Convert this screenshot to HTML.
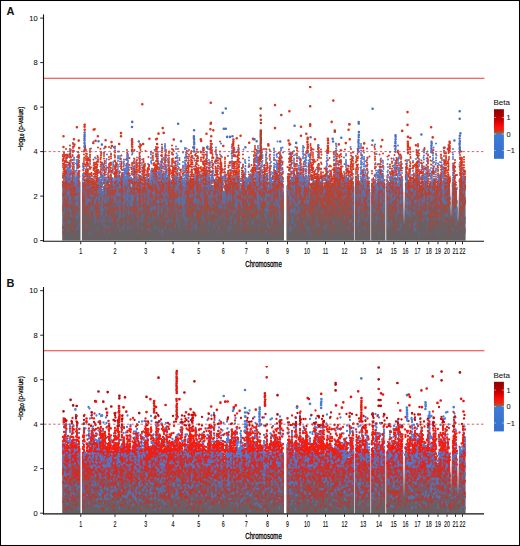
<!DOCTYPE html>
<html><head><meta charset="utf-8"><style>
html,body{margin:0;padding:0;background:#fff;}
svg{display:block;}
text{font-family:"Liberation Sans",sans-serif;fill:#111;}
.pl{font-size:11px;font-weight:bold;}
.yt{font-size:7.5px;text-anchor:end;fill:#111;stroke:#111;stroke-width:0.08px;}
.xt{font-size:8.6px;text-anchor:middle;fill:#111;stroke:#111;stroke-width:0.15px;}
.xl{font-size:9.2px;text-anchor:middle;fill:#000;stroke:#000;stroke-width:0.3px;}
.yl{font-size:7.5px;text-anchor:middle;fill:#000;stroke:#000;stroke-width:0.25px;}
.lg{font-size:8px;fill:#111;stroke:#111;stroke-width:0.06px;}
.lt{font-size:7.4px;fill:#111;stroke:#111;stroke-width:0.06px;}
</style></head><body>
<svg width="520" height="546" viewBox="0 0 520 546">
<defs>
<linearGradient id="cb" x1="0" y1="0" x2="0" y2="1">
<stop offset="0" stop-color="#8c0000"/><stop offset="0.2" stop-color="#c00000"/><stop offset="0.34" stop-color="#ff0a0a"/>
<stop offset="0.44" stop-color="#dd3010"/><stop offset="0.49" stop-color="#777070"/><stop offset="0.51" stop-color="#3f7bd6"/>
<stop offset="1" stop-color="#3270cc"/></linearGradient>
<linearGradient id="gA" gradientUnits="userSpaceOnUse" x1="0" y1="240.6" x2="0" y2="151.6"><stop offset="0.000" stop-color="#656062"/><stop offset="0.100" stop-color="#695f63"/><stop offset="0.200" stop-color="#6c5f63"/><stop offset="0.300" stop-color="#725e65"/><stop offset="0.400" stop-color="#795c66"/><stop offset="0.500" stop-color="#805b67"/><stop offset="0.600" stop-color="#875a69"/><stop offset="0.700" stop-color="#8d596a"/><stop offset="0.800" stop-color="#93586b"/><stop offset="0.900" stop-color="#93586b"/><stop offset="1.000" stop-color="#93586b"/></linearGradient><linearGradient id="gB" gradientUnits="userSpaceOnUse" x1="0" y1="513.2" x2="0" y2="424.20000000000005"><stop offset="0.000" stop-color="#656062"/><stop offset="0.100" stop-color="#6f5c62"/><stop offset="0.200" stop-color="#7a5862"/><stop offset="0.300" stop-color="#7f5662"/><stop offset="0.400" stop-color="#8a5262"/><stop offset="0.500" stop-color="#954d62"/><stop offset="0.600" stop-color="#a14962"/><stop offset="0.700" stop-color="#ad4462"/><stop offset="0.800" stop-color="#b04362"/><stop offset="0.900" stop-color="#b04362"/><stop offset="1.000" stop-color="#b04362"/></linearGradient>
<filter id="soft" x="0" y="0" width="1" height="1"><feGaussianBlur stdDeviation="0.3"/></filter>
</defs>
<rect x="0" y="0" width="520" height="546" fill="#fff"/>
<text x="6.4" y="14.8" class="pl">A</text>
<line x1="44" x2="484" y1="240.60" y2="240.60" stroke="#fafafa" stroke-width="0.6"/>
<line x1="44" x2="484" y1="196.10" y2="196.10" stroke="#fafafa" stroke-width="0.6"/>
<line x1="44" x2="484" y1="151.60" y2="151.60" stroke="#fafafa" stroke-width="0.6"/>
<line x1="44" x2="484" y1="107.10" y2="107.10" stroke="#fafafa" stroke-width="0.6"/>
<line x1="44" x2="484" y1="62.60" y2="62.60" stroke="#fafafa" stroke-width="0.6"/>
<line x1="44" x2="484" y1="18.10" y2="18.10" stroke="#fafafa" stroke-width="0.6"/>
<g filter="url(#soft)"><path d="M62.2 240.6L62.2 182.3L63 182.3L64 185.4L65 180L66 176.8L67 176.3L68 176.7L69 175.7L70 177.2L71 177.3L72 182.5L73 178L74 179.6L75 174.5L76 185.1L77 182.2L78 179.6L79 182.5L80 181.5L80.5 181.5L80.5 240.6ZM81.9 240.6L81.9 179.6L82 179.6L83 183.1L84 183.9L85 180.5L86 177.6L87 179.8L88 181.1L89 181.6L90 179L91 184.5L92 188.7L93 186.3L94 189L95 188.9L96 186.6L97 183.9L98 187.5L99 183.3L100 189.5L101 185.4L102 190.1L103 191.8L104 186.5L105 186.8L106 188.3L107 188L108 184.8L109 184.6L110 184.4L111 180.7L112 184.3L113 185.7L114 186.7L115 181.7L116 179.2L117 176.8L118 179.7L119 181.9L120 179.8L121 182.8L122 180.4L123 179.4L124 183.5L125 183.9L126 184.3L127 178.3L128 171.9L129 177L130 179.7L131 189L132 186.2L133 185.3L134 188.3L135 183.9L136 189.1L137 187.7L138 185.7L139 189.1L140 184.2L141 180.5L142 186.5L143 190.1L144 185.6L145 185L146 188.6L147 187.7L148 186.5L149 185.9L150 182.3L151 181.7L152 176.6L153 174.9L154 176.2L155 175.7L156 174.5L157 175.9L158 183.2L159 180.6L160 181.7L161 177.1L162 179.5L163 179.5L164 180.1L165 176L166 178.6L167 181.6L168 181.5L169 183.9L170 183.3L171 183.6L172 182.8L173 176.8L174 181L175 182L176 183.4L177 181.3L178 186.3L179 187.6L180 186.3L181 183.5L182 183.8L183 185.5L184 187.7L185 184.5L186 179.4L187 180.1L188 181L189 180.7L190 185.1L191 185.6L192 185.8L193 184.1L194 184.1L195 188.1L196 182.6L197 177.5L198 180.9L199 180.8L200 181.1L201 179.6L202 186.2L203 179.9L204 183L205 179.2L206 180.8L207 183.3L208 184L209 180.9L210 185L211 185.8L212 186.6L213 191.2L214 184L215 182L216 182.8L217 179.3L218 184.3L219 184.4L220 178.4L221 177.3L222 187.4L223 197.1L224 195.3L225 187.2L226 187.4L227 186.7L228 183.5L229 186.6L230 184.8L231 181.8L232 181.1L233 180.9L234 184.1L235 182.3L236 184.3L237 179.8L238 172.8L239 179.7L240 188.6L241 188.1L242 185.2L243 181.1L244 178.6L245 183.3L246 186.2L247 181L248 185.8L249 181.4L250 183.1L251 180.9L252 179.7L253 178.8L254 178.1L255 183.7L256 182.8L257 183.2L258 182.4L259 178.9L260 181.8L261 185L262 187L263 186.8L264 183.1L265 186.1L266 181.3L267 181.4L268 183.1L269 187.9L270 185.4L271 182.5L272 188.9L273 182.9L274 177.8L275 179.1L276 179.4L277 173.1L278 173.3L279 180.5L280 181.9L281 183.2L282 184L283 191.8L284 191.8L284 240.6ZM286.4 240.6L286.4 185.2L287 185.2L288 181.8L289 183.6L290 186.4L291 183.6L292 179L293 182L294 178.2L295 179.6L296 183.1L297 178.3L298 183.3L299 180.1L300 183.3L301 182L302 186.9L303 188.5L304 183.1L305 182.8L306 183.1L307 184.9L308 183L309 188L310 190.1L311 188.1L312 189.2L313 189.4L314 187.4L315 186.5L316 186.2L317 179.7L318 178L319 176.2L320 179.4L321 182.9L322 188.1L323 187.6L324 193.1L325 191.3L326 185.8L327 179.6L328 178.1L329 183.3L330 181.9L331 185.3L332 182L333 183.1L334 180.5L335 173.3L336 174.4L337 170.4L338 175.2L339 179.8L340 177L341 174L342 179.8L343 181.2L344 187L345 186.4L346 182.4L347 183.3L348 185.4L349 189.5L350 186L351 182.5L352 181L353 181.3L354 186.6L354.3 186.6L354.3 240.6ZM354.9 240.6L354.9 179.6L355 179.6L356 181.5L357 182.9L358 180.9L359 189.3L360 187.3L361 186.4L362 184.1L363 179.5L364 179.7L365 187.5L366 187.2L367 185.2L368 184.1L369 188.3L370 192.1L370.5 192.1L370.5 240.6ZM371.1 240.6L371.1 184.6L372 184.6L373 184.4L374 189.9L375 181.6L376 192.2L377 190.1L378 180.6L379 182.4L380 182.2L381 186.8L382 181.1L383 186.5L384 184.6L385 183.9L385.4 183.9L385.4 240.6ZM386.2 240.6L386.2 183L387 183L388 188.1L389 188.7L390 186.8L391 187L392 184.2L393 181L394 183.1L395 185.2L396 186.4L397 186.6L398 182.8L399 184L400 182.6L401 183.4L402 186.4L403 182.5L404 225L405 185.4L406 179.8L407 185.1L408 184.8L409 189.7L410 189.1L411 192L412 189.9L413 189.3L414 186.7L415 180.3L416 180.8L417 179.8L418 181.6L419 183.3L420 186.3L421 191.3L422 188.1L423 181L424 180.5L425 183.7L426 178.2L427 181.9L428 184.8L429 188.5L430 189.8L431 188.3L432 179.8L433 182.1L434 186.3L435 187.3L436 186.7L437 191.3L438 187.9L439 183.9L440 182.8L441 181.2L442 186.6L443 191.2L444 184L445 180.3L446 186.8L447 185L448 184.4L449 182.4L450 182.3L451 218.3L452 183.6L453 183.2L454 183.6L455 189.9L456 197.5L457 194.7L458 222.8L459 190.2L460 185.3L461 183.8L462 185.1L463 184.4L464 180.3L465 184.1L465.6 184.1L465.6 240.6Z" fill="url(#gA)"/>
<path transform="scale(.5)" d="M758 463v5M800 463v5M668 462v5M718 459v5M218 464v5M324 458v5M276 464v5M620 465v5M854 462v5M324 465v5M596 460v5M878 461v5M706 465v5M838 464v5M416 459v5M434 462v5M750 459v5M580 459v5M208 461v5M184 462v5M458 459v5M914 460v5M930 461v5M799 459v5M532 461v5M178 464v5M208 462v5M444 462v5M136 459v5M217 460v5M342 459v5" stroke="#5f6987" stroke-width="2.5" stroke-linecap="round" fill="none"/>
<path transform="scale(.5)" d="M856 462v5M320 465v5M522 460v5M638 464v5M198 461v5M126 463v5M857 461v5M412 462v5M550 463v5M468 463v5M538 461v5M903 460v5M715 465v5M498 459v5M668 461v5M668 460v5M548 461v5M643 461v5M900 461v5M798 461v5M562 463v5M788 461v5M298 462v5M690 464v5M611 460v5M620 460v5M636 462v5M627 464v5M746 461v5M478 459v5M150 465v5M666 463v5M632 461v5M499 460v5M596 462v5M548 463v5M278 462v5M864 459v5M460 462v5M202 462v5M700 463v5M288 465v5" stroke="#8d524b" stroke-width="2.5" stroke-linecap="round" fill="none"/>
<path transform="scale(.5)" d="M444 446v5M378 454v5M466 438v5M664 433v5M260 447v5M376 449v5M436 432v5M512 437v5M642 443v5M804 431v5M407 442v5M562 442v5M864 450v5M378 429v5M788 434v5M546 451v5M857 430v5M696 442v5M700 437v5M302 428v5M682 458v5M242 439v5M478 429v5M542 440v5M786 434v5M882 442v5M448 432v5M478 436v5M134 448v5M658 441v5M626 434v5M186 431v5M846 429v5M412 456v5M294 447v5M282 456v5M666 432v5M764 442v5M826 435v5M200 432v5M548 443v5M594 431v5M646 431v5M398 429v5M144 456v5M652 443v5M688 435v5M237 443v5M648 437v5M659 437v5M694 431v5M520 445v5M780 431v5M784 452v5M606 454v5M454 431v5M862 444v5M556 431v5M472 446v5M490 432v5M352 431v5M460 436v5M408 432v5M226 437v5M230 432v5M860 432v5M700 435v5M566 439v5M868 440v5M673 429v5M664 454v5M484 445v5M646 449v5M376 453v5M344 435v5M704 455v5M920 444v5M384 433v5M790 429v5M436 452v5M602 450v5M522 454v5M768 448v5M292 430v5M492 454v5M616 433v5M228 431v5M380 451v5M230 433v5M278 435v5M332 430v5M432 433v5M838 433v5M374 437v5M135 452v5M297 444v5M426 430v5M176 454v5M916 456v5M623 446v5M678 458v5M170 438v5M576 435v5M788 455v5M549 433v5M232 456v5M522 457v5M396 458v5M778 429v5M630 445v5M194 430v5M734 429v5M644 433v5M700 453v5M868 445v5M650 439v5M200 429v5M924 430v5M887 432v5M578 430v5M483 440v5M560 432v5M132 455v5M874 438v5M602 454v5M488 431v5M524 456v5M666 449v5M130 440v5M896 455v5M694 434v5M776 435v5M512 434v5M274 451v5M798 457v5M632 444v5M608 439v5M486 457v5M642 429v5M278 450v5M788 431v5M838 452v5M380 451v5M818 442v5M592 438v5M590 458v5M598 434v5M620 434v5M684 436v5M776 442v5M428 435v5M280 442v5M606 455v5M252 443v5M662 443v5M302 448v5M842 436v5M200 433v5M134 444v5M626 458v5M822 455v5M328 439v5M714 449v5M702 429v5M244 437v5M210 454v5M526 432v5M731 430v5M299 457v5M148 454v5M320 453v5M394 429v5M242 454v5M702 429v5M564 434v5M870 442v5M372 441v5M220 457v5M200 441v5M714 438v5M863 430v5M704 443v5M726 443v5M662 445v5M638 440v5M452 453v5M604 443v5M818 447v5M486 431v5M620 432v5M268 442v5M422 433v5M514 435v5M292 454v5M511 453v5M824 450v5M476 448v5M376 454v5M608 432v5M310 429v5M680 430v5M822 446v5M480 438v5M350 447v5M492 443v5M600 435v5M526 432v5M624 447v5M396 433v5M294 438v5M764 432v5M194 438v5M644 431v5M145 445v5M924 444v5M784 433v5M910 448v5M411 435v5M480 437v5M444 432v5M648 452v5M138 430v5M471 431v5M924 443v5M216 431v5M346 449v5M850 437v5M500 457v5M896 438v5M906 442v5M408 458v5M808 452v5M242 458v5M142 450v5M272 432v5M262 443v5M232 451v5M484 429v5M850 436v5M824 457v5M624 442v5M555 448v5M840 433v5M146 454v5M859 447v5M167 444v5M734 450v5M340 449v5M414 439v5M550 435v5M872 430v5M208 434v5M480 434v5M542 443v5M346 435v5M697 453v5M537 456v5M220 430v5M552 444v5M428 429v5M563 451v5M781 436v5M220 458v5M382 446v5M923 434v5M736 457v5M826 439v5M228 439v5M322 444v5M658 437v5M298 451v5M892 438v5M639 453v5M348 434v5M224 457v5M384 432v5M176 438v5M504 438v5M636 431v5M528 433v5M410 433v5M672 441v5M352 434v5M378 433v5M622 441v5M862 450v5M722 444v5M498 445v5M606 447v5M252 436v5M836 448v5M424 432v5M698 442v5M493 453v5M758 457v5M638 429v5M350 454v5M480 442v5M898 447v5M682 437v5M686 442v5M766 437v5M626 445v5M466 439v5M192 429v5M394 429v5M480 434v5M216 442v5M436 432v5M698 449v5M492 441v5M776 454v5M454 437v5M808 454v5M125 452v5M579 448v5M636 450v5M340 433v5M182 429v5M498 444v5M148 453v5M548 441v5M678 429v5M690 444v5M270 449v5M598 434v5M382 445v5M658 458v5M188 433v5M479 436v5M288 458v5M702 436v5M474 437v5M796 444v5M320 443v5M436 448v5M698 447v5M300 446v5M314 437v5M746 454v5M670 448v5M328 452v5M344 448v5M132 458v5M144 450v5M606 448v5M454 441v5M656 449v5M876 444v5M542 457v5M174 456v5M880 452v5M444 457v5M524 457v5M490 442v5M356 453v5M170 441v5M132 436v5M260 438v5M864 440v5M790 449v5M234 430v5M486 433v5M426 444v5M230 443v5M760 448v5M692 429v5M400 438v5M216 458v5M506 430v5M330 436v5M142 432v5M788 439v5M322 432v5M226 431v5M170 458v5M730 445v5M380 444v5M606 447v5M142 430v5M348 442v5M535 453v5M468 446v5M908 437v5M546 448v5M894 438v5M228 433v5M721 444v5M862 433v5M335 434v5M290 435v5M270 431v5M333 450v5M752 439v5M530 442v5M694 447v5M638 437v5M834 445v5M398 449v5M398 440v5M672 441v5M328 444v5M930 456v5M603 442v5M864 453v5M930 434v5M496 429v5M902 436v5M374 437v5M292 446v5M214 450v5M398 445v5M628 430v5M706 456v5M490 455v5M512 439v5M748 431v5M490 445v5M148 438v5M390 443v5M142 429v5M597 446v5M231 438v5M170 445v5M144 438v5M798 453v5M798 431v5" stroke="#9a4d43" stroke-width="2.5" stroke-linecap="round" fill="none"/>
<path transform="scale(.5)" d="M286 429v5M190 441v5M614 453v5M832 443v5M481 432v5M775 434v5M924 433v5M596 435v5M350 450v5M752 444v5M505 441v5M246 455v5M854 434v5M532 430v5M354 439v5M590 448v5M296 444v5M208 439v5M718 439v5M190 432v5M438 433v5M208 436v5M384 455v5M618 457v5M158 445v5M202 438v5M754 435v5M248 450v5M930 441v5M300 458v5M792 429v5M554 431v5M544 440v5M308 433v5M776 445v5M140 442v5M445 431v5M248 450v5M844 438v5M462 433v5M354 430v5M700 440v5M236 449v5M516 429v5M576 436v5M354 432v5M496 443v5M438 454v5M409 437v5M418 445v5M791 431v5M800 444v5M208 448v5M240 457v5M830 456v5M482 445v5M768 442v5M470 443v5M748 433v5M718 437v5M768 438v5M154 435v5M262 451v5M358 445v5M184 431v5M236 437v5M532 433v5M376 435v5M544 434v5M618 431v5M558 431v5M296 455v5M370 433v5M716 445v5M514 433v5M128 444v5M828 447v5M856 436v5M536 446v5M912 435v5M152 430v5M368 431v5M337 438v5M310 453v5M854 446v5M584 434v5M912 443v5M796 456v5M202 436v5M782 440v5M906 456v5M358 448v5M878 435v5M384 445v5M392 456v5M830 446v5M648 429v5M218 452v5M632 447v5M706 446v5M284 454v5M392 447v5M460 435v5M330 430v5M668 442v5M730 455v5M390 450v5M218 431v5M354 433v5M298 431v5M334 441v5M718 433v5M372 447v5M584 431v5M196 440v5M280 437v5M256 441v5M276 443v5M888 438v5M240 430v5M172 448v5M594 432v5M432 438v5M324 458v5M638 448v5M652 448v5M482 435v5M848 434v5M318 457v5M276 450v5M428 449v5M618 431v5M828 454v5M888 429v5M406 431v5M912 445v5M584 456v5M218 451v5M538 452v5M828 457v5M735 434v5M127 445v5M832 456v5M536 448v5M560 437v5M212 453v5M154 432v5M462 432v5M372 443v5M196 455v5M690 431v5M698 453v5M218 439v5M438 451v5M284 439v5M716 449v5M752 432v5M372 437v5M208 434v5M716 441v5M820 447v5M342 439v5M618 430v5M406 433v5M462 432v5M457 453v5M608 443v5M192 436v5M650 454v5M238 430v5M370 436v5M128 430v5M560 439v5M462 443v5M212 449v5M584 442v5M778 450v5M256 453v5M268 447v5M208 435v5M392 451v5M702 438v5M580 456v5M450 432v5M136 441v5M912 442v5M730 437v5M330 453v5M458 455v5M156 452v5M581 451v5M360 429v5M276 430v5M802 448v5M154 457v5M878 429v5M775 442v5M634 439v5M358 442v5M586 440v5M800 455v5M471 438v5M462 453v5M360 455v5M518 450v5M912 428v5M318 431v5M204 441v5M560 434v5M224 439v5" stroke="#5d6c93" stroke-width="2.5" stroke-linecap="round" fill="none"/>
<path transform="scale(.5)" d="M214 414v5M856 411v5M516 407v5M252 410v5M440 410v5M302 416v5M754 413v5M398 415v5M926 422v5M614 418v5M657 418v5M584 418v5M534 418v5M530 427v5M614 423v5M248 419v5M310 412v5M354 416v5M366 412v5M450 412v5M142 428v5M766 411v5M704 421v5M246 428v5M597 422v5M580 412v5M188 416v5M178 425v5M284 428v5M706 410v5M762 412v5M470 423v5M482 410v5M128 422v5M590 420v5M482 407v5M246 420v5M184 414v5M205 408v5M396 412v5M836 416v5M794 409v5M206 417v5M768 408v5M366 427v5M752 420v5M426 422v5M910 420v5M691 419v5M238 413v5M190 428v5M316 424v5M813 422v5M154 421v5M646 428v5M906 411v5M480 419v5M318 409v5M458 408v5M584 408v5M640 407v5M368 416v5M202 424v5M438 411v5M192 420v5M334 428v5M498 416v5M189 427v5M566 415v5M140 420v5M390 425v5M516 414v5M706 426v5M424 423v5M264 422v5M212 427v5M240 410v5M158 425v5M844 418v5M246 418v5M181 414v5M892 425v5M456 412v5M726 413v5M856 408v5M560 408v5M330 411v5M456 423v5M154 409v5M868 407v5M202 409v5M914 419v5M502 422v5M536 413v5M766 425v5M812 415v5M767 419v5M360 418v5M590 425v5M726 424v5M598 415v5M914 424v5M587 417v5M584 408v5M584 417v5M198 413v5M878 419v5M240 421v5M816 408v5M518 421v5M804 415v5M418 417v5M618 425v5M906 410v5M258 412v5M308 413v5M178 420v5M218 415v5M531 416v5M838 417v5M549 416v5M204 416v5M829 424v5M912 423v5M552 411v5M300 424v5M556 419v5M324 412v5M240 416v5M780 425v5M458 414v5M718 421v5M284 412v5M716 411v5M332 424v5M196 426v5M342 409v5M258 420v5M876 419v5M204 412v5M474 413v5M158 410v5M814 422v5M422 408v5M202 414v5M553 424v5M906 425v5M594 422v5M232 419v5M302 419v5M264 413v5M820 428v5M316 411v5M856 423v5M860 426v5M246 415v5M756 425v5M544 412v5M210 411v5M418 424v5M407 407v5M796 416v5M284 415v5M354 412v5M366 422v5M324 423v5M368 414v5M312 416v5M814 416v5M240 426v5M718 413v5M336 416v5M558 422v5M200 415v5M403 414v5M804 422v5M128 419v5M250 416v5M534 422v5M138 415v5M470 421v5M424 409v5M590 421v5M518 413v5M204 427v5M820 411v5M838 424v5M748 419v5M722 413v5M446 425v5M582 417v5M240 420v5M456 415v5M588 417v5M912 418v5M866 426v5M248 423v5M594 408v5M728 408v5M450 407v5M558 412v5M386 411v5M234 408v5M856 408v5M580 419v5M814 422v5M608 427v5M510 423v5M248 413v5M540 412v5M590 415v5M354 426v5M458 418v5M304 414v5M276 423v5M280 416v5M536 416v5M370 422v5M249 414v5M914 414v5M796 423v5M317 422v5M928 424v5M768 410v5M404 409v5M202 419v5M866 409v5M766 411v5M470 409v5M156 408v5M324 418v5M896 415v5M290 415v5M276 416v5M854 420v5M768 423v5M496 412v5M894 428v5M878 408v5M228 412v5M440 410v5M582 421v5M908 418v5M586 419v5M752 420v5M536 413v5M913 408v5M754 415v5M350 413v5M340 419v5M754 414v5M366 411v5M376 407v5M335 415v5M190 408v5M560 411v5M284 422v5M580 412v5M796 407v5M852 425v5M828 413v5M928 427v5M820 420v5M816 424v5M276 408v5M358 409v5M838 410v5M828 424v5M466 422v5M738 423v5M590 420v5M848 425v5M614 410v5M472 409v5M154 421v5M324 416v5M738 408v5M706 412v5M141 419v5M316 418v5M464 421v5M544 409v5M128 414v5M812 408v5M444 409v5M440 410v5M796 414v5M540 416v5M204 414v5M389 427v5M776 412v5M257 423v5M132 411v5M248 408v5M218 415v5M450 423v5M208 408v5M646 423v5M906 422v5M845 420v5M848 411v5M856 411v5M820 426v5M560 426v5M418 409v5M474 421v5M206 417v5" stroke="#5a709f" stroke-width="2.5" stroke-linecap="round" fill="none"/>
<path transform="scale(.5)" d="M420 412v5M150 417v5M624 419v5M556 423v5M344 413v5M480 423v5M826 407v5M844 419v5M488 411v5M340 420v5M684 413v5M526 428v5M620 422v5M394 421v5M873 428v5M512 420v5M624 408v5M620 425v5M776 413v5M250 413v5M454 426v5M646 408v5M780 423v5M551 411v5M727 413v5M650 428v5M362 409v5M458 409v5M608 426v5M834 421v5M361 428v5M352 412v5M408 418v5M126 411v5M676 412v5M292 427v5M506 426v5M662 423v5M444 424v5M842 426v5M225 416v5M297 417v5M456 422v5M379 414v5M217 416v5M480 416v5M654 412v5M420 407v5M271 414v5M670 412v5M850 409v5M518 421v5M310 421v5M500 414v5M655 418v5M146 411v5M824 415v5M892 412v5M274 414v5M268 419v5M452 419v5M268 413v5M174 422v5M648 428v5M296 409v5M671 418v5M543 412v5M170 417v5M448 421v5M440 418v5M648 410v5M692 421v5M792 418v5M278 422v5M538 413v5M712 422v5M138 407v5M168 413v5M788 413v5M698 410v5M700 428v5M359 410v5M314 409v5M382 420v5M358 412v5M346 418v5M926 412v5M177 426v5M564 412v5M430 418v5M260 412v5M714 413v5M692 419v5M910 409v5M314 416v5M208 407v5M870 412v5M245 415v5M862 413v5M910 407v5M722 415v5M852 416v5M664 427v5M620 416v5M448 427v5M168 408v5M618 422v5M610 418v5M151 419v5M179 417v5M922 414v5M721 416v5M242 410v5M520 422v5M426 415v5M274 417v5M412 420v5M438 421v5M378 407v5M501 410v5M578 420v5M512 407v5M510 407v5M448 426v5M698 425v5M426 407v5M464 422v5M384 417v5M644 407v5M488 427v5M464 414v5M198 425v5M540 413v5M356 415v5M526 409v5M646 425v5M147 420v5M340 423v5M874 408v5M242 413v5M578 414v5M862 422v5M374 427v5M434 412v5M668 410v5M272 422v5M298 427v5M126 410v5M556 428v5M149 425v5M549 424v5M562 409v5M714 427v5M326 427v5M464 422v5M488 414v5M496 414v5M926 410v5M460 414v5M412 413v5M190 414v5M702 414v5M272 413v5M841 417v5M866 426v5M200 408v5M664 421v5M550 414v5M500 427v5M540 409v5M802 428v5M269 417v5M604 422v5M756 412v5M639 419v5M566 409v5M754 417v5M511 424v5M468 412v5M840 421v5M672 423v5M783 422v5M362 407v5M788 413v5M132 409v5M178 419v5M622 418v5M216 423v5M752 424v5M476 420v5M514 424v5M880 426v5M868 428v5M908 412v5M411 417v5M826 419v5M612 415v5M220 418v5M126 417v5M244 424v5M687 422v5M660 422v5M198 416v5M388 407v5M890 417v5M876 428v5M406 408v5M416 412v5M434 411v5M378 418v5M604 420v5M170 423v5M416 416v5M872 411v5M564 427v5M834 423v5M170 409v5M890 416v5M652 409v5M698 425v5M174 409v5M493 414v5M504 408v5M626 414v5M260 416v5M634 420v5M338 422v5M260 426v5M678 407v5M414 409v5M612 411v5M382 427v5M280 421v5M580 413v5M172 411v5M222 421v5M804 415v5M404 412v5M198 423v5M174 408v5M846 412v5M876 421v5M526 419v5M858 412v5M610 428v5M485 427v5M542 409v5M670 408v5M820 413v5M508 425v5M600 425v5M420 423v5M456 414v5M834 422v5M422 419v5M192 413v5M836 409v5M861 426v5M780 409v5M650 416v5M494 423v5M652 423v5M578 414v5M474 409v5M155 415v5M664 420v5M286 420v5M228 416v5M156 412v5M610 408v5M624 425v5M402 413v5M784 422v5M696 414v5M514 416v5M298 413v5M927 410v5M270 422v5M644 408v5M542 410v5M746 428v5M298 422v5M426 428v5M495 412v5M786 412v5M354 408v5M194 422v5M838 424v5M598 427v5M766 428v5M130 427v5M506 425v5M330 416v5M694 426v5M386 428v5M376 420v5M866 421v5M642 411v5M922 426v5M884 420v5M678 422v5M870 416v5M926 428v5M618 415v5M550 416v5M728 417v5M448 425v5M686 410v5M448 426v5M546 411v5M278 428v5M142 412v5M252 408v5M477 410v5M488 408v5M286 409v5M666 414v5M593 416v5M644 411v5M134 411v5M130 428v5M760 413v5M566 414v5M342 410v5M714 412v5M398 428v5M518 421v5M480 410v5M400 418v5M510 425v5M700 426v5M320 426v5M138 421v5M420 414v5M611 414v5M456 418v5M836 418v5M851 412v5M384 411v5M626 425v5M248 420v5M486 427v5M550 424v5M320 428v5M456 428v5M688 426v5M286 408v5M528 410v5M852 408v5M715 408v5M504 414v5M376 418v5M734 413v5M656 420v5M355 427v5M266 412v5M660 417v5M726 422v5M286 419v5M290 416v5M524 409v5M260 419v5M794 413v5M230 416v5M234 414v5M230 418v5M592 428v5M498 418v5M621 424v5M858 427v5M282 423v5M894 409v5M243 416v5M784 417v5M758 425v5M126 417v5M688 413v5M432 417v5M840 411v5M266 409v5M194 416v5M278 408v5M417 414v5M413 428v5M656 410v5M438 424v5M678 421v5M526 414v5M386 417v5M364 409v5M610 424v5M566 417v5M292 415v5M576 411v5M312 420v5M554 428v5M180 409v5M764 408v5M230 413v5M220 415v5M886 411v5M552 415v5M166 423v5M554 426v5M482 424v5M690 418v5M547 412v5M500 416v5M200 412v5M237 415v5M230 410v5M730 414v5M379 424v5M346 417v5M694 412v5M556 415v5M658 411v5M894 416v5M264 416v5M924 418v5M920 415v5M478 413v5M388 413v5M502 411v5M650 411v5M374 420v5M610 415v5M146 420v5M872 425v5M784 424v5M346 422v5M868 411v5M882 426v5M552 415v5M338 411v5M394 424v5M684 428v5M686 410v5M926 421v5M764 425v5M362 412v5M326 420v5M890 409v5M396 427v5M692 427v5M192 416v5M146 410v5M880 410v5M274 415v5M360 412v5M206 408v5M658 426v5M604 424v5M626 414v5M758 410v5M214 421v5M717 408v5M334 424v5M546 417v5M340 424v5M472 422v5M838 424v5M310 424v5M244 413v5M170 416v5M714 425v5M402 424v5M691 414v5M398 411v5M526 426v5M894 419v5M472 424v5M498 410v5M666 423v5M876 407v5M126 410v5M780 420v5M676 422v5M218 410v5M398 422v5M514 417v5M614 416v5M672 412v5M194 428v5M666 421v5M400 427v5M398 410v5M874 407v5M502 427v5M224 426v5M390 407v5M624 416v5M306 421v5M428 418v5M498 411v5M192 410v5M690 418v5M686 416v5M416 408v5M704 420v5M920 410v5M302 426v5M653 425v5M648 417v5M860 426v5M606 422v5M146 410v5M210 408v5M152 410v5M671 417v5M192 426v5M616 408v5M844 427v5M196 419v5M648 407v5M660 426v5M130 425v5M790 415v5M890 424v5M868 425v5M730 408v5M699 410v5M880 428v5M492 416v5M542 427v5M562 413v5M875 428v5M210 407v5M564 418v5M542 422v5M818 409v5M645 411v5M898 407v5M476 420v5M876 415v5M756 413v5M540 424v5M908 422v5M564 411v5M290 413v5M382 424v5M411 411v5M672 418v5M812 409v5M320 408v5M784 424v5M586 412v5M660 422v5M184 427v5" stroke="#a7493b" stroke-width="2.5" stroke-linecap="round" fill="none"/>
<path transform="scale(.5)" d="M766 397v5M386 391v5M610 388v5M524 404v5M326 392v5M576 390v5M430 398v5M694 394v5M482 399v5M646 394v5M658 393v5M210 388v5M512 398v5M282 393v5M340 406v5M452 391v5M652 387v5M864 390v5M364 386v5M182 401v5M873 395v5M288 394v5M345 399v5M898 406v5M398 402v5M504 396v5M400 392v5M608 403v5M460 389v5M664 399v5M472 388v5M524 388v5M562 389v5M677 402v5M230 388v5M524 387v5M884 386v5M189 389v5M665 394v5M652 402v5M546 398v5M194 404v5M480 406v5M876 405v5M168 401v5M402 395v5M896 397v5M788 404v5M670 393v5M610 396v5M792 386v5M288 389v5M510 397v5M186 403v5M582 389v5M892 385v5M798 391v5M816 403v5M270 399v5M168 388v5M608 400v5M698 388v5M664 390v5M622 400v5M724 406v5M720 398v5M682 401v5M786 390v5M562 403v5M244 392v5M576 406v5M214 404v5M304 389v5M408 393v5M302 390v5M148 386v5M480 398v5M278 403v5M748 397v5M324 387v5M844 387v5M900 394v5M566 396v5M864 405v5M386 404v5M874 388v5M886 388v5M678 387v5M410 406v5M748 388v5M684 392v5M926 391v5M910 406v5M326 395v5M134 389v5M510 389v5M466 391v5M220 405v5M798 405v5M578 393v5M228 397v5M563 390v5M760 401v5M482 406v5M694 407v5M702 395v5M860 387v5M600 396v5M673 396v5M506 406v5M168 399v5M372 406v5M788 396v5M426 401v5M620 403v5M846 385v5M206 402v5M429 404v5M286 399v5M206 400v5M804 406v5M408 386v5M352 389v5M477 395v5M624 399v5M468 386v5M674 397v5M152 399v5M690 396v5M226 394v5M432 398v5M144 390v5M698 396v5M641 402v5M930 404v5M272 387v5M170 394v5M548 387v5M388 389v5M310 393v5M432 398v5M216 391v5M194 403v5M876 406v5M759 406v5M188 390v5M400 402v5M244 394v5M606 402v5M908 393v5M414 386v5M210 388v5M632 404v5M701 387v5M442 400v5M626 390v5M332 406v5M762 403v5M132 403v5M684 396v5M922 396v5M804 396v5M282 401v5M245 396v5M717 393v5M428 395v5M338 391v5M382 397v5M630 405v5M192 406v5M430 401v5M130 396v5M615 400v5M426 406v5M134 390v5M664 392v5M436 396v5M798 392v5M363 400v5M836 392v5M288 387v5M132 399v5M790 404v5M924 395v5M306 387v5M882 399v5M380 395v5M561 402v5M494 395v5M412 399v5M512 388v5M186 393v5M728 401v5M690 400v5M216 388v5M322 400v5M148 396v5M642 394v5M322 405v5M714 387v5M586 400v5M426 395v5M678 404v5M814 387v5M654 386v5M608 389v5M778 394v5M469 390v5M322 395v5M632 402v5M616 386v5M292 399v5M752 404v5M493 392v5M628 388v5M786 398v5M198 386v5M859 388v5M564 387v5M692 399v5M662 390v5M414 394v5M912 390v5M301 394v5M354 389v5M252 390v5M502 400v5M410 403v5M790 388v5M144 388v5M198 406v5M704 386v5M578 393v5M556 392v5M552 402v5M322 397v5M732 405v5M780 404v5M436 386v5M404 386v5M926 403v5M676 391v5M606 391v5M292 398v5M480 388v5M402 397v5M874 386v5M580 402v5M214 406v5M183 400v5M746 394v5M314 397v5M270 390v5M362 398v5M788 404v5M414 394v5M428 389v5M882 390v5M502 393v5M689 392v5M134 394v5M208 395v5M604 394v5M681 389v5M840 407v5M730 396v5M869 387v5M756 388v5M835 391v5M781 400v5M202 393v5M508 402v5M840 390v5M804 386v5M734 396v5M288 404v5M658 399v5M700 387v5M668 396v5M718 387v5M616 391v5M345 403v5M276 395v5M703 398v5M652 392v5M274 387v5M222 388v5M310 403v5M336 405v5M554 397v5M914 401v5M744 400v5M584 392v5M880 403v5M270 385v5M144 391v5M834 388v5M356 398v5M868 397v5M626 403v5M750 401v5M454 402v5M636 396v5M298 397v5M126 387v5M732 403v5M898 400v5M866 390v5M716 404v5M598 394v5M684 390v5M444 406v5M656 388v5M328 389v5M528 397v5M714 401v5M282 397v5M895 395v5M404 389v5M180 406v5M722 406v5M311 398v5M884 394v5M305 394v5M874 393v5M824 396v5M536 396v5M660 389v5M850 405v5M668 393v5M648 388v5M352 392v5M674 386v5M492 398v5M831 395v5M840 407v5M223 400v5M668 396v5M793 398v5M830 385v5M746 402v5M242 397v5M228 390v5M140 407v5M734 391v5M444 397v5M874 406v5M760 393v5M504 397v5M910 387v5M270 398v5M656 406v5M376 387v5M912 389v5M366 391v5M824 400v5M328 393v5M405 386v5M456 394v5M176 398v5M874 391v5M844 406v5M260 385v5M194 391v5M280 398v5M132 396v5M696 396v5M760 395v5M494 407v5M837 399v5M694 406v5M926 392v5M234 397v5M180 403v5M478 389v5M760 388v5M858 405v5M650 396v5M424 396v5M664 401v5M386 394v5M852 386v5M804 387v5M656 398v5M581 401v5M313 395v5M850 387v5M643 396v5M454 392v5M148 399v5M682 386v5M666 406v5M732 406v5M228 403v5M815 390v5M624 387v5M186 395v5M402 392v5M822 397v5M496 389v5M220 387v5M608 393v5M350 404v5M622 404v5M342 389v5M530 388v5M652 398v5M186 396v5M320 400v5M377 390v5M386 388v5M680 390v5M556 394v5M540 406v5M690 396v5M614 385v5M908 398v5M666 389v5M436 399v5M348 405v5M350 389v5M882 395v5M424 386v5M538 391v5M226 391v5M576 388v5M192 387v5M558 393v5M294 394v5M254 406v5M378 406v5M154 397v5M338 386v5M582 406v5M180 401v5M292 388v5M668 406v5M178 386v5M910 386v5M858 398v5M280 388v5M450 387v5M524 397v5M674 395v5M804 398v5M246 386v5M890 390v5M852 386v5M278 399v5M644 405v5M744 393v5M546 399v5M680 388v5M226 385v5M732 402v5M782 399v5M632 399v5M884 391v5M524 399v5M290 403v5M852 389v5M894 390v5M486 400v5M530 404v5M826 403v5M842 397v5M864 386v5M646 403v5M874 392v5M636 390v5M746 386v5M270 394v5M661 401v5M526 406v5M456 406v5M334 388v5M926 387v5M520 401v5M833 397v5M310 395v5M286 398v5M362 401v5M840 390v5M208 385v5M486 394v5M714 386v5M660 404v5M707 402v5M226 401v5M842 403v5M684 406v5M874 396v5M822 395v5M490 400v5M314 388v5M760 394v5M858 385v5M604 389v5M640 394v5M436 395v5M460 404v5M654 400v5M602 401v5M818 386v5M732 393v5M690 404v5M892 387v5M282 386v5M379 396v5M392 394v5M525 396v5M234 392v5M842 389v5M446 405v5M924 405v5M750 385v5M484 386v5M166 394v5M352 399v5M906 400v5M426 400v5M880 398v5M816 404v5M306 398v5M860 388v5M476 387v5M409 395v5M884 388v5M610 398v5M194 405v5M704 401v5M582 389v5M320 388v5M326 392v5M602 400v5M624 406v5M892 403v5M488 389v5M388 400v5M378 395v5M642 399v5M595 392v5M382 396v5M608 400v5M362 402v5M352 385v5M310 399v5M288 396v5M732 405v5M426 400v5M348 392v5M414 403v5M280 404v5M604 399v5M328 402v5M868 403v5M308 388v5M286 406v5M686 389v5M494 392v5M482 392v5M576 401v5M298 399v5M448 405v5M910 394v5M802 387v5M688 393v5M690 393v5M876 389v5M921 403v5M759 390v5M600 406v5M784 387v5M170 406v5M686 400v5M644 399v5M385 386v5M230 389v5M816 388v5M611 391v5M682 395v5M931 401v5M884 405v5M278 393v5M170 398v5M644 390v5M186 387v5M428 394v5M216 394v5M694 405v5M732 406v5M148 385v5M430 405v5M562 399v5M174 386v5M834 401v5M880 389v5M642 386v5M797 390v5M812 404v5M592 397v5M464 393v5M188 387v5M350 387v5M868 387v5M464 396v5M542 405v5M578 404v5M628 406v5M554 387v5M506 387v5M388 404v5M750 397v5M654 402v5M448 404v5M680 389v5M426 394v5M148 398v5M478 400v5M895 385v5M662 403v5M612 406v5M352 388v5M690 401v5M493 395v5M320 390v5M730 404v5M304 401v5M180 396v5M604 387v5M818 389v5M670 393v5M174 397v5M236 392v5M506 407v5M660 387v5M271 392v5M442 389v5M383 402v5M440 391v5M320 396v5M414 404v5M550 394v5M696 394v5M426 388v5M220 393v5M726 396v5M822 394v5M412 403v5M290 398v5M768 397v5M930 395v5M158 404v5M900 403v5M340 395v5M501 397v5M140 387v5M306 399v5M336 390v5M166 394v5M214 395v5M508 399v5M179 393v5M622 389v5M897 400v5M252 393v5M850 391v5M393 389v5M920 402v5M396 393v5M720 398v5M342 401v5M676 393v5M354 393v5M423 393v5M592 398v5M776 392v5M358 390v5M691 387v5M288 391v5M152 386v5M730 393v5M362 395v5M628 400v5M696 399v5M597 400v5M344 391v5M376 394v5M223 402v5M638 389v5M266 406v5M860 397v5M374 402v5M332 401v5M564 401v5M516 391v5M340 391v5M634 390v5M899 406v5M696 390v5M313 402v5M374 397v5M624 406v5M520 400v5M646 402v5M478 405v5M924 385v5M266 393v5M584 400v5M912 392v5M402 396v5M246 394v5M296 406v5M792 403v5M636 406v5M414 398v5M282 401v5M550 392v5M134 395v5M758 386v5M798 407v5M216 387v5M694 388v5M878 392v5M282 397v5M882 406v5M668 390v5M876 401v5M880 391v5M881 402v5M750 401v5M462 391v5M130 407v5M486 402v5M244 392v5M837 403v5M466 402v5M434 386v5M634 397v5M784 391v5M480 401v5M850 387v5M356 400v5M166 396v5M480 395v5M502 407v5M788 392v5M792 389v5M292 407v5M431 405v5M884 395v5M480 391v5M624 406v5M528 400v5" stroke="#b44433" stroke-width="2.5" stroke-linecap="round" fill="none"/>
<path transform="scale(.5)" d="M190 402v5M562 394v5M254 397v5M178 398v5M510 400v5M140 393v5M617 400v5M388 399v5M444 405v5M172 391v5M224 389v5M430 387v5M444 401v5M264 398v5M532 393v5M154 396v5M370 401v5M250 388v5M366 385v5M762 395v5M212 390v5M263 392v5M800 389v5M524 396v5M296 403v5M155 394v5M232 390v5M330 388v5M255 406v5M208 395v5M268 390v5M400 402v5M141 393v5M360 396v5M365 399v5M756 387v5M502 391v5M198 394v5M544 397v5M768 404v5M516 399v5M778 386v5M238 387v5M706 399v5M418 388v5M581 392v5M515 397v5M352 397v5M650 404v5M247 391v5M848 395v5M828 386v5M736 388v5M255 394v5M173 398v5M482 401v5M517 394v5M264 393v5M370 390v5M690 391v5M616 402v5M314 386v5M385 387v5M886 392v5M372 386v5M862 390v5M580 395v5M304 398v5M240 388v5M262 396v5M724 396v5M614 392v5M406 385v5M370 396v5M510 399v5M484 391v5M856 391v5M434 386v5M610 401v5M892 392v5M582 401v5M558 397v5M470 386v5M386 386v5M358 405v5M724 389v5M478 399v5M734 398v5M722 386v5M228 392v5M158 389v5M540 405v5M154 392v5M434 397v5M582 393v5M782 393v5M172 394v5M274 396v5M536 401v5M212 396v5M582 396v5M331 386v5M364 397v5M590 406v5M290 400v5M212 389v5M216 396v5M266 385v5M420 389v5M550 406v5M605 387v5M254 393v5M172 405v5M922 405v5M198 389v5M686 393v5M308 393v5M390 391v5M596 393v5M596 405v5M496 387v5M296 398v5M820 403v5M368 404v5M262 405v5M912 385v5M318 386v5M228 403v5M295 405v5M250 399v5M284 403v5M210 401v5M800 388v5M390 402v5M463 397v5M752 403v5M174 402v5M152 405v5M718 389v5M157 387v5M474 386v5M788 394v5M193 392v5M364 406v5M184 390v5M262 390v5M396 403v5M736 390v5M250 396v5M236 385v5M204 396v5M456 393v5M462 388v5M276 394v5M782 399v5M283 395v5M154 395v5M198 402v5M182 398v5M212 400v5M132 392v5M618 386v5M778 388v5M179 385v5M366 395v5M426 391v5M406 400v5M534 406v5M364 391v5M455 397v5M889 403v5M232 398v5M406 403v5M296 390v5M258 388v5M558 390v5M418 390v5M423 392v5M536 387v5M736 406v5M888 398v5M556 406v5M406 396v5M328 397v5M358 399v5M704 390v5M736 404v5M600 400v5M517 391v5M738 394v5M432 388v5M892 401v5M782 393v5M812 402v5M446 391v5M794 385v5M844 406v5M254 395v5M450 392v5M580 405v5M802 388v5M844 398v5M490 392v5M473 402v5M336 389v5M462 392v5M392 397v5M272 387v5M596 389v5M752 391v5M784 386v5M756 386v5M886 399v5M218 391v5M530 397v5M276 395v5M712 388v5M204 394v5M290 392v5M802 400v5M266 391v5M318 400v5M254 387v5M762 401v5M456 400v5M228 387v5M644 390v5M190 398v5M782 395v5M516 396v5M446 387v5M324 399v5M140 401v5M456 399v5M522 396v5M849 390v5M418 403v5M334 405v5M172 403v5M358 402v5M724 402v5M804 397v5M866 392v5M876 390v5M450 389v5M856 394v5M888 401v5M482 405v5M587 398v5M802 389v5M332 397v5M176 398v5M728 388v5M790 389v5M324 385v5M888 402v5M812 403v5M356 395v5M156 403v5M390 394v5M390 402v5M366 386v5M495 398v5M350 403v5M786 396v5M614 401v5M150 393v5M714 388v5M814 404v5M250 392v5M554 402v5M534 387v5M832 400v5M512 403v5M552 397v5M816 404v5M752 395v5M796 399v5M544 387v5M448 401v5M360 403v5M276 406v5M814 395v5M290 389v5M560 386v5M396 398v5M450 394v5M308 386v5M470 393v5M838 399v5M518 389v5M428 404v5M782 402v5M862 396v5M140 386v5M514 389v5M276 392v5M640 388v5M140 404v5M370 394v5M725 397v5M354 401v5M782 390v5M366 401v5M768 395v5M380 390v5M776 402v5M261 406v5M748 397v5M446 399v5M358 392v5M204 406v5M474 398v5M364 399v5M248 403v5M762 386v5M538 388v5M202 388v5M748 388v5M579 393v5M140 399v5M258 400v5M856 403v5M824 392v5M366 386v5M912 392v5M384 387v5M838 399v5M262 403v5M262 401v5M358 400v5M887 390v5M240 399v5M590 404v5M498 406v5M618 389v5M748 387v5M276 386v5M190 401v5M482 405v5M188 387v5M830 401v5M878 402v5M229 395v5M198 403v5M264 406v5M587 397v5M402 390v5M204 401v5M418 391v5M752 388v5M250 391v5M406 391v5M906 392v5M838 406v5M752 394v5M730 388v5M364 400v5M182 387v5M316 401v5M888 397v5M368 385v5M452 390v5M474 407v5M628 386v5M582 385v5M424 400v5M323 398v5M236 402v5M433 386v5M848 400v5M258 400v5M300 394v5M240 389v5M314 400v5M672 388v5M716 396v5M814 403v5M820 402v5M450 401v5M884 395v5M800 389v5M800 403v5M532 388v5M530 396v5M518 403v5M518 406v5M606 389v5M598 401v5M332 403v5M266 398v5M264 395v5M458 390v5M482 401v5M342 400v5M154 402v5M877 402v5M328 390v5" stroke="#5873ab" stroke-width="2.5" stroke-linecap="round" fill="none"/>
<path transform="scale(.5)" d="M272 382v5M128 374v5M820 365v5M372 376v5M618 366v5M390 376v5M418 384v5M300 379v5M684 365v5M560 376v5M260 379v5M510 369v5M776 365v5M306 367v5M752 379v5M852 375v5M856 373v5M470 378v5M284 377v5M334 372v5M590 365v5M330 370v5M276 381v5M854 382v5M138 383v5M430 371v5M182 383v5M584 371v5M202 368v5M686 382v5M718 367v5M304 384v5M750 371v5M374 375v5M262 374v5M525 369v5M928 373v5M460 383v5M778 376v5M138 370v5M240 370v5M324 371v5M196 372v5M558 375v5M854 373v5M752 380v5M814 379v5M532 367v5M428 374v5M514 384v5M456 368v5M256 371v5M195 380v5M254 378v5M202 372v5M444 366v5M506 368v5M354 365v5M604 375v5M914 374v5M794 378v5M158 368v5M752 373v5M718 372v5M686 375v5M196 379v5M408 376v5M316 372v5M368 371v5M368 380v5M438 364v5M632 370v5M746 374v5M458 366v5M736 364v5M282 385v5M414 366v5M930 373v5M474 368v5M582 383v5M368 378v5M812 380v5M248 380v5M888 383v5M234 385v5M172 382v5M368 365v5M330 368v5M496 364v5M652 365v5M296 373v5M234 375v5M745 368v5M596 385v5M638 376v5M422 368v5M438 365v5M371 378v5M204 369v5M190 382v5M316 366v5M866 370v5M752 375v5M196 380v5M510 378v5M878 385v5M516 371v5M928 364v5M370 385v5M199 376v5M888 369v5M128 372v5M892 373v5M560 377v5M183 380v5M220 371v5M174 384v5M308 366v5M496 382v5M830 383v5M298 377v5M284 375v5M884 366v5M738 367v5M588 381v5M135 385v5M722 383v5M486 372v5M158 365v5M536 376v5M238 373v5M626 382v5M154 374v5M423 378v5M258 373v5M205 383v5M927 375v5M867 371v5M866 364v5M888 372v5M365 374v5M368 379v5M248 371v5M458 364v5M458 365v5M276 371v5M706 385v5M470 366v5M922 377v5M754 382v5M366 371v5M240 373v5M474 375v5M406 380v5M184 369v5M596 366v5M906 380v5M136 376v5M246 384v5M660 365v5M232 381v5M686 366v5M752 376v5M628 368v5M752 380v5M254 384v5M706 366v5M516 381v5M354 377v5M281 365v5M892 380v5M248 371v5M578 370v5M582 379v5M510 369v5M738 374v5M184 370v5M596 366v5M848 376v5M724 364v5M250 371v5M228 381v5M248 368v5M712 364v5M818 385v5M370 365v5M766 376v5M422 385v5M580 378v5M815 365v5M466 380v5M402 385v5M256 379v5M482 372v5M188 365v5M310 381v5M384 373v5M158 384v5M196 373v5M832 373v5M926 382v5M182 382v5M178 368v5M576 374v5M256 366v5M262 364v5M238 367v5M724 383v5M854 367v5M136 385v5M233 379v5M866 365v5M538 381v5M284 381v5M590 366v5M184 371v5M924 364v5M324 384v5M728 374v5M206 385v5M352 371v5M828 370v5M316 371v5M308 385v5M736 375v5M136 373v5M318 376v5M334 379v5M454 379v5M738 381v5M756 368v5M884 378v5M196 367v5M136 377v5M350 377v5M516 379v5M150 368v5M798 372v5M360 384v5M718 371v5M586 369v5M748 374v5M440 367v5M300 366v5M576 376v5M208 384v5M560 364v5M471 366v5M518 375v5M816 366v5M537 376v5M828 371v5M482 383v5M463 366v5M612 381v5M602 369v5M705 379v5M866 383v5M716 366v5M154 377v5M354 374v5M887 378v5M739 383v5M830 365v5M530 378v5M852 366v5M776 382v5M266 367v5M846 382v5M878 371v5M878 368v5M726 381v5M382 367v5M724 383v5M719 365v5M130 372v5M474 371v5M250 371v5M518 375v5M246 374v5M494 377v5M392 384v5M583 382v5M818 366v5M332 367v5M704 380v5M928 380v5M462 374v5M295 371v5M238 374v5M754 373v5M474 382v5M358 378v5M364 364v5M716 369v5M440 376v5M384 373v5M768 364v5M416 373v5M848 366v5M417 373v5M812 381v5M892 368v5M724 370v5M268 377v5M406 377v5M640 379v5M460 366v5M284 374v5M392 368v5M526 370v5M316 367v5M134 376v5M172 375v5M361 373v5M176 371v5M767 379v5M414 383v5M296 371v5M584 365v5M800 372v5M282 375v5M490 369v5M794 381v5M424 384v5M146 383v5M308 369v5M912 380v5M582 368v5M837 371v5M202 365v5M368 382v5M812 364v5M736 371v5M718 384v5M852 370v5M354 364v5M738 382v5M866 382v5M189 376v5M372 379v5M504 373v5M438 364v5M360 375v5M266 384v5M756 364v5M336 365v5M286 377v5M482 381v5M624 382v5M422 366v5M673 369v5M584 365v5M892 376v5M252 384v5M779 367v5M262 371v5M754 366v5M793 382v5M648 385v5M606 373v5M334 382v5M237 365v5M190 365v5M424 384v5M762 367v5M496 367v5M274 374v5M510 365v5M544 371v5M419 383v5M560 373v5M470 376v5M416 365v5M577 385v5M238 375v5M494 379v5M838 383v5M308 382v5M266 378v5M756 373v5M516 365v5M848 368v5M768 379v5M814 372v5M438 366v5M358 372v5M241 372v5M157 372v5M603 383v5M778 366v5M544 370v5M286 383v5M256 366v5M738 365v5M762 369v5M154 380v5M440 368v5M716 372v5M852 370v5M750 367v5M828 371v5M854 369v5M538 364v5M826 380v5M559 382v5M782 372v5M166 384v5M871 378v5M440 383v5M330 378v5M296 376v5M334 384v5M300 378v5M186 367v5M372 370v5M290 365v5M864 371v5M812 385v5M479 384v5M812 375v5M756 372v5M592 379v5M640 372v5M248 373v5M728 377v5M722 365v5M508 379v5M582 385v5M535 376v5M912 383v5M392 369v5M392 379v5M458 383v5M184 377v5M778 377v5M334 371v5M758 377v5M478 364v5M240 364v5M800 378v5M352 383v5M236 372v5M588 370v5M364 380v5M614 371v5M384 378v5M828 367v5M891 369v5M442 369v5M820 382v5M816 381v5M728 380v5M190 373v5M212 378v5M378 364v5M372 372v5M406 365v5M818 370v5M546 369v5M276 367v5M580 372v5M370 378v5M640 370v5M892 371v5M582 381v5M838 379v5M159 380v5M296 384v5M212 382v5M240 371v5M779 369v5M236 372v5M718 376v5M236 373v5M848 379v5M368 364v5M538 378v5M724 371v5M738 370v5M368 370v5M266 381v5M619 374v5M589 374v5M756 377v5M928 368v5M236 379v5M238 385v5M800 375v5M166 373v5M854 369v5M344 366v5" stroke="#5676b8" stroke-width="2.5" stroke-linecap="round" fill="none"/>
<path transform="scale(.5)" d="M634 372v5M146 376v5M460 382v5M338 372v5M811 367v5M498 373v5M854 385v5M667 383v5M280 364v5M844 376v5M498 385v5M646 380v5M704 373v5M676 367v5M210 373v5M678 365v5M670 364v5M224 382v5M324 374v5M832 365v5M872 377v5M558 373v5M655 376v5M648 374v5M200 369v5M357 367v5M356 378v5M166 366v5M582 378v5M633 374v5M366 373v5M382 371v5M896 381v5M866 364v5M348 366v5M294 377v5M678 367v5M174 383v5M512 367v5M702 368v5M218 368v5M147 377v5M868 369v5M782 368v5M786 366v5M322 379v5M780 377v5M272 365v5M228 372v5M598 372v5M528 383v5M816 369v5M868 373v5M270 374v5M700 371v5M390 364v5M826 382v5M523 373v5M898 365v5M524 372v5M852 372v5M610 381v5M268 376v5M228 365v5M882 364v5M484 380v5M362 366v5M592 376v5M658 378v5M859 380v5M292 365v5M720 374v5M622 382v5M194 369v5M780 377v5M584 365v5M524 365v5M922 375v5M852 367v5M130 384v5M200 371v5M328 365v5M609 374v5M624 367v5M624 384v5M820 365v5M860 373v5M376 364v5M832 377v5M184 367v5M158 385v5M508 383v5M696 366v5M444 379v5M680 382v5M476 372v5M138 370v5M394 364v5M322 384v5M244 372v5M236 369v5M642 376v5M884 373v5M896 382v5M168 366v5M304 373v5M214 366v5M626 376v5M336 380v5M442 372v5M878 369v5M906 384v5M824 366v5M498 384v5M290 372v5M174 379v5M633 381v5M226 385v5M252 382v5M155 364v5M860 380v5M514 364v5M746 371v5M402 372v5M760 379v5M674 370v5M524 372v5M508 378v5M445 379v5M844 383v5M648 383v5M594 377v5M696 365v5M494 378v5M604 368v5M170 375v5M314 383v5M428 383v5M758 384v5M598 367v5M842 376v5M504 366v5M601 383v5M200 371v5M251 365v5M498 371v5M142 384v5M760 367v5M840 370v5M594 384v5M412 365v5M386 364v5M884 381v5M332 379v5M134 377v5M610 377v5M655 382v5M616 382v5M144 381v5M764 380v5M520 383v5M820 379v5M654 365v5M418 384v5M452 368v5M924 364v5M758 366v5M544 377v5M774 372v5M840 379v5M746 383v5M362 376v5M188 377v5M384 366v5M194 368v5M703 365v5M226 370v5M485 377v5M592 384v5M870 365v5M562 378v5M516 370v5M650 385v5M542 367v5M756 383v5M528 381v5M863 373v5M146 378v5M548 375v5M814 373v5M512 369v5M267 371v5M270 370v5M646 367v5M428 371v5M486 376v5M926 369v5M566 370v5M754 367v5M388 367v5M624 367v5M502 375v5M226 377v5M408 380v5M598 367v5M872 372v5M246 379v5M858 369v5M782 366v5M216 366v5M714 366v5M148 385v5M738 377v5M151 364v5M746 378v5M490 384v5M668 378v5M735 379v5M150 373v5M792 372v5M826 380v5M148 374v5M641 365v5M378 374v5M779 375v5M460 366v5M318 382v5M280 382v5M886 368v5M694 364v5M834 370v5M610 364v5M722 374v5M674 377v5M792 364v5M557 367v5M363 378v5M420 384v5M398 369v5M577 372v5M279 372v5M292 375v5M646 380v5M556 372v5M180 376v5M281 376v5M378 382v5M546 371v5M436 367v5M930 367v5M138 374v5M746 375v5M870 368v5M306 364v5M488 364v5M280 371v5M442 371v5M272 380v5M476 364v5M380 373v5M882 367v5M726 371v5M846 374v5M930 367v5M874 373v5M860 365v5M142 375v5M838 377v5M705 379v5M431 383v5M500 382v5M822 379v5M294 369v5M312 371v5M394 371v5M868 367v5M302 381v5M294 380v5M316 365v5M818 366v5M792 369v5M638 378v5M142 367v5M209 371v5M926 364v5M382 372v5M670 370v5M414 370v5M518 381v5M499 364v5M779 373v5M651 364v5M834 380v5M650 385v5M324 368v5M546 368v5M180 379v5M236 365v5M187 371v5M822 374v5M638 376v5M790 367v5M430 381v5M284 365v5M870 373v5M460 380v5M313 377v5M926 374v5M677 378v5M245 377v5M274 380v5M188 384v5M252 366v5M662 371v5M722 373v5M493 385v5M638 377v5M372 373v5M735 378v5M478 372v5M192 370v5M288 377v5M492 379v5M566 372v5M822 378v5M884 370v5M228 366v5M622 370v5M664 366v5M720 380v5M824 372v5M612 379v5M472 366v5M346 382v5M268 383v5M502 382v5M278 376v5M230 377v5M898 376v5M717 371v5M500 383v5M860 381v5M386 383v5M192 367v5M500 370v5M488 376v5M442 380v5M148 377v5M622 383v5M280 370v5M244 369v5M312 383v5M798 380v5M746 379v5M732 367v5M454 368v5M142 365v5M356 378v5M850 385v5M750 372v5M444 374v5M171 366v5M192 385v5M720 383v5M184 383v5M209 377v5M564 383v5M649 370v5M464 364v5M308 369v5M736 382v5M258 367v5M842 374v5M466 381v5M346 368v5M860 371v5M554 370v5M886 385v5M658 371v5M908 376v5M680 370v5M130 364v5M180 364v5M298 367v5M467 371v5M776 370v5M394 378v5M684 382v5M610 379v5M520 384v5M750 364v5M412 365v5M911 382v5M792 381v5M780 373v5M529 369v5M822 380v5M396 377v5M526 366v5M840 381v5M781 375v5M304 376v5M774 378v5M876 371v5M426 376v5M532 377v5M880 375v5M176 381v5M880 373v5M644 365v5M722 382v5M630 382v5M818 370v5M896 366v5M814 366v5M387 368v5M302 368v5M930 376v5M625 372v5M720 373v5M526 370v5M696 371v5M386 380v5M492 367v5M538 365v5M620 366v5M714 385v5M440 378v5M624 377v5M220 380v5M874 373v5M378 383v5M920 367v5M662 371v5M650 371v5M406 374v5M268 368v5M460 371v5M296 372v5M638 366v5M388 380v5M266 383v5M214 376v5M370 384v5M340 367v5M344 379v5M556 383v5M474 374v5M660 380v5M244 381v5M272 374v5M790 365v5M698 374v5M679 369v5M402 376v5M414 366v5M362 370v5M632 376v5M348 375v5M786 379v5M552 373v5M878 367v5M654 384v5M785 373v5M598 385v5M168 369v5M633 381v5M630 372v5M592 381v5M476 370v5M910 372v5M626 364v5M644 367v5M658 370v5M924 369v5M542 379v5M870 366v5M628 377v5M278 379v5M910 369v5M909 382v5M340 375v5M132 372v5M452 371v5M478 375v5M513 367v5M656 381v5M758 365v5M501 380v5M538 364v5M424 371v5M486 364v5M636 384v5M344 383v5M552 371v5M302 385v5M678 369v5M776 366v5M188 366v5M662 377v5M302 367v5M804 371v5M720 380v5M630 385v5M648 382v5M874 380v5M134 365v5M869 385v5M638 373v5M826 375v5M199 367v5M484 367v5M476 369v5M883 385v5M183 367v5M674 383v5M652 373v5M622 369v5M230 381v5M194 376v5M296 364v5M826 378v5M892 371v5M856 384v5M190 381v5M216 384v5M602 372v5M612 374v5M472 373v5M490 378v5M518 365v5M818 373v5M492 368v5M826 380v5M200 369v5M496 371v5M869 372v5M676 379v5M748 364v5M876 365v5M488 376v5M332 371v5M658 385v5M502 374v5M514 377v5M500 373v5M502 384v5M566 377v5M868 367v5M422 378v5M362 374v5M228 381v5M431 384v5M764 365v5M200 379v5M698 371v5M924 369v5M717 367v5M374 379v5M521 370v5M528 366v5M642 373v5M267 378v5M612 374v5M536 382v5M666 383v5M348 385v5M680 368v5M168 372v5M302 370v5M242 377v5M348 367v5M602 365v5M702 372v5M836 382v5M528 379v5M600 371v5M640 366v5M894 371v5M922 366v5M224 383v5M876 377v5M271 374v5M658 371v5M780 377v5M254 371v5M274 378v5M700 378v5M134 373v5M430 368v5M696 383v5M560 365v5M522 380v5M312 380v5M824 375v5M200 381v5M456 379v5M860 372v5M805 384v5M886 383v5M846 366v5M730 366v5M410 385v5M192 379v5M512 368v5M890 374v5M598 375v5M858 375v5M894 382v5M720 365v5M641 385v5M758 383v5M436 370v5M882 368v5M862 367v5M468 375v5M859 379v5M836 365v5M320 371v5M631 366v5M504 383v5M454 384v5M664 370v5M874 378v5M546 373v5M326 370v5M862 378v5M816 365v5M564 385v5M498 370v5M636 370v5M540 378v5M865 370v5M214 365v5M232 378v5M383 372v5M210 377v5M598 369v5M616 382v5M870 372v5M146 376v5M374 382v5M508 383v5M198 366v5M578 369v5M294 369v5M404 364v5M792 384v5M203 367v5M500 367v5M394 368v5M144 383v5M698 380v5M602 378v5M764 383v5M818 378v5M488 369v5M598 369v5M336 369v5M408 375v5M400 382v5M644 371v5M638 373v5M844 374v5M858 376v5M328 364v5M244 385v5M432 370v5M454 377v5M286 366v5M126 369v5M792 376v5M376 382v5M465 373v5M792 370v5M662 371v5M784 375v5M908 381v5M622 369v5M380 375v5M564 368v5M174 383v5M730 376v5M214 375v5M326 377v5M646 383v5M378 373v5M924 385v5M826 379v5M176 382v5M138 367v5M400 364v5M878 368v5M454 376v5M712 374v5M528 373v5M696 369v5M890 369v5M362 368v5M793 383v5M210 365v5M386 368v5M454 380v5M460 366v5M312 378v5M666 366v5M252 367v5M696 366v5M670 374v5M224 378v5M924 364v5M629 364v5M384 374v5M780 376v5M796 373v5M818 383v5M362 385v5M472 369v5M468 382v5M799 373v5M692 365v5M732 365v5M552 378v5M592 381v5M180 385v5M656 370v5M464 382v5M582 385v5M512 385v5M920 378v5M311 381v5M566 380v5M156 368v5M876 384v5M278 383v5M786 367v5M286 379v5M912 380v5M562 367v5M634 364v5M898 373v5M538 376v5M822 380v5M320 368v5M342 364v5M430 372v5M514 367v5M922 367v5M452 378v5M238 377v5M506 374v5M616 368v5M662 374v5M750 375v5M490 364v5M130 373v5M850 381v5M374 383v5M686 374v5M228 366v5M530 370v5M872 372v5M176 380v5M811 384v5M282 379v5M642 368v5M880 365v5M238 380v5M870 375v5M868 368v5M698 367v5M744 369v5M700 378v5M662 374v5M269 385v5M276 376v5M730 364v5M790 374v5M280 372v5M924 364v5M484 373v5M168 371v5M500 364v5M886 381v5M698 371v5M148 379v5M508 367v5M424 377v5M232 377v5M925 377v5M780 381v5M372 382v5M272 375v5M396 366v5M498 370v5M640 377v5M880 369v5M404 364v5M260 373v5M496 370v5M910 385v5M338 380v5M168 370v5M798 384v5M876 384v5M431 366v5M320 364v5M566 377v5M480 384v5M434 368v5M600 378v5M662 380v5M454 369v5M348 375v5M289 371v5M466 380v5M300 373v5M376 384v5M628 364v5M542 382v5M486 372v5M130 373v5M884 366v5M714 364v5M344 364v5M538 381v5M884 380v5M530 365v5M352 383v5M782 374v5M690 372v5M134 366v5M862 365v5M824 384v5M642 367v5M528 384v5M608 364v5M193 385v5M652 371v5M504 382v5M292 375v5M554 371v5M176 369v5M492 368v5M414 372v5M317 381v5M600 383v5M594 364v5M526 367v5M244 375v5M326 372v5M628 383v5M760 375v5M738 371v5M734 383v5M340 371v5M614 380v5M306 377v5M776 370v5M506 380v5M921 383v5M170 364v5M424 375v5M526 379v5M930 372v5M666 367v5M578 373v5M528 364v5M848 376v5M266 369v5M210 366v5M760 378v5M688 384v5M530 374v5M600 384v5M676 384v5M180 384v5M288 375v5M896 381v5M792 375v5M666 385v5M842 375v5M670 364v5M316 366v5M684 384v5M226 368v5M923 367v5M166 383v5M272 376v5M660 384v5M460 374v5M350 365v5M252 374v5M646 376v5M408 378v5" stroke="#c23f2c" stroke-width="2.5" stroke-linecap="round" fill="none"/>
<path transform="scale(.5)" d="M150 347v5M832 361v5M138 359v5M352 360v5M373 350v5M846 352v5M552 344v5M684 351v5M578 353v5M616 356v5M126 363v5M550 351v5M920 359v5M258 349v5M634 350v5M726 344v5M580 363v5M832 347v5M880 357v5M186 358v5M502 359v5M676 347v5M505 357v5M506 346v5M348 353v5M152 363v5M898 355v5M220 354v5M504 353v5M478 354v5M610 357v5M132 343v5M680 342v5M302 350v5M694 360v5M428 363v5M222 348v5M676 357v5M898 363v5M920 362v5M168 357v5M222 347v5M245 362v5M131 355v5M790 355v5M260 359v5M222 351v5M830 362v5M728 358v5M882 357v5M198 358v5M606 363v5M279 362v5M320 348v5M158 351v5M696 356v5M829 358v5M602 351v5M304 363v5M484 357v5M804 363v5M472 357v5M506 357v5M130 349v5M152 360v5M134 348v5M404 359v5M350 358v5M614 361v5M414 357v5M492 361v5M464 359v5M174 350v5M864 344v5M900 359v5M326 359v5M890 347v5M696 362v5M387 361v5M864 348v5M804 359v5M552 355v5M364 359v5M564 354v5M222 363v5M666 352v5M242 357v5M272 363v5M634 354v5M176 359v5M610 362v5M898 355v5M328 358v5M305 343v5M488 344v5M280 363v5M730 362v5M288 356v5M148 363v5M355 360v5M169 361v5M774 351v5M522 363v5M329 356v5M412 360v5M520 358v5M144 353v5M290 363v5M374 351v5M894 356v5M520 350v5M672 354v5M578 358v5M864 361v5M555 350v5M486 363v5M782 363v5M304 351v5M554 357v5M490 351v5M356 360v5M522 363v5M314 358v5M146 350v5M890 359v5M394 359v5M150 348v5M564 360v5M890 350v5M466 358v5M420 363v5M908 354v5M618 361v5M328 354v5M138 347v5M549 344v5M548 360v5M374 359v5M370 354v5M834 363v5M312 353v5M256 346v5M696 359v5M354 353v5M832 362v5M702 360v5M138 345v5M416 362v5M598 360v5M674 348v5M550 359v5M550 350v5M280 357v5M248 361v5M871 358v5M834 345v5M174 355v5M476 363v5M678 348v5M156 353v5M304 362v5M746 363v5M612 361v5M401 356v5M316 353v5M786 348v5M276 360v5M890 345v5M693 356v5M764 353v5M234 363v5M687 356v5M468 363v5M896 356v5M306 353v5M494 363v5M430 361v5M554 347v5M434 345v5M514 361v5M146 347v5M138 349v5M326 360v5M414 352v5M520 350v5M216 358v5M612 353v5M634 356v5M678 351v5M410 346v5M472 360v5M222 360v5M234 352v5M785 352v5M891 360v5M270 361v5M896 361v5M758 355v5M550 349v5M218 360v5M512 362v5M680 354v5M760 350v5M504 350v5M244 348v5M332 343v5M434 360v5M338 359v5M218 358v5M180 346v5M440 353v5M176 355v5M339 359v5M669 353v5M590 363v5M528 351v5M758 350v5M714 352v5M576 357v5M681 356v5M601 361v5M466 358v5M636 360v5M288 357v5M870 362v5M362 353v5M556 362v5M641 352v5M668 356v5M660 349v5M332 344v5M864 345v5M520 362v5M642 352v5M142 344v5M922 352v5M126 351v5M172 346v5M750 348v5M633 356v5M930 355v5M896 355v5M174 357v5M222 362v5M758 355v5M727 348v5M186 359v5M764 349v5M882 352v5M680 344v5M166 351v5M230 363v5M438 356v5M594 363v5M612 357v5M312 353v5M468 358v5M266 358v5M326 356v5M220 355v5M320 351v5M418 363v5M486 351v5M672 346v5M308 362v5M671 360v5M382 359v5M846 363v5M654 350v5M502 352v5M320 352v5M612 358v5M792 363v5M928 359v5M487 348v5M612 355v5M350 348v5M670 359v5M616 353v5M142 362v5M303 355v5M784 356v5M676 348v5M920 358v5M338 357v5M134 356v5M758 360v5M872 360v5M158 352v5M598 352v5M468 358v5M352 360v5M303 359v5M245 346v5M290 360v5M694 359v5M734 363v5M611 353v5M506 345v5M682 344v5M236 351v5M442 348v5M324 359v5M497 358v5M138 348v5M520 355v5M306 355v5M924 358v5M364 359v5M478 344v5M410 351v5M146 363v5M150 360v5M192 359v5M478 347v5M338 359v5M370 357v5M442 352v5M514 351v5M786 363v5M608 353v5M364 355v5M186 358v5M501 363v5M682 350v5M686 351v5M290 355v5M512 363v5M474 347v5M545 354v5M870 362v5M442 361v5M554 346v5M378 362v5M442 343v5M548 362v5M356 358v5M506 363v5M638 358v5M714 358v5M550 348v5M310 345v5M252 361v5M244 349v5M900 361v5M388 355v5M896 355v5M246 351v5M716 363v5M680 362v5M498 354v5M242 363v5M400 349v5M346 355v5M294 363v5M593 363v5M786 358v5M416 359v5M336 361v5M224 359v5M402 352v5M575 352v5M380 362v5M502 347v5M442 346v5M658 363v5M150 357v5M489 352v5M850 361v5M455 356v5M683 349v5M134 360v5M234 357v5M374 353v5M598 345v5M550 348v5M346 346v5M234 356v5M717 358v5M529 357v5M146 360v5M444 363v5M252 356v5M374 355v5M230 350v5M494 356v5M528 362v5M676 342v5M178 358v5M472 354v5M692 358v5M235 354v5M894 361v5M460 354v5M836 363v5M756 361v5M328 364v5M412 361v5M466 352v5M246 350v5M408 350v5M340 356v5M494 358v5M460 360v5M356 362v5M182 363v5M898 355v5M542 358v5M674 355v5M412 347v5M180 359v5M776 362v5M540 360v5M383 358v5M144 360v5M464 358v5M562 360v5M894 362v5M224 363v5M222 354v5M282 352v5M846 350v5M660 362v5M476 362v5M676 348v5M406 349v5M836 349v5M706 353v5M495 359v5M898 355v5M315 356v5M727 357v5M242 355v5M846 351v5M882 358v5M294 360v5M552 363v5M396 360v5M643 357v5M378 359v5M662 357v5M326 348v5M400 350v5M348 361v5M138 363v5M634 363v5M838 362v5M378 359v5M900 352v5M554 360v5M410 348v5M130 352v5M131 345v5M464 358v5M346 358v5M774 359v5M395 359v5M833 348v5M894 358v5M600 361v5M222 348v5M830 361v5M852 363v5M194 359v5M308 355v5M730 360v5M470 363v5M832 355v5M594 342v5M144 355v5M230 358v5M306 343v5M282 359v5M550 358v5M670 353v5M548 352v5M702 355v5M126 350v5M381 355v5M184 364v5M669 358v5M678 359v5M592 355v5M920 356v5M314 350v5M258 360v5M441 348v5M558 355v5M260 363v5M518 343v5M664 356v5M852 343v5M600 358v5M360 357v5M266 363v5M520 356v5M896 355v5M378 357v5M578 357v5M636 353v5M220 356v5M416 355v5M930 355v5M514 358v5M520 354v5M926 361v5M208 361v5M298 358v5M884 359v5M678 359v5M760 363v5M672 345v5M604 360v5M398 346v5M596 356v5M512 359v5M394 359v5M702 363v5M145 350v5M630 362v5M578 358v5M612 357v5M416 363v5M148 363v5M452 360v5M462 358v5M634 356v5M520 353v5M432 355v5M378 363v5M427 357v5M428 363v5M174 363v5M278 363v5M214 363v5M221 358v5M528 361v5M636 351v5M553 350v5M714 360v5M558 357v5M784 359v5M872 359v5M854 361v5M586 356v5M394 344v5M680 346v5M612 351v5M321 352v5M194 360v5M490 354v5M532 355v5M429 359v5M437 357v5M260 359v5M269 354v5M676 358v5M764 360v5M678 345v5M132 347v5M592 352v5M839 359v5M416 357v5M232 346v5M268 362v5M788 361v5M382 356v5M188 363v5M322 343v5M636 352v5M150 349v5M638 358v5M236 358v5M344 363v5M676 359v5M312 343v5M788 359v5M524 358v5M600 354v5M666 353v5M714 360v5M922 357v5M282 354v5M134 348v5M176 349v5M908 352v5M556 356v5M747 355v5M636 361v5M660 357v5M729 359v5M668 357v5M410 350v5M346 357v5M546 350v5M890 358v5M296 358v5M298 362v5M506 353v5M167 352v5M832 360v5M327 352v5M704 359v5M804 363v5M412 355v5M746 359v5M222 357v5M145 357v5M674 357v5M402 363v5M816 360v5M402 349v5M174 352v5" stroke="#cf3b24" stroke-width="2.5" stroke-linecap="round" fill="none"/>
<path transform="scale(.5)" d="M724 360v5M514 357v5M218 359v5M800 359v5M256 362v5M560 349v5M802 358v5M372 349v5M584 358v5M284 359v5M589 345v5M560 351v5M242 358v5M244 361v5M443 359v5M156 357v5M438 361v5M576 358v5M830 363v5M158 352v5M598 351v5M312 349v5M518 355v5M184 363v5M558 351v5M736 356v5M462 350v5M495 361v5M132 352v5M796 353v5M532 362v5M534 359v5M832 361v5M306 357v5M546 363v5M212 362v5M517 360v5M800 355v5M366 362v5M800 355v5M802 362v5M308 345v5M726 356v5M712 360v5M338 356v5M854 355v5M580 361v5M596 363v5M392 363v5M130 351v5M156 344v5M906 359v5M726 358v5M438 363v5M224 357v5M150 360v5M140 361v5M138 359v5M557 359v5M369 360v5M396 353v5M924 360v5M596 351v5M878 353v5M256 348v5M308 344v5M297 359v5M179 356v5M308 362v5M510 353v5M240 353v5M814 356v5M774 358v5M261 362v5M516 363v5M596 363v5M154 362v5M182 356v5M132 353v5M590 349v5M418 353v5M296 361v5M529 361v5M208 360v5M264 358v5M276 360v5M518 345v5M338 353v5M796 356v5M588 352v5M318 353v5M712 363v5M534 354v5M500 354v5M506 352v5M308 352v5M337 348v5M254 353v5M760 362v5M246 352v5M438 356v5M782 362v5M328 353v5M318 347v5M218 357v5M166 357v5M256 342v5M560 352v5M308 360v5M142 342v5M238 362v5M402 358v5M524 360v5M210 359v5M140 348v5M838 360v5M838 362v5M750 363v5M332 357v5M312 360v5M372 351v5M330 359v5M712 354v5M438 358v5M406 351v5M723 361v5M654 346v5M324 351v5M530 360v5M236 360v5M534 349v5M172 345v5M552 362v5M333 355v5M335 361v5M152 358v5M640 363v5M682 345v5M832 355v5M812 352v5M174 346v5M198 357v5M148 351v5M240 352v5M866 361v5M336 353v5M324 350v5M406 360v5M342 362v5M208 358v5M130 353v5M234 361v5M580 361v5M588 350v5M308 361v5M682 352v5M726 359v5M534 357v5M728 350v5M172 342v5M892 363v5M128 360v5M722 358v5M354 349v5M182 361v5M396 355v5M156 346v5M816 362v5M132 349v5M402 345v5M554 362v5M532 351v5M248 356v5M608 354v5M546 351v5M518 346v5M330 347v5M692 361v5M172 361v5M358 362v5M284 360v5M172 356v5M812 353v5M332 344v5M534 350v5M240 356v5M416 356v5M596 352v5M154 351v5M888 357v5M329 353v5M416 359v5M251 360v5M320 348v5M838 358v5M542 358v5M634 346v5M795 351v5M246 345v5M226 360v5M692 353v5M366 357v5M237 351v5M592 352v5M308 347v5M457 361v5M422 360v5M561 362v5M372 349v5M128 364v5M888 361v5M520 348v5M500 354v5M614 357v5M796 359v5M832 348v5M678 346v5M400 356v5M364 362v5M728 358v5M762 360v5M140 346v5M374 360v5M258 346v5M264 361v5M762 360v5M724 355v5M518 353v5M694 362v5M558 354v5M618 363v5M876 362v5M618 363v5M136 359v5M154 354v5M736 356v5M330 358v5M766 360v5M156 353v5M717 353v5M744 358v5M336 362v5M511 355v5M408 358v5M590 357v5M596 355v5M867 357v5M712 362v5M724 358v5M373 346v5M406 345v5M142 343v5M890 363v5M534 348v5M638 356v5M589 358v5M136 359v5M238 349v5M854 362v5M318 354v5M854 359v5M830 347v5M182 362v5M596 356v5M306 348v5M534 359v5M316 362v5M604 362v5M615 361v5M172 348v5M518 362v5M406 364v5M800 358v5M264 362v5M812 347v5M768 362v5M256 359v5M372 351v5M832 359v5M456 355v5M766 362v5M716 349v5M544 362v5M416 356v5M434 343v5M542 359v5M560 352v5M158 359v5M359 361v5M682 359v5M290 361v5M256 350v5M398 362v5M284 363v5M815 356v5M890 362v5M326 344v5M386 359v5M256 360v5M391 358v5M366 363v5M516 355v5M726 344v5M392 354v5M258 353v5M462 353v5M158 356v5M304 343v5M848 351v5M178 350v5M240 356v5M560 354v5M558 350v5M590 355v5M584 359v5M136 356v5M562 351v5M332 349v5M394 358v5M811 351v5M354 349v5M290 356v5M474 353v5M722 360v5M832 351v5M334 355v5M856 362v5M587 342v5M300 362v5M390 361v5M830 347v5" stroke="#5479c4" stroke-width="2.5" stroke-linecap="round" fill="none"/>
<path transform="scale(.5)" d="M256 334v5M172 341v5M255 335v5M256 331v5M322 340v5M136 339v5M257 333v5M554 331v5M140 341v5M306 337v5M140 341v5M135 341v5" stroke="#527cd0" stroke-width="2.5" stroke-linecap="round" fill="none"/>
<path transform="scale(.5)" d="M674 335v5M150 341v5M676 336v5M142 341v5M556 339v5M556 337v5M554 334v5M638 337v5M682 337v5M136 341v5M233 340v5M682 341v5M346 339v5M322 339v5M670 334v5M134 337v5M676 341v5M322 340v5M554 333v5M322 341v5M150 341v5M313 338v5M682 332v5M256 329v5M680 342v5M442 340v5M674 335v5M676 338v5" stroke="#dc361c" stroke-width="2.5" stroke-linecap="round" fill="none"/>
<path transform="scale(.5)" d="M446 394h0M448 394h0M446 398h0M446 401h0M448 397h0M428 395h0M446 392h0M497 395h0" stroke="#5a709f" stroke-width="4.0" stroke-linecap="round" fill="none"/>
<path transform="scale(.5)" d="M911 400h0M427 396h0M912 393h0M496 397h0M912 396h0" stroke="#a7493b" stroke-width="4.0" stroke-linecap="round" fill="none"/>
<path transform="scale(.5)" d="M382 377h0M730 380h0M860 385h0M912 387h0M278 383h0M718 383h0M646 377h0M842 387h0M495 377h0M652 377h0M892 377h0M874 383h0M828 380h0M876 377h0M818 384h0M718 378h0M843 383h0M262 382h0M630 378h0M268 380h0M286 378h0M698 379h0M748 386h0M870 380h0M870 377h0M287 377h0M822 385h0M266 377h0M622 378h0M292 380h0M427 379h0M842 380h0M626 381h0M748 381h0M144 388h0M618 379h0M526 378h0M278 378h0M645 379h0M453 380h0M452 377h0M739 380h0M820 378h0M912 389h0M830 378h0M274 379h0M910 383h0M910 379h0M145 388h0M875 381h0M626 385h0M187 380h0M826 383h0M540 377h0M650 377h0M457 378h0M874 379h0M820 382h0M530 377h0M214 381h0M184 383h0M190 379h0M793 377h0M912 379h0M580 378h0M822 388h0M451 379h0M819 379h0M791 377h0M844 382h0M285 386h0M268 378h0M299 377h0M831 383h0M429 377h0M650 381h0M192 378h0M184 378h0M632 379h0M874 388h0M296 378h0M622 381h0M650 388h0M450 378h0M748 378h0M646 382h0M262 377h0M778 383h0M840 377h0M264 377h0M444 377h0M482 378h0M860 378h0M424 377h0M820 380h0M286 381h0M444 380h0M212 377h0M868 378h0M860 382h0M912 384h0" stroke="#b44433" stroke-width="4.0" stroke-linecap="round" fill="none"/>
<path transform="scale(.5)" d="M648 379h0M752 381h0M886 386h0M777 380h0M767 379h0M831 382h0M212 377h0M604 379h0M606 377h0M203 380h0M212 382h0M566 388h0M754 386h0M754 381h0M648 384h0M762 378h0M206 386h0M449 384h0M824 383h0M826 380h0M886 383h0M752 388h0M752 384h0M731 377h0M650 383h0M294 378h0M480 379h0M543 377h0M426 378h0M200 379h0M753 383h0M482 381h0M427 380h0M525 381h0M200 385h0M872 378h0M619 386h0M449 389h0M390 381h0M404 378h0M604 377h0M449 387h0M272 381h0M446 389h0M732 380h0M778 377h0M720 377h0M446 383h0M565 382h0M690 379h0M804 378h0M368 379h0M861 379h0M186 378h0M624 381h0M606 382h0M790 377h0M446 386h0M358 379h0M862 382h0M886 388h0M200 381h0M206 384h0M648 387h0M824 380h0M492 379h0M422 377h0M782 380h0M538 379h0M206 379h0M425 384h0M886 380h0M754 379h0M776 379h0M566 386h0M368 382h0M204 385h0M228 378h0M272 383h0M211 380h0M720 380h0M190 384h0M620 377h0M822 380h0" stroke="#5873ab" stroke-width="4.0" stroke-linecap="round" fill="none"/>
<path transform="scale(.5)" d="M272 366h0M877 372h0M728 366h0M797 366h0M759 364h0M208 364h0M203 375h0M416 372h0M782 373h0M617 366h0M364 368h0M798 365h0M182 372h0M404 374h0M524 369h0M390 370h0M738 372h0M494 369h0M415 366h0M204 366h0M895 376h0M894 367h0M839 364h0M210 375h0M690 375h0M762 375h0M294 371h0M790 364h0M754 374h0M648 374h0M606 364h0M861 374h0M278 373h0M414 364h0M366 364h0M151 370h0M610 364h0M722 374h0M790 372h0M610 369h0M390 376h0M166 366h0M583 364h0M525 365h0M300 367h0M777 372h0M543 372h0M503 364h0M196 368h0M889 369h0M600 369h0M920 365h0M204 371h0M752 376h0M480 368h0M449 374h0M492 371h0M451 374h0M884 372h0M266 364h0M422 363h0M295 368h0M604 372h0M253 364h0M342 364h0M426 364h0M696 365h0M420 369h0M826 367h0M539 365h0M370 366h0M804 374h0M268 368h0M814 366h0M247 367h0M416 364h0M390 372h0M720 372h0M355 368h0M566 374h0M628 372h0M660 365h0M824 376h0M799 367h0M838 372h0M294 376h0M212 367h0M249 371h0M927 366h0M200 374h0M799 372h0M516 370h0M414 371h0M778 371h0M849 373h0M370 371h0M357 374h0M532 364h0M355 366h0M617 368h0M582 367h0M883 367h0M316 371h0M284 366h0M755 365h0M886 370h0M358 369h0M731 370h0M492 376h0M503 368h0M878 369h0M240 364h0M732 375h0M248 370h0M581 363h0M230 368h0M692 368h0M849 365h0M400 367h0M420 366h0M253 370h0M815 369h0M284 371h0M752 371h0M692 366h0M562 371h0M350 369h0M905 368h0M600 372h0M532 369h0M752 369h0M539 375h0M228 374h0M166 369h0M644 371h0M200 367h0M894 372h0M490 365h0M480 377h0M776 370h0M294 373h0M226 376h0M292 372h0M540 373h0M781 370h0M512 367h0M207 374h0M200 370h0M342 371h0M723 367h0M356 376h0M731 373h0M762 367h0M356 372h0M228 371h0M877 364h0M283 369h0M408 372h0M730 374h0M724 368h0M300 370h0M823 364h0M316 368h0M368 365h0M790 368h0M266 372h0M864 365h0M800 370h0M492 368h0M284 376h0M220 364h0M512 365h0M399 365h0M366 372h0M154 368h0M542 368h0M206 365h0M759 368h0M342 367h0M390 364h0M360 368h0M513 367h0M724 372h0M886 374h0M238 368h0M372 365h0M614 371h0M628 364h0M446 375h0M612 371h0M872 365h0M766 365h0M905 372h0M454 366h0M776 368h0M220 369h0M366 368h0M228 365h0M606 367h0M235 364h0M866 365h0M738 376h0M762 372h0M480 370h0M862 370h0M212 375h0M426 375h0M754 370h0M894 369h0M779 367h0M788 370h0M730 364h0M354 367h0M210 373h0M480 372h0M847 366h0M690 364h0M336 365h0M884 375h0M822 376h0M600 365h0M220 375h0M364 366h0M804 366h0M524 372h0M539 372h0M600 367h0M266 374h0M522 370h0M302 366h0M517 366h0M355 364h0M606 372h0M227 367h0M219 371h0M472 365h0M205 369h0M612 368h0M866 370h0M446 369h0M272 369h0M481 368h0M648 366h0M804 369h0M491 369h0M598 364h0M328 365h0M378 365h0M604 364h0M226 365h0M854 365h0M446 366h0M582 371h0M800 367h0M796 368h0M446 371h0M824 372h0M862 366h0M926 370h0M731 365h0M320 367h0M151 372h0M872 373h0M814 371h0M452 364h0M280 370h0M832 364h0M514 370h0M198 370h0M524 376h0M543 369h0M272 374h0M296 370h0M191 367h0M213 370h0M364 363h0M302 369h0M390 367h0M250 366h0M358 364h0M692 371h0M148 364h0M426 372h0M170 365h0M539 368h0M604 368h0M872 370h0M151 367h0M776 363h0M226 370h0M862 377h0M885 366h0M894 364h0M620 369h0M640 365h0M838 366h0M778 373h0M344 371h0M926 374h0M824 368h0M796 371h0M198 365h0M414 373h0M272 371h0M522 374h0M253 374h0M776 375h0" stroke="#5676b8" stroke-width="4.0" stroke-linecap="round" fill="none"/>
<path transform="scale(.5)" d="M187 364h0M910 368h0M802 364h0M662 367h0M352 363h0M535 367h0M930 365h0M450 364h0M276 371h0M202 365h0M618 369h0M280 364h0M785 375h0M842 366h0M880 363h0M450 373h0M484 376h0M910 366h0M889 366h0M436 363h0M359 372h0M895 371h0M626 371h0M338 370h0M222 365h0M454 370h0M183 364h0M678 365h0M195 363h0M186 370h0M780 368h0M270 364h0M460 373h0M581 368h0M769 375h0M186 374h0M607 369h0M560 370h0M558 364h0M825 374h0M840 373h0M704 368h0M468 366h0M888 366h0M168 374h0M780 365h0M437 375h0M464 365h0M868 365h0M874 376h0M906 365h0M624 367h0M920 374h0M438 371h0M212 371h0M820 374h0M274 368h0M704 366h0M460 375h0M444 374h0M274 364h0M286 374h0M528 372h0M816 376h0M268 371h0M526 370h0M617 374h0M344 367h0M478 365h0M194 364h0M781 374h0M431 364h0M766 373h0M280 373h0M876 364h0M784 371h0M267 368h0M230 366h0M748 364h0M622 369h0M700 366h0M652 367h0M834 365h0M462 368h0M793 369h0M565 372h0M288 369h0M193 369h0M840 366h0M908 368h0M760 364h0M843 371h0M500 364h0M701 372h0M219 376h0M875 367h0M818 376h0M385 366h0M268 376h0M296 372h0M359 376h0M418 364h0M392 367h0M689 373h0M387 373h0M738 367h0M846 364h0M260 364h0M856 372h0M187 367h0M627 376h0M127 368h0M192 371h0M844 366h0M274 377h0M586 369h0M407 365h0M288 364h0M408 368h0M282 367h0M340 365h0M689 368h0M216 371h0M579 368h0M828 370h0M843 364h0M576 368h0M748 373h0M922 369h0M274 373h0M930 373h0M486 367h0M870 366h0M644 366h0M688 377h0M892 373h0M856 367h0M128 365h0M376 368h0M882 368h0M224 373h0M912 365h0M633 372h0M922 373h0M250 373h0M380 371h0M545 368h0M190 368h0M338 367h0M820 371h0M668 367h0M924 374h0M389 364h0M650 368h0M701 377h0M540 371h0M530 368h0M816 367h0M168 366h0M642 366h0M226 374h0M746 367h0M298 371h0M828 376h0M895 366h0M736 372h0M339 368h0M875 374h0M622 373h0M650 372h0M278 370h0M158 371h0M484 371h0M898 370h0M216 367h0M412 367h0M792 367h0M184 374h0M500 373h0M298 368h0M874 372h0M618 367h0M194 374h0M784 366h0M912 370h0M438 363h0M786 367h0M208 367h0M290 368h0M384 370h0M882 365h0M564 366h0M912 377h0M444 365h0M466 364h0M666 368h0M596 372h0M928 366h0M184 376h0M344 364h0M186 366h0M822 366h0M736 364h0M362 370h0M624 376h0M706 364h0M186 364h0M764 364h0M244 365h0M693 366h0M296 367h0M289 376h0M223 369h0M444 369h0M520 364h0M910 370h0M769 368h0M457 373h0M386 367h0M522 367h0M756 367h0M662 374h0M816 374h0M822 374h0M716 365h0M666 372h0M168 369h0M362 368h0M697 367h0M460 367h0M579 373h0M242 366h0M485 366h0M360 373h0M158 366h0M880 368h0M331 364h0M664 370h0M292 368h0M632 366h0M870 374h0M602 366h0M924 365h0M453 375h0M510 367h0M816 364h0M722 371h0M794 374h0M910 375h0M688 364h0M826 364h0M452 370h0M242 369h0M528 370h0M374 366h0M592 367h0M539 366h0M129 368h0M470 369h0M778 370h0M348 367h0M663 371h0M629 374h0M388 369h0M558 367h0M793 365h0M696 376h0M712 368h0M868 369h0M760 367h0M701 369h0M324 364h0M924 370h0M892 364h0M634 365h0M658 367h0M128 375h0M888 363h0M816 370h0M830 364h0M826 370h0M520 370h0M470 366h0M646 374h0M424 366h0M746 375h0M701 369h0M184 366h0M382 373h0M192 364h0M437 367h0M484 374h0M348 364h0M129 365h0M630 369h0M530 364h0M396 366h0M500 369h0M177 364h0M456 369h0M860 374h0M818 371h0M744 371h0M175 365h0M510 370h0M213 365h0M686 363h0M844 370h0M219 372h0M768 371h0M839 368h0M334 367h0M474 366h0M744 367h0M437 372h0M665 368h0M168 371h0M299 375h0M176 368h0M213 375h0M318 364h0M580 374h0M273 364h0M765 368h0M786 364h0M468 371h0M875 371h0M201 374h0M820 364h0M382 364h0M652 369h0M581 366h0M383 367h0M626 367h0M264 366h0M855 374h0M868 374h0M701 365h0M736 368h0M361 364h0M216 364h0M196 371h0M578 364h0M276 369h0M586 365h0M907 371h0M129 370h0M292 363h0M270 367h0M870 369h0M735 370h0M704 363h0M828 374h0M566 369h0M178 370h0M627 363h0M560 368h0M874 364h0M338 373h0M632 370h0M352 368h0M626 376h0M393 372h0M734 372h0M208 376h0M828 366h0M696 369h0M339 370h0M546 370h0M450 371h0M693 373h0M840 371h0M624 369h0M269 365h0M286 368h0M534 366h0M457 369h0M224 365h0M457 372h0M296 374h0M844 374h0M632 375h0M818 366h0M239 365h0M802 372h0M860 368h0M686 368h0M689 370h0M424 372h0M187 376h0M488 364h0M592 371h0M196 373h0M380 374h0M662 363h0M190 365h0M624 374h0M380 368h0M376 365h0M714 369h0M792 374h0M643 371h0M706 367h0M892 367h0M802 369h0M644 375h0M457 367h0M528 365h0M386 365h0M746 372h0M183 363h0M658 372h0M550 365h0M388 372h0M289 372h0M350 364h0M576 364h0M511 365h0M451 367h0M551 363h0M920 370h0M860 373h0M278 366h0M689 366h0M654 365h0M607 365h0M922 366h0M880 371h0M860 375h0M385 375h0M190 374h0M318 367h0M896 374h0M596 364h0M187 372h0M564 370h0M822 371h0" stroke="#c23f2c" stroke-width="4.0" stroke-linecap="round" fill="none"/>
<path transform="scale(.5)" d="M924 353h0M760 353h0M594 359h0M856 357h0M908 355h0M232 352h0M828 357h0M504 359h0M239 351h0M418 361h0M326 358h0M880 355h0M928 357h0M668 351h0M659 354h0M126 351h0M410 358h0M550 356h0M800 359h0M652 360h0M876 360h0M482 362h0M380 353h0M384 352h0M126 355h0M592 362h0M260 351h0M557 351h0M410 360h0M457 353h0M702 351h0M689 358h0M558 355h0M202 360h0M638 354h0M195 351h0M622 357h0M922 350h0M290 355h0M530 354h0M784 356h0M442 354h0M882 360h0M680 358h0M712 355h0M632 362h0M606 356h0M908 352h0M900 362h0M749 351h0M453 362h0M834 358h0M129 352h0M647 352h0M895 353h0M558 360h0M844 363h0M278 351h0M348 356h0M564 353h0M549 362h0M196 359h0M283 359h0M146 355h0M263 358h0M500 353h0M535 354h0M780 354h0M230 353h0M546 357h0M290 360h0M314 355h0M386 361h0M344 354h0M440 356h0M403 352h0M338 351h0M526 350h0M484 357h0M680 352h0M700 363h0M360 357h0M828 352h0M843 359h0M244 360h0M173 361h0M922 354h0M186 359h0M293 359h0M158 362h0M839 358h0M440 361h0M406 351h0M846 355h0M318 357h0M818 361h0M462 363h0M488 353h0M528 352h0M223 358h0M623 360h0M930 356h0M816 361h0M222 352h0M466 352h0M156 359h0M687 356h0M697 357h0M290 350h0M845 360h0M184 352h0M656 362h0M856 360h0M436 354h0M793 357h0M437 359h0M352 355h0M286 361h0M233 353h0M424 361h0M157 354h0M128 358h0M664 362h0M552 352h0M792 360h0M202 353h0M346 360h0M578 356h0M478 353h0M678 352h0M339 353h0M268 359h0M269 350h0M452 352h0M628 351h0M477 358h0M278 355h0M216 361h0M132 355h0M486 360h0M434 359h0M312 353h0M276 359h0M520 360h0M560 363h0M380 361h0M318 359h0M764 352h0M624 358h0M785 358h0M392 358h0M508 350h0M286 352h0M413 355h0M844 352h0M716 357h0M713 362h0M592 360h0M837 362h0M530 358h0M457 356h0M362 356h0M384 363h0M892 353h0M210 360h0M281 352h0M374 361h0M362 359h0M824 356h0M328 359h0M338 363h0M652 351h0M725 352h0M192 354h0M324 352h0M402 354h0M686 358h0M908 360h0M260 359h0M798 356h0M930 360h0M298 352h0M928 362h0M535 357h0M590 353h0M920 363h0M922 363h0M462 356h0M900 358h0M456 362h0M359 363h0M607 359h0M528 363h0M167 357h0M816 350h0M508 363h0M827 354h0M856 363h0M644 359h0M243 362h0M218 359h0M280 352h0M704 358h0M559 358h0M836 350h0M222 360h0M287 357h0M643 353h0M702 358h0M782 362h0M862 356h0M634 358h0M274 354h0M750 363h0M457 355h0M756 353h0M452 357h0M617 351h0M359 360h0M456 350h0M812 358h0M268 354h0M630 353h0M424 356h0M698 352h0M258 361h0M607 356h0M919 360h0M233 356h0M653 362h0M818 354h0M789 357h0M188 354h0M908 362h0M244 362h0M332 359h0M180 362h0M387 353h0M738 363h0M528 356h0M736 356h0M924 359h0M826 358h0M344 351h0M190 352h0M180 357h0M486 355h0M413 362h0M202 362h0M468 358h0M222 357h0M486 363h0M408 360h0M426 361h0M232 362h0M442 359h0M769 360h0M835 355h0M637 360h0M348 360h0M646 361h0M460 352h0M832 352h0M386 357h0M261 360h0M408 351h0M684 353h0M756 359h0M535 351h0M686 360h0M663 356h0M583 356h0M280 356h0M504 363h0M930 353h0M460 358h0M440 359h0M339 362h0M832 357h0M552 356h0M607 350h0M296 353h0M634 354h0M382 357h0M457 363h0M424 353h0M346 356h0M526 355h0M192 357h0M880 351h0M444 355h0M803 354h0M469 361h0M682 355h0M685 351h0M852 356h0M840 356h0M239 353h0M928 353h0M334 360h0M693 355h0M868 362h0M735 357h0M146 352h0M793 358h0M724 361h0M714 354h0M216 355h0M619 358h0M376 358h0M534 356h0M718 363h0M306 353h0M859 351h0M678 359h0M474 355h0M270 359h0M785 353h0M888 352h0M500 360h0M725 363h0M608 362h0M413 352h0M194 350h0M804 354h0M890 358h0M735 353h0M212 355h0M489 356h0M129 355h0M224 356h0M750 360h0M452 361h0M374 356h0M780 357h0M298 362h0M680 355h0M430 351h0M853 363h0M678 354h0M296 362h0M456 357h0M824 356h0M184 360h0M760 355h0M224 362h0M419 355h0M408 357h0M824 356h0M812 350h0M586 355h0M618 354h0M526 362h0M889 351h0M870 358h0M912 350h0M248 360h0M457 359h0M839 362h0M888 357h0M470 358h0M592 357h0M895 357h0M594 350h0M820 360h0M689 362h0M175 356h0M470 355h0M176 357h0M170 360h0M444 359h0M314 353h0M693 351h0M218 355h0M856 353h0M310 352h0M839 360h0M700 353h0M136 358h0M731 359h0M208 358h0M579 361h0M602 360h0M286 355h0M780 360h0M512 358h0M876 355h0M822 361h0M324 355h0M923 351h0M834 361h0M802 359h0M819 356h0M920 350h0M868 360h0M910 362h0M230 363h0M590 358h0M392 363h0M338 357h0M526 359h0M895 362h0M508 359h0M174 360h0M278 359h0M624 350h0M520 355h0M668 363h0M846 351h0M500 357h0M184 357h0M406 356h0M565 363h0M897 356h0M632 357h0M298 358h0M713 363h0M586 361h0M244 358h0M506 352h0M701 361h0M607 354h0M882 357h0M638 357h0M725 354h0M352 360h0M621 352h0M565 358h0M786 357h0M760 350h0M693 359h0M658 357h0M712 353h0M270 354h0M696 358h0M216 352h0M518 362h0M793 361h0M880 360h0M280 359h0M922 358h0M698 361h0M436 359h0M344 361h0M650 360h0M362 353h0M418 351h0M396 358h0M596 357h0M296 358h0M384 360h0M764 355h0M646 351h0M470 352h0M822 355h0M910 354h0M264 362h0M512 356h0M868 353h0M590 363h0M576 362h0M290 363h0M602 355h0M418 358h0M320 357h0M394 362h0M180 353h0M460 355h0M177 353h0M484 353h0M168 360h0M540 357h0M258 351h0M194 353h0M293 350h0M441 357h0M146 359h0M196 356h0M802 362h0M566 356h0M156 362h0M910 357h0M698 363h0M383 352h0M406 361h0M394 352h0M892 351h0M434 354h0M662 359h0M682 351h0M650 350h0M828 361h0M352 357h0M839 352h0M172 352h0M656 352h0M394 355h0M546 353h0M663 352h0M217 357h0M158 354h0M646 354h0M658 362h0M410 352h0M396 351h0M633 354h0M450 356h0M662 352h0M510 357h0M832 361h0M684 357h0M288 354h0M668 353h0M650 357h0M679 361h0M630 356h0M378 353h0M642 356h0M712 359h0M704 351h0M924 356h0M374 352h0M460 363h0M882 353h0M360 352h0M450 352h0M252 361h0M128 351h0M627 359h0M587 351h0M701 362h0M450 361h0M397 354h0M529 352h0M196 361h0M286 357h0M816 353h0M914 350h0M892 358h0M834 351h0M924 362h0M504 353h0M822 357h0M486 351h0M392 352h0M474 353h0M624 354h0M168 354h0M287 351h0M309 357h0M402 360h0M470 360h0M189 361h0M377 363h0M478 363h0M576 353h0M628 356h0M466 357h0M634 362h0M626 356h0M580 361h0M910 351h0M578 352h0M594 357h0M844 358h0M876 351h0M852 354h0M580 354h0M826 362h0M274 360h0M540 352h0M745 359h0M594 354h0M897 352h0M194 360h0M170 353h0M516 361h0M334 356h0M644 356h0M521 350h0M576 358h0M664 359h0M760 359h0M528 359h0M126 363h0M734 362h0M518 357h0M597 361h0M244 353h0M211 361h0M187 359h0M812 354h0M897 362h0M230 356h0M458 351h0M475 359h0M518 350h0M316 363h0M518 354h0M462 351h0M821 354h0M597 350h0M689 354h0M388 360h0M837 359h0M919 363h0M656 356h0M146 362h0M347 350h0M194 358h0M339 353h0M132 358h0M457 353h0M388 352h0M618 361h0M870 362h0M444 362h0M534 351h0M658 354h0M242 357h0M412 358h0M650 354h0M536 359h0M837 355h0M636 354h0M209 351h0M843 355h0M860 363h0M626 352h0M596 353h0M534 361h0M377 350h0M406 359h0M644 363h0M437 355h0" stroke="#cf3b24" stroke-width="4.0" stroke-linecap="round" fill="none"/>
<path transform="scale(.5)" d="M448 358h0M886 350h0M153 358h0M643 360h0M268 361h0M617 353h0M302 355h0M756 355h0M376 354h0M804 363h0M294 363h0M849 356h0M539 363h0M432 358h0M464 355h0M562 361h0M266 350h0M498 360h0M414 359h0M475 351h0M247 362h0M525 360h0M466 362h0M432 362h0M369 357h0M254 350h0M660 360h0M198 362h0M350 357h0M731 351h0M449 354h0M200 359h0M522 354h0M856 351h0M715 354h0M805 360h0M370 361h0M352 353h0M354 359h0M839 353h0M762 350h0M426 351h0M884 355h0M588 358h0M755 350h0M336 353h0M472 358h0M612 353h0M212 360h0M491 363h0M356 355h0M643 363h0M250 356h0M866 362h0M300 360h0M516 352h0M620 356h0M849 362h0M601 354h0M588 351h0M399 356h0M930 362h0M659 358h0M728 353h0M250 359h0M849 353h0M514 358h0M752 356h0M732 363h0M654 360h0M752 361h0M231 357h0M328 355h0M306 356h0M423 352h0M752 352h0M785 354h0M532 360h0M798 351h0M366 357h0M310 356h0M359 350h0M273 360h0M892 360h0M420 360h0M525 351h0M399 361h0M850 359h0M756 363h0M732 352h0M610 356h0M566 363h0M328 363h0M426 355h0M878 361h0M262 358h0M253 353h0M548 356h0M203 359h0M886 354h0M262 355h0M722 362h0M442 352h0M692 353h0M266 358h0M838 360h0M612 351h0M151 356h0M474 363h0M236 359h0M358 355h0M503 362h0M601 360h0M302 350h0M220 352h0M722 357h0M672 353h0M414 355h0M490 361h0M612 363h0M562 357h0M872 353h0M304 352h0M226 361h0M399 353h0M647 356h0M872 357h0M693 358h0M134 358h0M220 356h0M593 352h0M790 359h0M539 354h0M366 362h0M838 357h0M212 363h0M480 357h0M166 358h0M272 352h0M782 352h0M759 352h0M446 353h0M142 359h0M206 360h0M653 353h0M139 355h0M294 355h0M327 352h0M494 361h0M796 360h0M541 350h0M272 355h0M356 357h0M449 360h0M588 362h0M562 352h0M416 352h0M200 355h0M154 363h0M494 358h0M472 355h0M330 351h0M151 360h0M886 356h0M844 354h0M927 352h0M542 355h0M516 356h0M417 360h0M906 360h0M366 350h0M560 354h0M689 351h0M204 355h0M750 352h0M847 354h0M254 359h0M548 361h0M888 361h0M762 356h0M776 355h0M606 362h0M235 354h0M320 360h0M239 358h0M416 356h0M253 355h0M732 356h0M304 357h0M814 351h0M878 358h0M694 362h0M759 360h0M672 350h0M864 360h0M472 363h0M762 362h0M136 354h0M799 362h0M300 363h0M342 362h0M884 363h0M480 360h0M758 355h0M334 362h0M542 358h0M426 358h0M446 362h0M142 355h0M261 357h0M402 358h0M330 358h0M168 350h0M728 360h0M766 360h0M140 354h0M606 358h0M335 351h0M322 354h0M658 351h0M927 356h0M206 351h0M278 361h0M134 352h0M654 358h0M648 360h0M373 353h0M581 354h0M721 353h0M248 354h0M864 356h0M800 355h0M148 361h0M491 357h0M330 356h0M320 354h0M350 352h0M762 353h0M498 356h0M588 354h0M860 358h0M390 359h0M604 354h0M446 357h0M356 361h0M677 356h0M423 355h0M566 359h0M704 356h0M863 351h0M599 360h0M176 355h0M617 362h0M512 361h0M154 355h0M701 357h0M814 357h0M766 357h0M484 362h0M626 361h0M542 362h0M336 357h0M800 350h0M226 357h0M128 360h0M200 362h0M513 353h0M272 357h0M814 362h0M878 353h0M792 362h0M534 353h0M582 352h0M539 359h0M204 351h0M205 356h0M332 361h0M601 362h0M236 351h0M422 358h0M890 363h0M612 355h0M420 350h0M490 354h0M927 358h0M480 362h0M516 363h0M246 358h0M604 352h0M760 361h0M154 353h0M422 360h0M854 361h0M692 356h0M782 358h0M390 357h0M523 351h0M166 351h0M854 358h0M376 361h0M190 356h0M812 360h0M148 358h0M697 355h0M604 361h0M366 352h0M415 350h0M503 360h0M616 356h0M350 362h0M894 356h0M786 360h0M348 353h0M216 360h0M853 352h0M330 353h0M151 363h0M159 353h0M302 363h0M148 354h0M390 353h0M212 357h0M209 355h0M814 353h0M283 354h0M738 356h0M648 358h0M690 361h0M872 360h0M254 362h0M838 354h0M498 354h0M498 363h0M611 361h0M453 357h0M512 351h0M862 351h0M300 356h0M847 358h0M584 360h0M355 350h0M136 350h0M294 353h0M249 363h0M790 351h0M796 356h0M728 355h0M532 355h0M240 359h0M316 360h0M248 358h0M327 354h0M766 355h0M315 351h0M206 353h0M524 355h0M861 353h0M522 357h0M250 352h0M129 356h0M370 351h0M180 355h0M377 358h0M198 358h0M804 357h0M790 361h0M776 351h0M906 351h0M824 360h0M408 354h0M790 355h0M884 351h0M220 361h0M767 352h0M906 356h0M234 358h0M294 359h0M782 355h0M522 362h0M532 353h0M582 359h0M630 362h0M514 361h0M228 361h0M316 356h0M326 361h0M654 351h0M284 356h0M676 352h0M203 362h0M364 359h0M600 357h0M598 353h0M604 357h0M508 353h0M788 362h0M728 363h0M784 361h0M472 350h0M493 356h0M926 361h0M725 355h0M502 355h0M539 352h0M274 357h0M530 361h0" stroke="#5479c4" stroke-width="4.0" stroke-linecap="round" fill="none"/>
<path transform="scale(.5)" d="M872 326h0M600 325h0M272 332h0M415 293h0M154 337h0M672 336h0M254 305h0M464 311h0M416 298h0M174 328h0M504 340h0M142 348h0M762 341h0M864 322h0M370 296h0M886 339h0M722 317h0M848 302h0M372 309h0M618 348h0M385 316h0M532 342h0M354 343h0M366 340h0M457 346h0M525 322h0M272 349h0M318 344h0M226 326h0M516 292h0M798 347h0M420 327h0M582 344h0M906 337h0M884 334h0M254 314h0M866 307h0M194 339h0M220 339h0M352 316h0M638 305h0M206 337h0M250 341h0M254 339h0M423 343h0M871 329h0M377 347h0M854 322h0M654 330h0M606 292h0M252 340h0M156 319h0M851 338h0M498 331h0M866 311h0M594 315h0M284 319h0M284 343h0M798 335h0M197 340h0M533 306h0M856 309h0M390 337h0M236 343h0M532 309h0M877 349h0M814 335h0M516 332h0M598 317h0M133 324h0M253 338h0M433 317h0M726 346h0M256 317h0M516 315h0M320 338h0M148 320h0M372 333h0M553 310h0M330 332h0M539 345h0M248 328h0M148 318h0M516 327h0M252 346h0M266 337h0M727 345h0M256 310h0M240 323h0M519 301h0M486 332h0M514 320h0M767 338h0M905 305h0M532 338h0M752 349h0M548 305h0M556 332h0M906 314h0M554 314h0M240 316h0M884 338h0M872 340h0M924 345h0M416 347h0M788 320h0M731 347h0M254 317h0M514 313h0M256 345h0M800 338h0M316 321h0M814 338h0M848 340h0M832 318h0M672 341h0M266 348h0M839 325h0M722 326h0M728 305h0M414 316h0M889 342h0M803 315h0M865 331h0M330 296h0M672 297h0M256 328h0M236 312h0M370 328h0M862 336h0M327 327h0M872 287h0M927 348h0M316 334h0M254 335h0M848 319h0M636 341h0M316 339h0M336 333h0M674 340h0M316 325h0M608 295h0M611 342h0M588 328h0M847 315h0M448 339h0M464 336h0M510 349h0M886 334h0M766 348h0M677 336h0M323 332h0M822 350h0M426 347h0M668 349h0M336 338h0M304 341h0M582 332h0M304 337h0M212 331h0M611 327h0M366 333h0M505 338h0M612 319h0M316 343h0M798 317h0M722 288h0M240 344h0M752 341h0M588 332h0M636 334h0M722 345h0M715 298h0M890 295h0M138 331h0M775 344h0M511 319h0M562 317h0M546 345h0M352 293h0M870 343h0M588 346h0M329 329h0M320 332h0M839 340h0M598 345h0M284 326h0M872 337h0M503 350h0M303 327h0M562 338h0M206 331h0M366 331h0M620 308h0M477 332h0M542 344h0M555 339h0M732 331h0M236 338h0M330 347h0M700 350h0M668 319h0M240 328h0M866 319h0M724 325h0M208 297h0M672 290h0M756 341h0M873 311h0M521 297h0M534 317h0M296 328h0M790 342h0M883 325h0M542 348h0M514 337h0M530 340h0M136 336h0M749 291h0M240 318h0M355 342h0M672 322h0M610 321h0M820 346h0M134 334h0M753 308h0M858 344h0M765 321h0M790 339h0M168 337h0M322 335h0M236 322h0M582 329h0M327 316h0M804 328h0M884 316h0M659 341h0M272 343h0M372 339h0M601 331h0M604 349h0M139 346h0M587 340h0M798 314h0M240 333h0M866 326h0M166 339h0M370 332h0M839 319h0M200 344h0M303 321h0M692 329h0M157 305h0M359 328h0M610 316h0M776 349h0M692 334h0M514 324h0M728 329h0M757 328h0M355 329h0M826 342h0M600 320h0M578 308h0M891 321h0M516 324h0M320 350h0M693 343h0M220 335h0M395 321h0M884 347h0M348 332h0M853 341h0M906 298h0M141 312h0M370 321h0M148 336h0M236 303h0M759 348h0M516 330h0M511 341h0M880 324h0M328 320h0M266 340h0M166 348h0M336 311h0M581 289h0M654 306h0M302 303h0M359 316h0M613 307h0M430 325h0M370 341h0M580 342h0M227 347h0M866 316h0M420 324h0M906 327h0M600 350h0M470 305h0M776 319h0M638 331h0M796 338h0M140 342h0M566 347h0M302 324h0M190 315h0M298 330h0M822 337h0M582 348h0M853 349h0M328 343h0M510 322h0M498 315h0M872 349h0M481 325h0M433 341h0M867 335h0M865 305h0M581 305h0M358 346h0M316 295h0M906 340h0M134 350h0M532 348h0M212 322h0M583 306h0M759 333h0M284 335h0M598 349h0M487 299h0M548 315h0M588 324h0M432 336h0M783 348h0M426 332h0M762 348h0M179 333h0M606 307h0M789 338h0M798 326h0M420 345h0M847 333h0M919 329h0M524 330h0M414 334h0M154 350h0M805 336h0M920 347h0M142 300h0M302 305h0M148 333h0M373 315h0M814 320h0M417 337h0M638 312h0M673 293h0M731 333h0M692 308h0M814 323h0M606 314h0M370 349h0M464 289h0M752 334h0M562 341h0M611 330h0M546 347h0M370 337h0M606 303h0M642 339h0M316 317h0M864 348h0M336 322h0M464 314h0M839 340h0M350 331h0M431 340h0M735 315h0M617 312h0M464 296h0M548 344h0M538 335h0M766 322h0M206 335h0M414 321h0M728 341h0M316 347h0M490 324h0M516 336h0M866 337h0M153 320h0M847 337h0M542 324h0M653 323h0M672 347h0M672 331h0M606 300h0M534 349h0M677 348h0M464 322h0M866 347h0M636 311h0M611 347h0M449 350h0M444 314h0M512 335h0M203 328h0M260 335h0M837 348h0M425 346h0M721 335h0M206 341h0M516 296h0M437 337h0M689 328h0M672 317h0M414 304h0M803 336h0M321 323h0M166 334h0M612 326h0M433 344h0M672 319h0M166 331h0M513 310h0M728 319h0M612 321h0M134 341h0M692 320h0M541 336h0M554 321h0M376 349h0M728 338h0M566 343h0M450 331h0M848 349h0M732 322h0M722 322h0M927 343h0M797 315h0M491 345h0M562 321h0M692 326h0M588 344h0M154 314h0M484 337h0M432 320h0M220 342h0M498 321h0M762 339h0M238 303h0M252 331h0M654 337h0M254 332h0M620 332h0M606 345h0M846 343h0M610 323h0M372 305h0M284 348h0M373 303h0M886 344h0M227 323h0M497 344h0M636 309h0M330 312h0M248 350h0M610 329h0M214 309h0M424 295h0M316 309h0M175 332h0M513 339h0M248 323h0M565 336h0M139 344h0M330 293h0M548 318h0M876 327h0M490 337h0M254 320h0M226 342h0M180 315h0M324 294h0M790 345h0M220 345h0M591 294h0M728 333h0M272 339h0M252 343h0M280 313h0M239 342h0M511 311h0M766 343h0M414 343h0M796 291h0M853 317h0M148 343h0M600 327h0M142 332h0M897 294h0M142 340h0M539 341h0M731 344h0M256 324h0M672 287h0M373 321h0M309 300h0M620 340h0M236 347h0M350 339h0M373 297h0M906 309h0M328 338h0M670 331h0M598 314h0M532 298h0M596 339h0M672 326h0M605 339h0M331 309h0M248 319h0M565 295h0M548 338h0M312 346h0M847 343h0M562 296h0M254 343h0M863 343h0M796 322h0M826 322h0M464 342h0M513 307h0M799 312h0M514 302h0M420 335h0M866 340h0M654 321h0M676 341h0M612 312h0M800 346h0M393 303h0M358 336h0M622 298h0M722 329h0M355 316h0M598 347h0M922 340h0M518 304h0M804 346h0M256 348h0M750 289h0M138 327h0M617 309h0M723 334h0M522 346h0M138 309h0M522 298h0M867 295h0M654 311h0M236 334h0M532 315h0M173 336h0M612 315h0M270 340h0M353 314h0M780 304h0M464 327h0M256 334h0M524 326h0M212 326h0M588 311h0M602 332h0M468 341h0M154 346h0M796 319h0M554 336h0M516 347h0M588 326h0M141 304h0M886 347h0M677 323h0M136 330h0M878 330h0M847 325h0M582 336h0M192 317h0M759 339h0M325 297h0M721 348h0M284 340h0M498 328h0M134 311h0M814 344h0M142 324h0M654 348h0M426 344h0M758 345h0M134 317h0M256 343h0M654 340h0M548 332h0M606 337h0M872 344h0M606 296h0M250 337h0M390 348h0M706 314h0M790 329h0M672 338h0M332 349h0M753 346h0M796 335h0M490 320h0M148 315h0M855 303h0M331 339h0M240 312h0M672 305h0M562 298h0M524 340h0M838 300h0M692 340h0M350 326h0M180 324h0M816 307h0M758 343h0M796 348h0M316 304h0M653 333h0M514 345h0M356 325h0M462 324h0M620 327h0M491 326h0M550 334h0M272 324h0M832 349h0M722 348h0M204 349h0M588 317h0M548 320h0M562 325h0M389 321h0M533 317h0M148 340h0M265 306h0M582 307h0M788 331h0M617 339h0M798 343h0M398 346h0M420 331h0M555 348h0M611 332h0M692 311h0M565 329h0M442 287h0M288 343h0M565 323h0M198 345h0M724 329h0M516 318h0M414 296h0M607 310h0M617 321h0M264 349h0M230 297h0M787 317h0M203 335h0M336 346h0M266 325h0M148 350h0M601 341h0M366 347h0M212 344h0M284 330h0M320 328h0M556 344h0M838 332h0M426 341h0M525 316h0M336 330h0M266 327h0M790 349h0M548 335h0M418 320h0M801 330h0M715 346h0M302 342h0M512 316h0M838 311h0M853 335h0M582 324h0M213 335h0M524 333h0M704 344h0M797 344h0M256 350h0M148 329h0M728 327h0M722 341h0M352 298h0M848 305h0M268 302h0M512 323h0M322 345h0M524 343h0M672 313h0M209 296h0M134 315h0M514 349h0M136 340h0M236 315h0M166 327h0M203 306h0M141 308h0M766 326h0M417 342h0M562 348h0M672 343h0M420 340h0M722 306h0M654 327h0M722 338h0M804 341h0M692 331h0M254 346h0M794 334h0M620 323h0M883 342h0M272 328h0M350 323h0M728 317h0M620 315h0M478 298h0M522 308h0M154 323h0M433 314h0M788 341h0M372 329h0M598 335h0M601 338h0M512 344h0M388 333h0M704 336h0M516 339h0M554 326h0M872 316h0M330 288h0M532 327h0M522 304h0M248 330h0M906 348h0M322 350h0M248 341h0M848 311h0M676 344h0M336 325h0M204 345h0M136 345h0M256 339h0M134 347h0M606 317h0M472 348h0M236 330h0M861 347h0M376 325h0M153 341h0M154 332h0M274 315h0M562 332h0M554 308h0M134 331h0M582 311h0M562 301h0M355 311h0M440 327h0M131 310h0M548 327h0M775 328h0M335 318h0M776 341h0M525 312h0M522 341h0M797 338h0M672 308h0M129 346h0M582 319h0M182 297h0M736 344h0M582 309h0M248 346h0M256 321h0M414 346h0M566 305h0M256 315h0M620 343h0M728 314h0M884 330h0M563 330h0M906 318h0M594 344h0M330 323h0M250 344h0M432 327h0M516 307h0M330 291h0M921 318h0M927 339h0M227 330h0M612 340h0M370 334h0M617 334h0M524 305h0M762 317h0M548 310h0M688 315h0M860 340h0M440 309h0M134 339h0M796 340h0M142 350h0M370 298h0M562 311h0M320 346h0M139 337h0M133 322h0M212 340h0M166 328h0M788 335h0M486 345h0M139 334h0M848 333h0M205 327h0M491 349h0M272 345h0M212 349h0M548 297h0M514 316h0M796 305h0M247 326h0M320 342h0M872 321h0M612 338h0M562 336h0M141 328h0M254 310h0M620 311h0M517 304h0M432 309h0M508 318h0M139 341h0M491 342h0M353 307h0M464 329h0M582 321h0M521 315h0M617 330h0M390 345h0M279 322h0M856 325h0M620 319h0M724 318h0M266 333h0M617 345h0M814 327h0M204 331h0M613 333h0M250 348h0M266 344h0M555 283h0M724 343h0M462 340h0M463 307h0M464 317h0M366 342h0M853 338h0M324 320h0M148 325h0M187 283h0M370 325h0M432 306h0M790 326h0M302 316h0M522 323h0M134 344h0M146 288h0M157 323h0M512 348h0M790 331h0M724 315h0M521 316h0M692 347h0M522 331h0M525 346h0M330 300h0M706 316h0M540 302h0M722 292h0M677 331h0M850 348h0M476 299h0M540 327h0M374 316h0M206 329h0M554 338h0M370 315h0M303 340h0M419 325h0M906 330h0M264 309h0M128 338h0M556 336h0M906 345h0M838 349h0M406 295h0M551 329h0M304 345h0M491 332h0M724 312h0M554 330h0M254 327h0M722 310h0M504 345h0M511 319h0M599 341h0M591 309h0M497 334h0M548 348h0M432 323h0M154 335h0M692 323h0M246 340h0M751 326h0M372 349h0M620 346h0M594 328h0M464 332h0M838 329h0M314 346h0M415 325h0M606 333h0M764 342h0M306 348h0M838 323h0M414 329h0M562 346h0M472 345h0M612 304h0M553 323h0M253 334h0M671 302h0M372 341h0M432 349h0M889 331h0M236 317h0M852 350h0M316 313h0M302 346h0M725 347h0M588 320h0M612 347h0M654 316h0M247 338h0M588 302h0M355 321h0M322 324h0M514 333h0M366 324h0M886 336h0M593 341h0M732 340h0M617 341h0M136 347h0M522 336h0M151 343h0M414 312h0M406 304h0M598 338h0M330 316h0M796 326h0M632 339h0M756 349h0M548 300h0M624 319h0M246 350h0M277 350h0M525 310h0M152 327h0M588 338h0M372 312h0M922 337h0M226 334h0M776 334h0M159 333h0M722 301h0M610 339h0M226 330h0M154 330h0M414 308h0M512 331h0M598 331h0M432 295h0M701 294h0M338 333h0M554 333h0M512 325h0M512 338h0M791 335h0M294 346h0M553 343h0M522 334h0M328 336h0M464 304h0M201 348h0M660 343h0M370 316h0M412 343h0M926 330h0M532 324h0M553 346h0M514 306h0M425 329h0M366 305h0M762 329h0M506 345h0M671 311h0M222 307h0M204 340h0M756 344h0M356 333h0M833 309h0M926 335h0M354 340h0M272 335h0M256 313h0M762 334h0M491 339h0M213 318h0M346 309h0M729 323h0M516 301h0M320 335h0M336 342h0M464 301h0M617 326h0M888 323h0M847 300h0M373 346h0M327 333h0M302 309h0M892 306h0M449 343h0M604 347h0M154 326h0M332 347h0M767 334h0M676 326h0M316 323h0" stroke="#527cd0" stroke-width="4.0" stroke-linecap="round" fill="none"/>
<path transform="scale(.5)" d="M466 306h0M489 349h0M836 311h0M242 332h0M132 310h0M630 342h0M338 303h0M682 343h0M421 344h0M408 343h0M174 317h0M508 335h0M380 333h0M355 350h0M346 344h0M513 300h0M584 326h0M892 312h0M294 342h0M820 299h0M535 347h0M474 327h0M626 321h0M394 336h0M392 338h0M424 302h0M638 302h0M170 329h0M221 350h0M420 298h0M156 314h0M477 308h0M450 338h0M712 340h0M702 324h0M328 347h0M280 305h0M274 326h0M712 344h0M920 345h0M802 316h0M324 313h0M760 341h0M148 347h0M450 323h0M156 311h0M864 301h0M682 333h0M890 323h0M558 334h0M187 340h0M343 345h0M924 328h0M750 334h0M888 301h0M312 303h0M222 317h0M195 312h0M132 318h0M668 336h0M312 342h0M456 342h0M176 340h0M407 317h0M315 295h0M728 349h0M384 342h0M231 335h0M486 317h0M280 327h0M232 326h0M659 316h0M928 335h0M579 290h0M540 309h0M432 300h0M443 330h0M132 312h0M208 312h0M534 342h0M836 341h0M352 331h0M391 330h0M833 300h0M289 345h0M638 328h0M258 340h0M510 335h0M314 308h0M348 349h0M209 335h0M781 349h0M474 348h0M333 340h0M793 326h0M643 328h0M856 343h0M821 304h0M540 320h0M750 329h0M637 328h0M413 335h0M209 322h0M478 335h0M565 339h0M854 346h0M296 350h0M286 335h0M129 325h0M882 346h0M794 331h0M280 336h0M638 308h0M622 295h0M146 304h0M279 335h0M405 309h0M196 295h0M520 347h0M716 304h0M436 326h0M307 340h0M332 304h0M196 340h0M694 337h0M789 310h0M842 346h0M466 327h0M445 340h0M392 333h0M127 338h0M130 340h0M195 329h0M818 340h0M560 306h0M402 305h0M925 348h0M462 345h0M280 293h0M560 318h0M312 340h0M473 304h0M190 329h0M312 297h0M820 324h0M580 338h0M338 349h0M474 330h0M889 336h0M786 350h0M811 321h0M406 328h0M716 313h0M435 337h0M668 321h0M565 324h0M882 334h0M693 338h0M412 338h0M849 296h0M889 325h0M889 342h0M129 325h0M312 329h0M312 333h0M394 346h0M712 338h0M467 310h0M280 288h0M187 331h0M910 335h0M188 327h0M397 346h0M129 329h0M145 312h0M503 330h0M344 320h0M360 348h0M578 339h0M520 327h0M324 289h0M196 315h0M274 339h0M590 330h0M551 346h0M340 342h0M382 329h0M842 343h0M222 325h0M201 333h0M450 327h0M634 335h0M532 320h0M406 300h0M735 347h0M436 333h0M132 333h0M783 317h0M622 310h0M662 342h0M607 342h0M340 339h0M528 345h0M702 328h0M396 314h0M607 349h0M802 323h0M505 336h0M280 321h0M542 332h0M834 341h0M158 347h0M789 292h0M392 307h0M330 325h0M201 324h0M673 301h0M908 347h0M208 339h0M668 339h0M594 297h0M814 331h0M725 344h0M382 307h0M477 323h0M735 340h0M584 313h0M296 339h0M340 348h0M636 304h0M684 348h0M392 321h0M642 316h0M667 339h0M716 336h0M530 331h0M344 308h0M930 344h0M309 337h0M410 342h0M626 306h0M702 340h0M867 338h0M128 316h0M705 318h0M202 304h0M539 345h0M378 330h0M134 309h0M701 319h0M318 349h0M528 331h0M392 340h0M230 312h0M471 346h0M132 342h0M704 347h0M897 340h0M920 310h0M820 340h0M406 323h0M279 308h0M397 331h0M318 339h0M269 332h0M469 336h0M441 343h0M394 299h0M882 312h0M697 347h0M351 343h0M510 292h0M704 317h0M560 321h0M268 349h0M202 350h0M402 322h0M792 342h0M132 316h0M384 334h0M584 321h0M244 346h0M836 302h0M306 306h0M836 291h0M332 343h0M626 335h0M897 327h0M583 316h0M395 348h0M146 301h0M136 325h0M793 350h0M704 328h0M590 333h0M127 343h0M470 337h0M652 339h0M274 349h0M910 342h0M132 348h0M589 341h0M194 332h0M424 288h0M218 319h0M457 331h0M706 334h0M820 309h0M279 330h0M706 348h0M222 330h0M434 322h0M898 314h0M441 328h0M556 328h0M180 336h0M801 309h0M466 337h0M404 340h0M323 329h0M908 341h0M582 315h0M280 345h0M468 324h0M288 346h0M892 338h0M298 339h0M330 319h0M478 333h0M761 320h0M217 341h0M408 300h0M579 320h0M716 329h0M796 301h0M510 311h0M859 348h0M280 325h0M660 331h0M508 310h0M500 350h0M610 309h0M896 324h0M374 345h0M314 322h0M602 339h0M820 343h0M910 325h0M681 300h0M674 345h0M499 333h0M460 331h0M222 309h0M670 344h0M142 320h0M388 317h0M470 341h0M798 309h0M928 324h0M539 299h0M218 328h0M668 345h0M287 325h0M269 337h0M312 308h0M170 348h0M338 336h0M922 323h0M362 339h0M897 297h0M622 335h0M209 349h0M670 340h0M441 329h0M156 349h0M318 336h0M418 330h0M268 317h0M408 314h0M274 332h0M413 349h0M922 347h0M264 343h0M856 319h0M922 343h0M628 344h0M177 316h0M793 347h0M126 320h0M558 339h0M385 312h0M518 325h0M534 335h0M920 315h0M646 345h0M627 326h0M474 313h0M460 326h0M658 333h0M798 330h0M712 312h0M910 320h0M444 337h0M744 347h0M132 329h0M264 330h0M410 332h0M347 301h0M382 326h0M374 302h0M468 349h0M456 312h0M533 299h0M387 349h0M520 302h0M394 341h0M818 320h0M663 348h0M674 308h0M578 324h0M216 348h0M346 299h0M920 299h0M594 322h0M413 328h0M508 312h0M585 307h0M279 319h0M132 298h0M268 336h0M406 298h0M921 332h0M679 321h0M476 303h0M306 311h0M347 345h0M425 309h0M802 318h0M278 332h0M305 313h0M826 337h0M395 312h0M669 349h0M836 325h0M607 344h0M168 333h0M688 344h0M474 323h0M845 338h0M222 328h0M450 315h0M397 340h0M511 343h0M707 338h0M289 336h0M590 328h0M594 337h0M652 342h0M459 325h0M443 326h0M621 319h0M278 293h0M140 307h0M594 311h0M125 322h0M376 331h0M126 313h0M706 322h0M308 342h0M680 340h0M291 302h0M843 340h0M310 348h0M310 343h0M812 334h0M312 299h0M298 337h0M897 303h0M919 333h0M530 336h0M682 325h0M535 332h0M802 350h0M876 347h0M332 321h0M696 342h0M558 316h0M190 336h0M832 342h0M924 340h0M467 349h0M315 335h0M229 310h0M478 310h0M626 325h0M230 293h0M169 315h0M642 337h0M158 316h0M713 319h0M426 337h0M820 297h0M183 346h0M560 324h0M182 335h0M797 306h0M263 335h0M314 333h0M278 341h0M785 332h0M306 320h0M324 342h0M508 331h0M382 344h0M602 335h0M402 334h0M286 337h0M906 334h0M636 294h0M418 347h0M892 326h0M208 347h0M286 342h0M520 339h0M344 305h0M173 326h0M172 332h0M126 318h0M540 349h0M408 296h0M628 319h0M696 350h0M812 328h0M443 333h0M314 320h0M168 303h0M849 297h0M286 348h0M424 325h0M594 307h0M642 325h0M520 343h0M832 344h0M441 322h0M234 327h0M177 321h0M565 345h0M560 329h0M338 344h0M560 331h0M441 317h0M626 314h0M159 342h0M868 348h0M760 346h0M140 315h0M726 350h0M626 310h0M715 321h0M834 306h0M899 300h0M190 347h0M413 346h0M897 331h0M158 334h0M652 347h0M504 341h0M469 344h0M145 336h0M231 338h0M508 303h0M557 306h0M383 312h0M689 348h0M760 335h0M793 316h0M192 328h0M701 331h0M130 336h0M400 336h0M180 319h0M431 344h0M540 339h0M638 296h0M674 313h0M142 315h0M622 306h0M332 300h0M631 323h0M191 349h0M383 341h0M279 306h0M424 300h0M550 347h0M259 316h0M795 304h0M580 314h0M344 324h0M427 316h0M424 334h0M279 312h0M466 346h0M348 343h0M126 330h0M888 336h0M578 317h0M450 345h0M928 319h0M583 328h0M486 334h0M892 335h0M535 337h0M324 310h0M554 348h0M868 345h0M834 324h0M656 344h0M194 329h0M309 326h0M897 334h0M338 320h0M519 312h0M601 348h0M378 344h0M674 328h0M268 342h0M230 305h0M636 338h0M724 310h0M180 348h0M396 317h0M628 348h0M552 349h0M222 336h0M802 334h0M638 338h0M818 344h0M280 338h0M801 333h0M234 344h0M373 321h0M876 342h0M352 323h0M476 321h0M716 299h0M506 348h0M624 345h0M694 340h0M402 315h0M560 313h0M836 334h0M444 341h0M281 300h0M367 346h0M176 349h0M471 324h0M441 339h0M132 345h0M362 344h0M643 309h0M273 321h0M468 327h0M897 290h0M679 324h0M352 346h0M180 312h0M441 335h0M616 294h0M634 348h0M470 313h0M820 295h0M622 350h0M628 324h0M922 325h0M576 348h0M274 329h0M510 306h0M558 321h0M126 334h0M508 325h0M540 316h0M897 320h0M750 313h0M384 321h0M413 317h0M602 345h0M602 320h0M373 337h0M436 331h0M819 338h0M128 335h0M394 323h0M172 317h0M441 349h0M486 309h0M682 320h0M477 301h0M780 346h0M257 346h0M826 350h0M511 338h0M444 345h0M836 288h0M338 324h0M440 283h0M382 333h0M339 336h0M394 328h0M424 306h0M466 331h0M856 340h0M478 317h0M180 298h0M580 309h0M146 333h0M826 335h0M232 333h0M322 311h0M702 344h0M622 325h0M696 331h0M352 335h0M856 311h0M698 342h0M889 340h0M518 315h0M862 329h0M457 335h0M457 342h0M548 340h0M244 340h0M668 314h0M233 333h0M474 340h0M832 338h0M252 319h0M524 299h0M865 345h0M392 312h0M431 333h0M908 344h0M401 303h0M557 327h0M755 329h0M670 329h0M760 333h0M920 325h0M704 313h0M551 342h0M594 301h0M478 323h0M560 335h0M287 333h0M140 349h0M593 339h0M466 342h0M849 299h0M682 308h0M360 340h0M680 310h0M660 348h0M346 335h0M217 345h0M338 316h0M896 333h0M793 338h0M278 338h0M289 343h0M626 343h0M254 348h0M682 328h0M410 328h0M762 344h0M382 315h0M589 349h0M434 310h0M396 304h0M780 337h0M910 333h0M231 349h0M287 322h0M702 349h0M129 311h0M607 328h0M209 342h0M579 330h0M872 308h0M254 300h0M472 342h0M803 335h0M312 313h0M374 341h0M780 329h0M128 305h0M734 332h0M460 347h0M314 299h0M924 318h0M424 316h0M584 343h0M440 346h0M192 342h0M470 328h0M338 311h0M850 337h0M498 349h0M618 339h0M662 345h0M242 318h0M167 341h0M626 329h0M812 342h0M157 346h0M247 333h0M750 320h0M352 338h0M268 327h0M516 321h0M626 319h0M875 332h0M580 307h0M406 315h0M192 334h0M713 335h0M820 333h0M269 326h0M332 311h0M346 341h0M668 306h0M176 342h0M701 333h0M382 349h0M210 345h0M233 329h0M431 303h0M129 334h0M288 330h0M230 336h0M208 308h0M408 338h0M378 309h0M244 350h0M585 304h0M230 321h0M440 338h0M315 326h0M314 330h0M924 325h0M762 323h0M642 344h0M172 320h0M278 316h0M222 342h0M344 291h0M693 346h0M662 333h0M508 346h0M716 350h0M930 348h0M208 305h0M564 315h0M602 328h0M503 340h0M354 347h0M636 297h0M431 337h0M436 317h0M406 342h0M366 336h0M715 332h0M578 299h0M148 293h0M706 331h0M486 349h0M201 298h0M786 344h0M218 314h0M201 345h0M896 349h0M760 328h0M396 343h0M410 350h0M194 348h0M920 318h0M834 334h0M377 340h0M701 337h0M133 324h0M832 332h0M594 295h0M202 308h0M704 321h0M839 348h0M679 338h0M239 346h0M734 350h0M674 322h0M346 321h0M291 349h0M673 335h0M332 330h0M338 338h0M518 330h0M715 343h0M477 291h0M882 316h0M168 309h0M562 314h0M922 328h0M424 321h0M132 322h0M923 303h0M851 335h0M157 342h0M516 344h0M622 301h0M139 349h0M269 300h0M296 343h0M434 346h0M520 319h0M510 299h0M678 347h0M140 322h0M622 328h0M712 348h0M374 313h0M696 338h0M129 349h0M408 335h0M222 296h0M201 319h0M365 348h0M194 344h0M866 305h0M793 343h0M818 350h0M377 325h0M295 341h0M652 349h0M298 333h0M540 332h0M792 336h0M882 331h0M431 321h0M802 331h0M518 319h0M539 312h0M346 309h0M226 338h0M158 330h0M802 312h0M172 341h0M192 325h0M820 331h0M392 344h0M844 345h0M346 337h0M418 342h0M888 312h0M683 313h0M703 333h0M280 317h0M621 288h0M398 343h0M456 346h0M580 320h0M642 304h0M296 336h0M680 349h0M317 328h0M884 320h0M836 343h0M259 330h0M856 333h0M578 348h0M476 336h0M682 337h0M158 310h0M697 333h0M231 342h0M470 333h0M636 299h0M792 323h0M484 336h0M532 311h0M638 316h0M668 328h0M136 314h0M255 307h0M209 326h0M853 307h0M836 305h0M310 334h0M478 340h0M508 323h0M268 345h0M794 318h0M889 340h0M520 317h0M174 341h0M642 347h0M506 343h0M418 335h0M274 320h0M583 347h0M642 299h0M324 337h0M231 330h0M864 344h0M194 323h0M126 327h0M834 327h0M176 327h0M474 337h0M314 303h0M351 316h0M196 324h0M608 324h0M177 319h0M529 330h0M406 340h0M128 321h0M439 317h0M146 293h0M638 314h0M202 311h0M892 330h0M638 335h0M402 343h0M188 325h0M764 348h0M219 333h0M190 343h0M168 320h0M835 331h0M344 298h0M793 321h0M626 339h0M784 343h0M396 322h0M264 326h0M829 330h0M436 342h0M174 308h0M868 333h0M128 313h0M296 347h0M290 332h0M704 340h0M174 313h0M297 314h0M654 344h0M649 337h0M180 328h0M924 322h0M750 337h0M140 329h0M624 333h0M624 298h0M551 344h0M140 310h0M374 336h0M764 334h0M332 334h0M614 301h0M126 347h0M146 345h0M158 344h0M580 335h0M477 295h0M359 320h0M510 340h0M440 334h0M287 323h0M792 349h0M842 326h0M895 327h0M477 319h0M844 327h0M474 334h0M408 330h0M642 350h0M602 341h0M624 330h0M802 341h0M434 341h0M408 310h0M356 298h0M486 329h0M180 304h0M442 346h0M174 320h0M295 338h0M388 338h0M612 343h0M526 344h0M331 308h0M622 340h0M601 317h0M508 328h0M702 311h0M450 318h0M183 350h0M344 332h0M889 307h0M792 321h0M835 315h0M370 344h0M889 327h0M920 336h0M219 333h0M325 349h0M510 316h0M860 314h0M146 329h0M636 349h0M374 307h0M314 317h0M192 337h0M580 349h0M268 322h0M826 332h0M390 341h0M534 338h0M390 310h0M280 343h0M734 297h0M920 340h0M332 315h0M243 334h0M478 305h0M424 343h0M384 345h0M450 333h0M856 348h0M670 328h0M734 320h0M844 331h0M307 327h0M280 296h0M229 349h0M349 335h0M377 334h0M530 342h0M630 347h0M508 341h0M520 322h0M176 346h0M578 341h0M506 341h0M202 315h0M539 341h0M882 349h0M409 322h0M355 347h0M518 337h0M470 310h0M476 344h0M474 344h0M713 330h0M690 299h0M606 342h0M258 347h0M377 337h0M618 329h0M478 329h0M897 306h0M528 298h0M560 337h0M187 336h0M928 330h0M129 330h0M174 344h0M778 311h0M146 286h0M263 338h0M338 341h0M668 309h0M930 342h0M201 317h0M580 330h0M821 316h0M529 342h0M621 314h0M394 317h0M338 326h0M876 335h0M896 345h0M307 330h0M344 318h0M828 333h0M168 346h0M234 340h0M383 302h0M800 341h0M156 304h0M412 323h0M506 336h0M274 335h0M129 322h0M218 294h0M920 302h0M306 343h0M413 323h0M175 349h0M478 343h0M180 309h0M468 331h0M314 313h0M838 307h0M897 301h0M462 347h0M145 320h0M324 318h0M233 348h0M792 327h0M744 290h0M467 312h0M220 326h0M288 340h0M895 298h0M749 294h0M520 335h0M180 338h0M750 317h0M314 338h0M436 349h0M815 336h0M290 340h0M430 349h0M534 325h0M836 338h0M243 326h0M342 332h0M125 310h0M865 343h0M703 326h0M682 340h0M843 321h0M209 348h0M460 340h0M735 329h0M268 338h0M762 324h0M242 337h0M892 315h0M466 324h0M780 333h0M550 320h0M585 336h0M484 341h0M470 349h0M243 323h0M694 343h0M560 309h0M895 341h0M374 333h0M685 333h0M208 317h0M618 334h0M836 322h0M590 337h0M627 336h0M324 301h0M682 323h0M306 316h0M459 326h0M383 314h0M168 324h0M618 343h0M836 313h0M530 344h0M140 298h0M897 349h0M312 294h0M853 330h0M846 345h0M856 327h0M278 326h0M558 337h0M230 301h0M196 344h0M834 310h0M402 338h0M832 327h0M565 326h0M168 328h0M678 329h0M406 325h0M425 313h0M475 319h0M739 313h0M786 347h0M888 304h0M510 330h0M922 320h0M559 342h0M928 349h0M156 328h0M868 324h0M867 342h0M675 309h0M351 327h0M584 308h0M324 323h0M243 329h0M128 342h0M158 350h0M821 314h0M628 322h0M384 348h0M888 347h0M324 297h0M528 335h0M557 329h0M632 349h0M412 326h0M452 349h0M377 317h0M855 316h0M922 315h0M218 342h0M832 329h0M882 339h0M624 337h0M707 327h0M578 335h0M814 347h0M486 342h0M174 324h0M469 299h0M346 317h0M700 345h0M908 331h0M502 342h0M194 341h0M190 333h0M418 326h0M383 339h0M627 299h0M394 338h0M812 336h0M347 325h0M818 347h0M837 317h0M274 345h0M441 320h0M892 342h0M624 340h0M406 336h0M712 325h0M550 342h0M212 338h0M385 329h0M784 323h0M618 346h0M310 338h0M180 321h0M378 313h0M908 327h0M461 344h0M559 349h0M898 318h0M593 328h0M828 347h0M667 304h0M156 331h0M844 347h0M460 350h0M652 336h0M427 328h0M332 336h0M216 335h0M435 315h0M290 328h0M594 332h0M187 319h0M408 305h0M702 298h0M140 335h0M629 349h0M780 344h0M411 337h0M892 318h0M187 348h0M750 298h0M140 291h0M202 338h0M674 317h0M412 319h0M928 344h0M581 317h0M344 347h0M668 341h0M196 346h0M924 316h0M410 346h0M230 315h0M346 348h0M722 296h0M231 346h0M456 347h0M713 316h0M478 325h0M560 327h0M356 338h0M263 347h0M287 318h0M136 312h0M229 345h0M408 326h0M298 348h0M715 308h0M408 347h0M253 328h0M665 339h0M586 347h0M310 331h0M678 336h0M726 340h0M441 324h0M172 345h0M697 345h0M867 300h0M580 323h0M802 326h0M392 347h0M243 311h0M475 311h0M189 339h0M484 349h0M286 346h0M812 339h0M744 342h0M441 317h0M378 321h0M618 337h0M523 302h0M507 335h0M656 320h0M636 330h0M510 296h0M749 305h0M832 335h0M176 338h0M833 304h0M440 303h0M179 333h0M682 346h0M716 339h0M892 307h0M434 350h0M441 332h0M384 339h0M594 347h0M361 341h0M158 325h0M344 328h0M130 345h0M702 306h0M325 333h0M889 346h0M820 338h0M607 338h0M540 337h0M415 341h0M270 346h0M156 334h0M856 322h0M908 338h0M882 309h0M888 328h0M378 300h0M844 334h0M298 330h0M270 343h0M846 347h0M376 327h0M712 323h0M876 339h0M140 313h0M146 296h0M534 331h0M735 316h0M909 335h0M861 321h0M312 335h0M897 338h0M928 341h0M349 337h0M775 313h0M638 350h0M484 345h0M158 313h0M508 320h0M750 308h0M683 301h0M278 344h0M230 338h0M158 321h0M560 346h0M382 319h0M208 329h0M224 345h0M324 325h0M834 346h0M442 342h0M397 336h0M727 301h0M196 319h0M622 331h0M892 322h0M191 346h0M734 325h0M530 348h0M840 345h0M528 339h0M139 326h0M412 341h0M148 302h0M766 331h0M217 337h0M635 320h0M564 349h0M208 333h0M344 341h0M528 350h0M280 332h0M201 342h0M128 308h0M575 334h0M508 339h0M888 320h0M477 348h0M230 323h0M140 302h0M308 347h0M892 346h0M821 327h0M418 337h0M180 302h0M928 314h0M679 315h0M460 324h0M202 329h0M339 346h0M229 333h0M442 312h0M856 336h0M844 335h0M146 339h0M386 295h0M784 341h0M826 325h0M636 315h0M331 325h0M896 323h0M784 346h0M312 349h0M535 328h0M448 345h0M788 345h0M558 323h0M338 306h0M716 301h0M734 337h0M766 307h0M156 336h0M436 321h0M324 305h0M678 312h0M196 322h0M924 335h0M594 317h0M382 304h0M706 305h0M406 347h0M464 293h0M402 319h0M269 318h0M145 348h0M385 325h0M593 342h0M558 344h0M204 325h0M139 332h0M376 335h0M784 337h0M466 333h0M413 311h0M812 345h0M338 330h0M172 307h0M802 337h0M608 333h0M512 311h0M923 331h0M382 322h0M654 301h0M145 326h0M412 309h0M596 346h0M668 331h0M312 322h0M919 306h0M836 293h0M924 337h0M274 342h0M349 339h0M146 343h0M621 291h0M424 349h0M172 312h0M222 313h0M392 326h0M476 311h0M784 326h0M839 344h0M430 323h0M288 337h0M145 310h0M218 330h0M172 300h0M759 309h0M168 316h0M224 341h0M194 335h0M172 329h0M308 329h0M476 315h0M601 324h0M176 330h0M716 316h0M518 345h0M843 340h0M636 344h0M376 344h0M425 330h0M172 339h0M408 341h0M312 310h0" stroke="#dc361c" stroke-width="4.0" stroke-linecap="round" fill="none"/>
<path d="M63.5 136.3h0M63.5 147h0M76.9 127.3h0M74 139.2h0M74.4 144.6h0M78.7 140.6h0M79.2 148h0M93.7 129.6h0M94.6 129.2h0M97.9 136.3h0M95.6 140.8h0M93.3 143h0M105.6 140.2h0M105.4 146.9h0M111.5 142.1h0M111.9 146h0M119.2 144h0M121 133.1h0M121 136.3h0M142.3 104.2h0M140.8 145.4h0M143.1 144h0M149.4 138.8h0M156.2 139.2h0M158.5 133.5h0M157.1 144h0M162.7 128.1h0M163.7 132.9h0M158.5 133.8h0M156.9 138.8h0M173.8 139.6h0M210.8 102.7h0M210.4 129.2h0M213.3 130.2h0M206.5 133.8h0M211.2 136.3h0M200.8 139.2h0M201.2 141h0M240.6 135.8h0M236.7 138.3h0M223.3 146h0M249.2 142.7h0M253.7 139.2h0M275 105.1h0M275 128.1h0M289.4 111.2h0M310.2 86.9h0M310.2 106.2h0M310.2 124.2h0M310.2 125.8h0M301 126.7h0M301 135.8h0M306.3 133.8h0M333.3 100.6h0M331.7 121.9h0M349.6 124.2h0M253.8 139h0M288.5 140.6h0M289.4 143.5h0M315 139.2h0M338.8 144.4h0M345.8 143.1h0M268.3 144.4h0M268.4 145.4h0M253 138.8h0M349.3 124.4h0M348.6 129.7h0M349.8 139.3h0M364.2 143.4h0M363 147.7h0M382.3 140h0M381 146.5h0M402.2 130.9h0M407.5 112.1h0M407.5 124.9h0M408 136.9h0M410.4 138h0M415.9 145.3h0M431.1 127.3h0M432.7 137.4h0M444 147.7h0M84.7 124.8h0M84.6 126.8h0M84.7 129.7h0M84.9 147h0M85 148.7h0M84.5 150.6h0M132.1 139.2h0M132 140.7h0M132.2 142.4h0M132.1 144.4h0M132.2 146.7h0M132.2 149.5h0M132 150.9h0M210.9 122.9h0M210.7 123.8h0M210.8 141h0M211 143.8h0M210.9 146.3h0M210.8 148.3h0M210.6 149.7h0M210.8 152.7h0M233.4 139.6h0M233.4 141.6h0M233.2 143.5h0M233.1 145.1h0M233.8 147.8h0M233.6 149.9h0M233.5 151.7h0M307.7 137.7h0M307.6 139.3h0M307.4 142.1h0M307.7 144.5h0M307.9 146.7h0M307.6 148.2h0M307.7 151h0M307.6 152.3h0M327.9 138.7h0M328 140.6h0M328.1 143.2h0M327.8 146.1h0M328.1 148h0M327.9 149.4h0M328 151.1h0M327.9 152.8h0M407.8 141.7h0M407.9 143.9h0M407.9 145.7h0M408 147h0M407.8 149.6h0M408 152.5h0M449.6 141.7h0M449.7 143.1h0M449.5 145.8h0M449.6 147.2h0M449.6 148.6h0M449.4 151.4h0" stroke="#de321c" stroke-width="2.6" stroke-linecap="round" fill="none"/>
<path d="M98.5 141.2h0M101.9 144.6h0M114.2 147.3h0M138.8 141.5h0M178.1 123.8h0M181 141.2h0M225.8 108.5h0M222.7 112.9h0M223.8 128.7h0M225.8 128.7h0M227.1 136.9h0M230 136.9h0M232.5 136.3h0M207.3 147h0M245.4 147.3h0M294.6 125.8h0M341.3 137.7h0M256.7 141.2h0M280.2 141.5h0M296.2 142.9h0M310.6 137.3h0M318.3 145.4h0M332.7 138.7h0M333.1 141.5h0M254.5 139.3h0M372.6 108.8h0M372.6 140.5h0M421.4 134.5h0M454.4 140.5h0M459.7 111.2h0M459.7 118.8h0M460.4 133.3h0M84.7 132.5h0M84.6 134.9h0M84.6 136.7h0M84.5 138.8h0M84.5 140.6h0M84.5 143h0M84.8 145.2h0M84.6 146.8h0M132.2 121.9h0M132 127h0M194.1 130.2h0M193.9 136.3h0M193.9 138h0M194.1 139.8h0M194.1 142.2h0M194.2 144h0M193.9 146.7h0M194.1 148.4h0M194.1 151.4h0M358.7 122h0M358.8 123.6h0M358.9 132h0M358.8 134.9h0M358.7 137.2h0M358.6 140h0M358.4 142.1h0M358.6 143.8h0M358.6 146.3h0M358.7 148.3h0M358.7 151.5h0M395.5 135.2h0M395.6 136.8h0M395.6 139.3h0M395.4 141.7h0M395.4 143.5h0M395.6 146.4h0M395.4 149h0M395.4 151.6h0M431.5 141.7h0M431.7 143.8h0M431.4 145.7h0M431.4 148.4h0M431.5 150.2h0M431.4 152.2h0M459.9 135.7h0M459.6 138.6h0M459.9 141.3h0M459.6 143.4h0M459.6 144.7h0M459.8 147.2h0M459.7 149.1h0M459.8 151.5h0" stroke="#4870c4" stroke-width="2.6" stroke-linecap="round" fill="none"/>
<path d="M281.3 115h0M334.8 130.5h0M334.8 131.8h0M260.7 108.5h0M260.6 115.6h0M260.9 119.7h0M260.9 123h0M260.9 130.5h0M260.7 131.1h0M260.8 131.8h0M260.8 132.7h0M260.7 133.5h0M260.8 134.4h0M260.7 135.5h0M260.7 136.5h0M260.8 137.8h0M260.8 138.7h0M260.9 139.8h0M260.8 140.9h0M260.8 142.2h0M260.7 143.4h0M260.7 144.5h0M260.6 145.7h0M260.9 146.9h0M260.7 147.7h0M260.8 148.5h0M261.1 149.5h0M260.8 150.6h0M260.9 151.2h0M260.9 152.3h0M260.9 153h0M260.7 153.9h0M260.8 154.6h0M260.6 155.4h0M260.8 156.3h0M260.9 156.8h0M260.9 158h0M260.8 159.1h0" stroke="#b04028" stroke-width="2.6" stroke-linecap="round" fill="none"/></g>
<line x1="44" x2="484.4" y1="78.18" y2="78.18" stroke="#f03535" stroke-width="1.05"/>
<line x1="44" x2="484.4" y1="151.60" y2="151.60" stroke="#cf4858" stroke-width="0.85" stroke-dasharray="2.4 2.2"/>
<line x1="43.5" x2="43.5" y1="14.40" y2="241.80" stroke="#111" stroke-width="1.1"/>
<line x1="43" x2="484" y1="241.25" y2="241.25" stroke="#111" stroke-width="1.1"/>
<line x1="40.2" x2="43" y1="240.60" y2="240.60" stroke="#111" stroke-width="0.9"/>
<text x="37.6" y="243.25" class="yt">0</text>
<line x1="40.2" x2="43" y1="196.10" y2="196.10" stroke="#111" stroke-width="0.9"/>
<text x="37.6" y="198.75" class="yt">2</text>
<line x1="40.2" x2="43" y1="151.60" y2="151.60" stroke="#111" stroke-width="0.9"/>
<text x="37.6" y="154.25" class="yt">4</text>
<line x1="40.2" x2="43" y1="107.10" y2="107.10" stroke="#111" stroke-width="0.9"/>
<text x="37.6" y="109.75" class="yt">6</text>
<line x1="40.2" x2="43" y1="62.60" y2="62.60" stroke="#111" stroke-width="0.9"/>
<text x="37.6" y="65.25" class="yt">8</text>
<line x1="40.2" x2="43" y1="18.10" y2="18.10" stroke="#111" stroke-width="0.9"/>
<text x="37.6" y="20.75" class="yt">10</text>
<line x1="80.75" x2="80.75" y1="241.70" y2="244.30" stroke="#111" stroke-width="0.9"/>
<text x="0" y="0" class="xt" transform="translate(80.75 253.90) scale(0.62 1)">1</text>
<line x1="115" x2="115" y1="241.70" y2="244.30" stroke="#111" stroke-width="0.9"/>
<text x="0" y="0" class="xt" transform="translate(115 253.90) scale(0.62 1)">2</text>
<line x1="145.75" x2="145.75" y1="241.70" y2="244.30" stroke="#111" stroke-width="0.9"/>
<text x="0" y="0" class="xt" transform="translate(145.75 253.90) scale(0.62 1)">3</text>
<line x1="173" x2="173" y1="241.70" y2="244.30" stroke="#111" stroke-width="0.9"/>
<text x="0" y="0" class="xt" transform="translate(173 253.90) scale(0.62 1)">4</text>
<line x1="198.75" x2="198.75" y1="241.70" y2="244.30" stroke="#111" stroke-width="0.9"/>
<text x="0" y="0" class="xt" transform="translate(198.75 253.90) scale(0.62 1)">5</text>
<line x1="223.25" x2="223.25" y1="241.70" y2="244.30" stroke="#111" stroke-width="0.9"/>
<text x="0" y="0" class="xt" transform="translate(223.25 253.90) scale(0.62 1)">6</text>
<line x1="246.25" x2="246.25" y1="241.70" y2="244.30" stroke="#111" stroke-width="0.9"/>
<text x="0" y="0" class="xt" transform="translate(246.25 253.90) scale(0.62 1)">7</text>
<line x1="267.5" x2="267.5" y1="241.70" y2="244.30" stroke="#111" stroke-width="0.9"/>
<text x="0" y="0" class="xt" transform="translate(267.5 253.90) scale(0.62 1)">8</text>
<line x1="287.5" x2="287.5" y1="241.70" y2="244.30" stroke="#111" stroke-width="0.9"/>
<text x="0" y="0" class="xt" transform="translate(287.5 253.90) scale(0.62 1)">9</text>
<line x1="307" x2="307" y1="241.70" y2="244.30" stroke="#111" stroke-width="0.9"/>
<text x="0" y="0" class="xt" transform="translate(307 253.90) scale(0.62 1)">10</text>
<line x1="325.5" x2="325.5" y1="241.70" y2="244.30" stroke="#111" stroke-width="0.9"/>
<text x="0" y="0" class="xt" transform="translate(325.5 253.90) scale(0.62 1)">11</text>
<line x1="344.5" x2="344.5" y1="241.70" y2="244.30" stroke="#111" stroke-width="0.9"/>
<text x="0" y="0" class="xt" transform="translate(344.5 253.90) scale(0.62 1)">12</text>
<line x1="363.25" x2="363.25" y1="241.70" y2="244.30" stroke="#111" stroke-width="0.9"/>
<text x="0" y="0" class="xt" transform="translate(363.25 253.90) scale(0.62 1)">13</text>
<line x1="379" x2="379" y1="241.70" y2="244.30" stroke="#111" stroke-width="0.9"/>
<text x="0" y="0" class="xt" transform="translate(379 253.90) scale(0.62 1)">14</text>
<line x1="393.75" x2="393.75" y1="241.70" y2="244.30" stroke="#111" stroke-width="0.9"/>
<text x="0" y="0" class="xt" transform="translate(393.75 253.90) scale(0.62 1)">15</text>
<line x1="405.5" x2="405.5" y1="241.70" y2="244.30" stroke="#111" stroke-width="0.9"/>
<text x="0" y="0" class="xt" transform="translate(405.5 253.90) scale(0.62 1)">16</text>
<line x1="417.5" x2="417.5" y1="241.70" y2="244.30" stroke="#111" stroke-width="0.9"/>
<text x="0" y="0" class="xt" transform="translate(417.5 253.90) scale(0.62 1)">17</text>
<line x1="428.75" x2="428.75" y1="241.70" y2="244.30" stroke="#111" stroke-width="0.9"/>
<text x="0" y="0" class="xt" transform="translate(428.75 253.90) scale(0.62 1)">18</text>
<line x1="438" x2="438" y1="241.70" y2="244.30" stroke="#111" stroke-width="0.9"/>
<text x="0" y="0" class="xt" transform="translate(438 253.90) scale(0.62 1)">19</text>
<line x1="447" x2="447" y1="241.70" y2="244.30" stroke="#111" stroke-width="0.9"/>
<text x="0" y="0" class="xt" transform="translate(447 253.90) scale(0.62 1)">20</text>
<line x1="455.5" x2="455.5" y1="241.70" y2="244.30" stroke="#111" stroke-width="0.9"/>
<text x="0" y="0" class="xt" transform="translate(455.5 253.90) scale(0.62 1)">21</text>
<line x1="462.5" x2="462.5" y1="241.70" y2="244.30" stroke="#111" stroke-width="0.9"/>
<text x="0" y="0" class="xt" transform="translate(462.5 253.90) scale(0.62 1)">22</text>
<text x="0" y="0" class="xl" transform="translate(263.55 266.50) scale(0.66 1)">Chromosome</text>
<g transform="translate(22.6 128.7) rotate(-90) scale(0.86 1)"><text x="0" y="0" class="yl">−log<tspan font-size="5" dy="1.5">10</tspan><tspan dy="-1.5"> (p-value)</tspan></text></g>
<text x="493.5" y="105.3" class="lg">Beta</text>
<rect x="494" y="109.2" width="9.9" height="49.6" fill="url(#cb)"/>
<line x1="494" x2="496" y1="117.5" y2="117.5" stroke="#fff" stroke-width="0.6" opacity="0.8"/>
<line x1="501.9" x2="503.9" y1="117.5" y2="117.5" stroke="#fff" stroke-width="0.6" opacity="0.8"/>
<text x="506.5" y="120.1" class="lt">1</text>
<line x1="494" x2="496" y1="134.0" y2="134.0" stroke="#fff" stroke-width="0.6" opacity="0.8"/>
<line x1="501.9" x2="503.9" y1="134.0" y2="134.0" stroke="#fff" stroke-width="0.6" opacity="0.8"/>
<text x="506.5" y="136.6" class="lt">0</text>
<line x1="494" x2="496" y1="150.4" y2="150.4" stroke="#fff" stroke-width="0.6" opacity="0.8"/>
<line x1="501.9" x2="503.9" y1="150.4" y2="150.4" stroke="#fff" stroke-width="0.6" opacity="0.8"/>
<text x="506.5" y="153.0" class="lt">−1</text>
<text x="6.4" y="287.4" class="pl">B</text>
<line x1="44" x2="484" y1="513.20" y2="513.20" stroke="#fafafa" stroke-width="0.6"/>
<line x1="44" x2="484" y1="468.70" y2="468.70" stroke="#fafafa" stroke-width="0.6"/>
<line x1="44" x2="484" y1="424.20" y2="424.20" stroke="#fafafa" stroke-width="0.6"/>
<line x1="44" x2="484" y1="379.70" y2="379.70" stroke="#fafafa" stroke-width="0.6"/>
<line x1="44" x2="484" y1="335.20" y2="335.20" stroke="#fafafa" stroke-width="0.6"/>
<line x1="44" x2="484" y1="290.70" y2="290.70" stroke="#fafafa" stroke-width="0.6"/>
<g filter="url(#soft)"><path d="M62.2 513.2L62.2 447.1L63 447.1L64 446.3L65 447.3L66 447.9L67 451.2L68 452.7L69 450.4L70 448.5L71 447.2L72 448.9L73 452.1L74 453.2L75 449.4L76 446.1L77 450.1L78 452.9L79 448.8L80 448.1L80.5 448.1L80.5 513.2ZM81.9 513.2L81.9 454.3L82 454.3L83 455.1L84 456L85 454.2L86 459.4L87 452.6L88 451.8L89 450.9L90 455.7L91 454.8L92 449.7L93 456.3L94 454L95 451.3L96 454.4L97 451.1L98 453L99 449L100 448.9L101 449.8L102 444.4L103 445.1L104 444L105 451.6L106 454.4L107 451.1L108 448.9L109 450.8L110 449.1L111 454.2L112 453.1L113 456.9L114 454.3L115 455.4L116 456.7L117 455.1L118 448.2L119 453.6L120 455.4L121 450.9L122 453.2L123 447.3L124 448.9L125 450.3L126 450.2L127 445.6L128 446.4L129 447.4L130 448.8L131 455.8L132 457.7L133 450.9L134 449L135 449L136 448.5L137 452.2L138 451.4L139 455.1L140 453L141 455.4L142 455.2L143 452.9L144 454.1L145 451.5L146 450.6L147 450.4L148 447.1L149 454.4L150 459.2L151 454.7L152 450.9L153 445.1L154 445.8L155 446L156 451.8L157 449.8L158 448.9L159 454.1L160 456.7L161 455.6L162 453.7L163 463.3L164 459L165 455.9L166 455.4L167 453.6L168 451.9L169 455.8L170 453.3L171 454.1L172 456.9L173 454.7L174 449.1L175 455.6L176 460.1L177 462.8L178 452.4L179 453.5L180 453.5L181 456L182 458L183 462.8L184 458.4L185 455.4L186 461.1L187 461.4L188 460.6L189 457.7L190 455L191 450.5L192 447L193 445.9L194 444.3L195 451.7L196 454.1L197 449.9L198 450.2L199 451.3L200 458.7L201 462.6L202 456.4L203 453.9L204 454.6L205 455.4L206 460.2L207 456.2L208 451.5L209 446.7L210 449.1L211 451.4L212 455.7L213 450.6L214 445.9L215 450.8L216 450.8L217 451.4L218 454L219 462L220 459.7L221 455L222 459.1L223 459.5L224 467.9L225 457.7L226 454.2L227 453.6L228 454.3L229 456L230 455.1L231 455.3L232 455.3L233 454.5L234 453.6L235 448.2L236 455L237 453.4L238 455.4L239 458.3L240 464.1L241 457.7L242 459.2L243 459.3L244 455.3L245 458.1L246 456L247 455.2L248 451.7L249 448.9L250 453.5L251 450.3L252 451.8L253 452L254 453.2L255 450.6L256 455.7L257 453.8L258 449.7L259 452L260 445.7L261 451.2L262 451.3L263 453.7L264 455.5L265 458.3L266 458.1L267 456.3L268 457.7L269 453L270 448L271 455.2L272 451.6L273 451.6L274 451.4L275 443.9L276 443.6L277 446.3L278 448.5L279 457.6L280 453.2L281 455.7L282 454.1L283 453.4L284 453.4L284 513.2ZM286.4 513.2L286.4 443.8L287 443.8L288 448.3L289 448.7L290 447.9L291 454.8L292 447.3L293 452L294 456.7L295 449.8L296 444.1L297 450L298 453.3L299 442.9L300 446.6L301 455.8L302 456.8L303 448.6L304 448.2L305 447.7L306 445.8L307 446.5L308 450.2L309 456.7L310 453.8L311 457.2L312 455.8L313 448.9L314 448.8L315 450.3L316 451.2L317 449.5L318 447.9L319 454.4L320 453.3L321 447.5L322 447.2L323 452.1L324 454.8L325 461L326 460.5L327 452.2L328 452.8L329 455.8L330 456.6L331 455.6L332 455L333 455.4L334 457.1L335 453.4L336 448.1L337 452L338 454.3L339 449.8L340 456L341 456.8L342 456.6L343 454.7L344 455L345 457.2L346 454.5L347 457.9L348 461.8L349 465.1L350 457.8L351 461.7L352 456.8L353 453.1L354 450.4L354.3 450.4L354.3 513.2ZM354.9 513.2L354.9 452.1L355 452.1L356 454.3L357 453.6L358 455.4L359 458.8L360 452.3L361 455.6L362 448.6L363 448.7L364 452L365 451L366 447.7L367 454.5L368 457L369 459L370 456.1L370.5 456.1L370.5 513.2ZM371.1 513.2L371.1 453.3L372 453.3L373 455.7L374 456.4L375 451.1L376 448.2L377 449.7L378 455.5L379 452.4L380 451.7L381 451.5L382 446.3L383 446.3L384 452.3L385 455.8L385.4 455.8L385.4 513.2ZM386.2 513.2L386.2 450.7L387 450.7L388 448.7L389 450.8L390 454.9L391 453.1L392 447.7L393 448.5L394 453.9L395 454.4L396 455.3L397 453.6L398 449.8L399 444.3L400 446.8L401 450.4L402 450.9L403 451.4L404 497.6L405 452.8L406 452.6L407 456.4L408 453L409 453.9L410 456.6L411 453.2L412 454.5L413 447.8L414 448L415 449.5L416 453.2L417 454.2L418 450.7L419 453.7L420 450.6L421 458.4L422 455.3L423 451.5L424 450.7L425 451.4L426 448.5L427 452.9L428 456L429 454.3L430 449.6L431 449.3L432 451.2L433 450.7L434 450L435 455.1L436 463.5L437 462.5L438 463.5L439 461L440 461.6L441 460.9L442 456.1L443 454.3L444 453.7L445 447.6L446 451.1L447 452.9L448 448.5L449 453.8L450 458.7L451 491L452 450.9L453 449.5L454 448.5L455 447L456 450.7L457 451.6L458 495.4L459 453.8L460 452.4L461 453.8L462 451L463 441.6L464 449.7L465 447.9L465.6 447.9L465.6 513.2Z" fill="url(#gB)"/>
<path transform="scale(.5)" d="M720 1004v2M842 1006v2M300 998v2M310 1018v2M198 1013v2M384 1005v2M514 1006v2M428 999v2M656 998v2M854 1011v2M476 1010v2M412 1006v2M544 1001v2M314 1006v2M405 1002v2M652 1019v2M128 1013v2M518 1009v2M840 1009v2M782 1011v2M854 1010v2M855 997v2M690 1016v2M324 1000v2M832 1012v2M272 1002v2M382 1008v2M924 1013v2M242 998v2M302 1009v2M484 999v2M894 1009v2M634 1002v2M178 1001v2M590 1017v2M522 997v2M582 1007v2M674 1013v2M560 998v2M320 1015v2M584 1001v2M796 1013v2M559 1016v2M284 1002v2M352 1009v2M528 999v2M632 1009v2M856 1011v2M680 1012v2M680 1016v2M134 1006v2M208 1005v2M786 1013v2M500 1020v2M194 1010v2M896 1020v2M482 1003v2M784 1011v2M178 1006v2M918 1003v2M318 999v2M530 1018v2M424 1010v2M832 1004v2M848 1004v2M921 1019v2M239 1016v2M270 997v2M280 999v2M284 1016v2M154 999v2M483 999v2M728 1001v2M280 999v2M438 1002v2M204 1012v2M272 1000v2M877 1008v2M564 1010v2M276 1007v2M823 1016v2M930 1015v2M276 1008v2M462 997v2M476 1012v2M668 999v2M884 1004v2M328 1004v2M592 1006v2M190 1010v2M555 1001v2M736 1008v2M558 1014v2M825 1014v2M692 999v2M616 1000v2M254 1004v2M438 1004v2M542 1003v2M652 1017v2M662 1010v2M636 1011v2M278 1000v2M674 1001v2M750 999v2M376 999v2M474 1005v2M236 1003v2M524 1005v2M194 998v2M624 1001v2M520 1012v2M330 1007v2M510 1007v2M214 1017v2M601 1001v2M157 1016v2M876 1014v2M660 1008v2M128 998v2M892 1004v2M374 1011v2M266 1009v2M522 1012v2M818 998v2M212 998v2M716 1009v2M260 1000v2M482 1002v2M852 1007v2M420 1014v2M463 1004v2" stroke="#5572a7" stroke-width="3.4" stroke-linecap="round" fill="none"/>
<path transform="scale(.5)" d="M134 1015v2M204 1016v2M636 1012v2M608 1003v2M436 1000v2M855 999v2M148 1000v2M694 1009v2M646 1001v2M538 1021v2M226 1013v2M396 1015v2M250 998v2M376 1005v2M136 1001v2M926 1000v2M559 999v2M318 1012v2M856 1014v2M242 1010v2M776 1012v2M828 999v2M294 998v2M668 1007v2M856 1002v2M270 1004v2M614 1015v2M378 998v2M882 1013v2M200 1000v2M246 1000v2M252 1005v2M902 1007v2M927 1002v2M802 1003v2M714 998v2M166 1011v2M632 1015v2M549 1000v2M392 1004v2M388 1015v2M731 1000v2M388 1012v2M502 1009v2M774 1010v2M168 1002v2M134 998v2M836 998v2M906 998v2M834 998v2M275 1008v2M484 1006v2M680 1001v2M682 1006v2M332 1012v2M154 1007v2M462 1001v2M779 1006v2M270 1003v2M820 1001v2M148 1008v2M354 1003v2M532 1014v2M282 1005v2M796 1008v2M800 1010v2M880 1004v2M216 1000v2M636 1012v2M290 1004v2M576 1016v2M926 1005v2M818 1000v2M660 1019v2M296 1000v2M814 1002v2M454 999v2M758 1011v2M424 1008v2M182 1006v2M128 997v2M396 1020v2M138 1013v2M206 1019v2M429 1001v2M678 998v2M424 1005v2M902 1017v2M685 1005v2M732 1019v2M358 1010v2M690 1004v2M900 1015v2M856 1009v2M548 1007v2M342 1008v2M598 1004v2M176 1010v2M128 1013v2M534 1020v2M301 1001v2M754 1016v2M750 1002v2M644 1008v2M136 1000v2M314 1006v2M190 1006v2M228 1009v2M362 998v2M917 1010v2M494 1002v2M790 1002v2M152 1000v2M840 999v2M908 1014v2M496 1001v2M674 1011v2M630 1021v2M386 1003v2M914 999v2M660 1013v2M294 1000v2M887 1006v2M206 1016v2M608 1019v2M728 1007v2M126 1002v2M556 1005v2M306 1003v2M861 1000v2M138 998v2M908 1009v2M548 1011v2M562 1002v2M497 998v2M658 999v2M228 1019v2M714 999v2M830 1000v2M380 1012v2M298 1003v2M404 1004v2M650 1011v2M868 997v2M246 1009v2M522 1019v2M520 1000v2M469 1018v2M714 1011v2M398 1003v2M566 1010v2M760 998v2M636 1011v2M514 1017v2M407 1020v2M814 998v2M268 1016v2M696 1005v2M714 999v2M699 1002v2M534 1002v2M353 1005v2M218 1008v2M198 1001v2M622 1008v2M762 1004v2M794 1013v2M502 1011v2M690 1004v2M890 1008v2M152 1010v2M508 1014v2M424 1004v2M144 1018v2M478 1013v2M888 1012v2M541 998v2M350 1019v2M292 1006v2M296 1013v2M810 1008v2M682 1013v2M890 1008v2M594 1005v2M411 1001v2M864 1003v2M532 1010v2M331 999v2M844 997v2M454 1009v2M412 1001v2M596 1008v2M901 1010v2M168 1013v2M398 1007v2M470 1019v2M516 1016v2M380 1003v2M798 1002v2M179 1000v2M447 1012v2M308 1014v2M880 1008v2M679 1012v2M850 1011v2M674 1005v2M836 1013v2M640 999v2M579 1003v2M442 1005v2M528 1012v2M374 1013v2M210 1002v2M258 1014v2M782 998v2M434 1002v2M788 1018v2M282 1018v2M262 1004v2M344 1003v2M402 1001v2M698 1013v2M622 1000v2M428 1006v2M898 1010v2M467 1000v2M576 1018v2M297 1004v2M210 1005v2M342 998v2M622 999v2M848 1011v2M524 1003v2M566 1000v2M910 1005v2M642 1012v2M129 1019v2M385 1018v2M446 1003v2M652 1011v2M842 1007v2M478 1002v2M402 1003v2M384 1019v2M502 1013v2M520 998v2" stroke="#b53934" stroke-width="3.4" stroke-linecap="round" fill="none"/>
<path transform="scale(.5)" d="M760 993v2M414 994v2M236 996v2M651 964v2M790 991v2M576 961v2M192 993v2M784 984v2M878 962v2M342 988v2M202 988v2M478 973v2M424 995v2M368 976v2M642 984v2M700 995v2M332 961v2M276 988v2M786 992v2M714 975v2M336 985v2M374 980v2M312 966v2M344 975v2M166 974v2M274 965v2M526 974v2M672 966v2M309 970v2M307 990v2M886 974v2M281 962v2M620 991v2M246 963v2M472 980v2M620 978v2M286 966v2M320 969v2M380 962v2M850 994v2M734 960v2M282 973v2M600 969v2M282 988v2M428 997v2M452 965v2M706 969v2M310 965v2M819 967v2M382 986v2M142 968v2M170 986v2M396 990v2M524 967v2M410 984v2M730 966v2M332 968v2M768 992v2M548 960v2M610 962v2M898 969v2M180 965v2M244 964v2M640 990v2M182 994v2M314 969v2M820 996v2M478 986v2M813 996v2M338 980v2M688 965v2M444 966v2M396 986v2M508 963v2M645 979v2M814 974v2M696 967v2M172 983v2M762 984v2M186 960v2M766 961v2M322 983v2M792 987v2M398 989v2M222 966v2M204 988v2M410 965v2M372 995v2M689 976v2M406 983v2M539 968v2M240 982v2M524 993v2M288 996v2M564 996v2M816 966v2M786 982v2M626 985v2M896 978v2M526 978v2M522 985v2M464 972v2M488 975v2M652 978v2M182 966v2M580 970v2M480 964v2M718 986v2M230 979v2M352 990v2M246 985v2M532 988v2M360 989v2M735 959v2M274 967v2M632 977v2M266 961v2M447 992v2M376 971v2M499 970v2M442 968v2M238 981v2M646 996v2M478 966v2M694 964v2M910 991v2M496 976v2M518 982v2M400 964v2M334 990v2M906 961v2M516 991v2M904 997v2M738 970v2M744 960v2M635 997v2M252 960v2M540 959v2M126 964v2M798 983v2M778 983v2M726 961v2M822 985v2M892 965v2M614 972v2M876 981v2M244 969v2M174 983v2M596 967v2M784 971v2M554 991v2M232 964v2M412 979v2M736 989v2M586 972v2M558 993v2M392 982v2M222 965v2M142 993v2M316 969v2M874 970v2M654 985v2M144 984v2M168 990v2M378 960v2M718 960v2M304 974v2M390 968v2M440 972v2M718 962v2M618 994v2M856 972v2M338 967v2M366 978v2M496 969v2M744 980v2M490 970v2M848 993v2M726 991v2M696 975v2M196 996v2M464 991v2M264 962v2M798 976v2M133 966v2M922 985v2M328 994v2M196 975v2M446 971v2M235 968v2M618 978v2M908 968v2M336 995v2M346 961v2M172 987v2M638 977v2M820 978v2M482 991v2M380 968v2M604 982v2M238 985v2M678 977v2M576 971v2M250 988v2M754 990v2M448 963v2M552 986v2M786 985v2M790 991v2M738 974v2M878 976v2M540 963v2M606 991v2M350 978v2M370 965v2M402 981v2M834 961v2M372 963v2M890 962v2M132 968v2M926 985v2M610 993v2M930 992v2M158 967v2M288 996v2M814 965v2M374 993v2M776 979v2M464 971v2M820 972v2M176 991v2M334 961v2M142 990v2M692 979v2M402 972v2M542 967v2M736 967v2M172 976v2M626 984v2M722 993v2M748 978v2M274 983v2M274 996v2M200 968v2M860 966v2M416 966v2M396 962v2M320 974v2M646 993v2M328 967v2M379 965v2M714 960v2M732 984v2M434 980v2M428 979v2M673 968v2M858 994v2M396 961v2M376 972v2M506 984v2M672 983v2M802 962v2M182 967v2M634 983v2M372 964v2M536 977v2M696 975v2M701 965v2M851 963v2M516 961v2M248 980v2M780 961v2M726 996v2M274 991v2M361 973v2M608 968v2M888 990v2M380 978v2M507 985v2M366 961v2M752 978v2M386 976v2M650 960v2M816 987v2M870 962v2M172 971v2M642 964v2M282 974v2M886 959v2M672 970v2M366 987v2M154 960v2M506 984v2M878 972v2M760 992v2M430 978v2M634 963v2M500 973v2M180 995v2M494 969v2M262 993v2M502 983v2M512 973v2M598 996v2M506 986v2M264 979v2M174 973v2M640 983v2M232 993v2M826 962v2M490 976v2M252 961v2M700 960v2M434 963v2M636 988v2M756 963v2M226 988v2M636 996v2M216 968v2M404 963v2M136 973v2M824 960v2M790 985v2M402 975v2M186 980v2M658 966v2M454 981v2M414 964v2M802 971v2M794 966v2M606 995v2M648 979v2M410 965v2M270 970v2M420 968v2M930 986v2M230 985v2M754 978v2M246 980v2M254 960v2M900 972v2M310 985v2M865 981v2M246 960v2M306 982v2M332 985v2M410 984v2M512 991v2M718 993v2M794 986v2M586 971v2M558 967v2M520 968v2M394 990v2M844 993v2M598 961v2M626 990v2M620 973v2M622 984v2M608 976v2M178 986v2M684 989v2M206 970v2M384 960v2M645 983v2M180 967v2M350 977v2M706 961v2M798 994v2M264 980v2M348 983v2M288 968v2M718 961v2M270 986v2M494 962v2M602 960v2M872 990v2M622 977v2M226 967v2M828 991v2M400 975v2M226 997v2M186 963v2M372 995v2M930 961v2M882 994v2M342 966v2M594 974v2M186 988v2M442 968v2M674 967v2M880 993v2M192 977v2M800 991v2M650 981v2M518 969v2M698 989v2M898 982v2M744 979v2M208 966v2M758 962v2M727 964v2M444 987v2M730 977v2M298 993v2M668 986v2M168 995v2M394 990v2M482 985v2M408 983v2M414 968v2M802 975v2M410 960v2M404 968v2M174 990v2M411 981v2M546 962v2M840 984v2M835 962v2M276 961v2M440 995v2M274 980v2M685 960v2M610 991v2M206 972v2M688 965v2M370 981v2M328 974v2M654 990v2M668 963v2M532 984v2M908 966v2M782 982v2M296 966v2M352 974v2M532 973v2M640 968v2M576 996v2M864 971v2M508 965v2M144 983v2M530 966v2M224 970v2M414 993v2M642 990v2M518 975v2M724 972v2M170 969v2M800 967v2M382 983v2M604 982v2M640 974v2M704 970v2M576 991v2M507 974v2M788 991v2M142 997v2M900 968v2M698 988v2M470 971v2M812 968v2M646 987v2M230 988v2M501 990v2M682 970v2M392 961v2M698 981v2M566 972v2M190 992v2M796 997v2M368 978v2M681 992v2M756 993v2M646 973v2M652 984v2M132 979v2M486 991v2M684 977v2M519 976v2M716 976v2M754 980v2M588 961v2M288 992v2M734 976v2M624 990v2M617 970v2M456 983v2M874 994v2M466 978v2M728 965v2M882 976v2M426 985v2M814 960v2M642 985v2M928 966v2M271 982v2M768 991v2M138 981v2M340 970v2M598 969v2M354 989v2M443 997v2M208 968v2M362 985v2M406 963v2M534 973v2M616 974v2M836 996v2M554 977v2M653 966v2M374 963v2M206 989v2M760 971v2M324 993v2M585 967v2M180 980v2M716 985v2M298 984v2M218 968v2M732 990v2M407 988v2M544 988v2M486 961v2M732 975v2M684 961v2M924 964v2M700 977v2M372 975v2M298 963v2M793 983v2M204 960v2M244 975v2M894 994v2M828 968v2M458 974v2M358 964v2M312 986v2M564 993v2M228 965v2M728 985v2M336 978v2M836 982v2M284 968v2M911 969v2M516 964v2M236 989v2M482 973v2M802 981v2M342 991v2M140 964v2M647 962v2M721 976v2M538 960v2M156 993v2M340 975v2M145 995v2M443 983v2M834 984v2M613 981v2M768 965v2M516 995v2M822 964v2M436 989v2M508 971v2M152 978v2M418 979v2M402 969v2M370 995v2M826 988v2M217 977v2M202 988v2M265 966v2M338 989v2M566 962v2M797 985v2M762 964v2M678 988v2M360 980v2M830 972v2M624 967v2M374 992v2M440 996v2M327 983v2M374 964v2M648 977v2M706 965v2M240 989v2M142 987v2M458 994v2M666 980v2M777 972v2M310 981v2M736 995v2M152 975v2M296 976v2M188 986v2M663 982v2M170 994v2M360 959v2M598 983v2M234 963v2M788 982v2M284 964v2M364 980v2M752 963v2M794 980v2M606 994v2M794 990v2M464 992v2M448 971v2M678 966v2M440 993v2M638 960v2M490 962v2M472 990v2M768 987v2M364 979v2M860 965v2M628 994v2M146 987v2M382 960v2M151 980v2M168 988v2M868 970v2M580 974v2M230 966v2M714 965v2M532 964v2M332 974v2M532 967v2M596 982v2M745 971v2M890 975v2M552 982v2M792 991v2M676 983v2M662 982v2M634 964v2M304 996v2M654 989v2M666 963v2M590 972v2M860 993v2M412 992v2M596 969v2M450 978v2M282 970v2M364 964v2M928 962v2M186 965v2M444 961v2M428 980v2M366 965v2M362 963v2M364 960v2M578 987v2M612 980v2M362 972v2M400 964v2M426 972v2M678 973v2M222 980v2M606 996v2M470 976v2M378 984v2M862 994v2M589 960v2M208 993v2M756 980v2M896 983v2M150 997v2M286 964v2M382 975v2M234 972v2M668 974v2M443 984v2M454 975v2M276 960v2M176 988v2M488 968v2M794 979v2M672 995v2M330 993v2M540 996v2M404 963v2M559 966v2M610 978v2M481 978v2M646 967v2M168 984v2M166 991v2M728 986v2M814 980v2M646 967v2M684 965v2M602 974v2M704 983v2M544 984v2M472 965v2M908 982v2M852 997v2M630 986v2M929 983v2M782 960v2M338 993v2M694 995v2M472 960v2M224 960v2M682 988v2M509 975v2M230 971v2M544 967v2M600 965v2M618 970v2M792 966v2M718 990v2M330 966v2M524 967v2M390 980v2M408 963v2M506 961v2M254 977v2M308 986v2M884 972v2M328 989v2M886 979v2M366 974v2M716 994v2M604 986v2M366 963v2M728 985v2M880 988v2M528 996v2M920 973v2M664 987v2M609 986v2M624 966v2M764 979v2M302 962v2M634 980v2M916 993v2M290 960v2M463 980v2M440 991v2M908 988v2M447 979v2M859 969v2M632 969v2M242 988v2M202 964v2M702 978v2M640 973v2M362 988v2M556 970v2M532 961v2M223 964v2M546 974v2M556 968v2M262 966v2M410 980v2M314 969v2M700 975v2M406 990v2M680 961v2M666 971v2M886 970v2M834 972v2M196 969v2M848 963v2M814 975v2M418 995v2M912 960v2M362 961v2M470 972v2M148 964v2M260 993v2M434 966v2M456 977v2M364 993v2M296 963v2M732 979v2M704 980v2M892 969v2M674 962v2M511 979v2M794 982v2M401 960v2M322 990v2M682 981v2M454 984v2M760 970v2M778 961v2M464 988v2M554 997v2M210 984v2M352 977v2M136 984v2M246 974v2M212 989v2M632 992v2M370 992v2M146 990v2M486 975v2M870 986v2M234 960v2M186 974v2M548 977v2M336 972v2M384 980v2M910 965v2M682 989v2M668 969v2M640 963v2M726 975v2M420 994v2M448 960v2M554 961v2M548 995v2" stroke="#c5312b" stroke-width="3.4" stroke-linecap="round" fill="none"/>
<path transform="scale(.5)" d="M474 982v2M662 968v2M301 985v2M726 965v2M506 966v2M272 986v2M514 965v2M166 980v2M198 986v2M438 967v2M442 964v2M424 988v2M594 967v2M169 984v2M508 978v2M510 961v2M590 965v2M424 986v2M872 966v2M680 978v2M580 987v2M874 964v2M494 986v2M384 996v2M129 987v2M154 975v2M866 966v2M800 961v2M828 993v2M444 968v2M454 969v2M558 976v2M786 995v2M738 980v2M734 989v2M655 967v2M712 962v2M824 991v2M832 960v2M726 983v2M689 985v2M904 995v2M868 987v2M580 968v2M458 997v2M354 982v2M186 962v2M594 989v2M758 983v2M510 974v2M700 962v2M690 997v2M174 989v2M326 972v2M592 962v2M286 978v2M448 993v2M348 967v2M458 964v2M340 968v2M871 985v2M856 993v2M512 996v2M328 980v2M582 964v2M378 973v2M291 988v2M723 984v2M376 987v2M140 977v2M216 977v2M202 997v2M758 984v2M260 981v2M250 974v2M818 971v2M204 982v2M224 973v2M794 961v2M862 977v2M222 960v2M134 970v2M466 960v2M210 994v2M322 981v2M830 966v2M620 963v2M424 969v2M158 972v2M476 974v2M274 975v2M458 968v2M694 970v2M666 985v2M778 960v2M788 966v2M330 972v2M890 974v2M404 990v2M584 964v2M680 963v2M488 995v2M362 973v2M646 977v2M424 985v2M738 971v2M900 989v2M904 981v2M542 961v2M190 964v2M564 969v2M482 962v2M704 960v2M272 996v2M734 991v2M210 991v2M754 969v2M530 966v2M484 978v2M550 985v2M558 995v2M186 984v2M878 994v2M602 962v2M354 987v2M862 981v2M432 978v2M166 979v2M399 983v2M302 966v2M718 965v2M370 980v2M190 968v2M696 960v2M222 982v2M294 966v2M529 963v2M548 961v2M300 984v2M260 970v2M253 994v2M644 977v2M371 975v2M444 961v2M718 973v2M752 978v2M764 960v2M880 992v2M436 964v2M544 968v2M764 969v2M168 994v2M896 966v2M722 984v2M266 965v2M258 983v2M880 984v2M456 977v2M394 990v2M712 990v2M876 980v2M864 977v2M758 995v2M704 986v2M578 966v2M584 985v2M386 969v2M517 977v2M184 979v2M777 964v2M588 970v2M652 960v2M720 993v2M202 987v2M424 994v2M526 985v2M272 984v2M690 981v2M456 967v2M850 992v2M266 987v2M376 960v2M586 964v2M324 983v2M428 992v2M650 962v2M873 991v2M862 969v2M712 990v2M581 978v2M148 987v2M752 967v2M228 980v2M144 985v2M680 969v2M301 978v2M344 990v2M602 968v2M664 986v2M278 967v2M310 995v2M272 980v2M440 971v2M672 984v2M720 977v2M930 995v2M266 992v2M298 960v2M862 973v2M492 974v2M468 972v2M412 990v2M214 988v2M688 972v2M132 970v2M676 975v2M610 986v2M424 993v2M300 964v2M640 977v2M260 985v2M321 961v2M720 967v2M798 975v2M348 971v2M782 992v2M200 989v2M720 969v2M142 990v2M320 978v2M216 997v2M326 961v2M628 966v2M130 971v2M556 969v2M528 981v2M852 983v2M432 980v2M822 978v2M690 960v2M758 985v2M140 997v2M290 973v2M580 981v2M445 978v2M504 985v2M694 965v2M624 994v2M699 989v2M814 965v2M322 962v2M824 981v2M920 976v2M384 960v2M428 967v2M543 983v2M279 964v2M316 977v2M794 977v2M492 969v2M648 963v2M250 992v2M620 961v2M544 979v2M442 995v2M232 978v2M496 961v2M870 977v2M466 985v2M536 976v2M824 992v2M734 971v2M398 963v2M788 963v2M266 990v2M502 990v2M356 970v2M670 979v2M876 966v2M910 992v2M481 987v2M458 971v2M446 989v2M664 989v2M542 961v2M154 977v2M857 989v2M442 972v2M654 984v2M167 967v2M344 992v2M278 985v2M720 964v2M778 967v2M403 967v2M818 995v2M705 967v2M602 971v2M544 977v2M303 996v2M230 973v2M700 978v2M583 962v2M923 984v2M398 983v2M166 974v2M876 993v2M464 986v2M758 989v2M438 963v2M788 971v2M656 966v2M820 975v2M716 967v2M366 983v2M222 989v2M270 993v2M304 985v2M432 960v2M928 971v2M382 975v2M888 986v2M528 964v2M604 978v2M326 976v2M552 964v2M786 972v2M196 968v2M374 962v2M355 961v2M210 975v2M666 966v2M492 967v2M352 977v2M514 968v2M246 991v2M536 976v2M496 984v2M676 978v2M524 964v2M394 989v2M361 962v2M610 983v2M823 995v2M294 980v2M196 997v2M874 962v2M236 965v2M374 983v2M818 993v2M304 974v2M868 969v2M562 982v2M866 993v2M620 986v2M832 964v2M514 976v2M826 963v2M862 968v2M384 973v2M858 962v2M282 961v2M746 994v2M310 986v2M820 994v2M243 980v2M224 993v2M616 960v2M140 973v2M518 965v2M236 968v2M734 965v2M746 987v2M514 966v2M532 977v2M846 987v2M358 968v2M140 979v2M345 966v2M362 975v2M500 989v2M684 974v2M224 980v2M876 964v2M280 971v2M455 960v2M852 988v2M698 978v2M558 981v2M416 961v2M764 978v2M202 980v2M680 964v2M826 994v2M280 986v2M865 966v2M628 966v2M334 988v2M488 975v2M688 972v2M201 972v2M750 977v2M318 984v2M152 969v2M900 977v2M346 993v2M284 968v2M184 968v2M352 990v2M130 960v2M394 970v2M603 980v2M694 990v2M382 975v2M370 968v2M214 978v2M376 970v2M875 992v2M912 977v2M314 976v2M802 968v2M921 976v2M592 989v2M884 967v2M474 962v2M460 961v2M862 976v2M321 976v2M752 980v2M294 967v2M480 962v2M458 978v2M793 992v2M254 990v2M256 986v2M432 971v2M706 965v2M388 963v2M844 970v2M544 965v2M481 962v2M656 962v2M431 989v2M890 970v2M356 995v2M306 967v2M872 983v2M260 980v2M266 986v2M833 988v2M416 979v2M830 966v2M186 970v2" stroke="#5275b5" stroke-width="3.4" stroke-linecap="round" fill="none"/>
<path transform="scale(.5)" d="M876 951v2M208 956v2M260 935v2M200 950v2M278 956v2M558 955v2M812 953v2M764 937v2M616 949v2M786 944v2M768 950v2M426 944v2M192 936v2M544 942v2M383 947v2M292 947v2M371 945v2M596 943v2M397 947v2M776 958v2M460 938v2M276 942v2M888 940v2M896 951v2M206 946v2M474 950v2M135 947v2M354 956v2M878 948v2M590 935v2M329 954v2M312 955v2M330 942v2M382 959v2M680 941v2M528 956v2M868 957v2M301 955v2M316 936v2M832 941v2M688 937v2M294 947v2M764 957v2M182 941v2M763 944v2M642 945v2M696 946v2M842 955v2M324 945v2M222 949v2M334 954v2M757 939v2M843 937v2M424 955v2M384 952v2M522 941v2M250 943v2M660 951v2M652 940v2M706 946v2M484 956v2M140 941v2M459 946v2M458 943v2M458 951v2M226 954v2M358 938v2M776 958v2M854 954v2M694 955v2M924 941v2M256 958v2M884 952v2M592 936v2M220 935v2M838 945v2M482 939v2M726 936v2M827 956v2M442 943v2M328 958v2M650 953v2M546 958v2M646 955v2M767 941v2M210 954v2M448 958v2M132 950v2M582 941v2M360 944v2M692 949v2M248 943v2M836 947v2M224 939v2M802 948v2M250 956v2M196 934v2M858 949v2M202 947v2M698 946v2M782 952v2M194 943v2M540 935v2M698 943v2M854 948v2M449 954v2M790 952v2M926 935v2M410 958v2M612 951v2M726 941v2M326 935v2M720 958v2M174 957v2M292 952v2M244 943v2M588 935v2M304 940v2M207 938v2M356 938v2M762 944v2M409 944v2M438 936v2M206 949v2M638 937v2M644 941v2M672 937v2M788 954v2M528 942v2M636 944v2M222 954v2M468 941v2M382 956v2M374 958v2M548 951v2M186 943v2M548 955v2M618 934v2M812 943v2M197 944v2M756 952v2M584 936v2M922 940v2M316 957v2M790 937v2M376 958v2M796 945v2M527 949v2M360 936v2M908 949v2M620 944v2M530 948v2M786 941v2M816 941v2M854 954v2M474 950v2M782 954v2M370 941v2M588 945v2M530 937v2M474 954v2M320 944v2M724 942v2M516 945v2M462 946v2M442 949v2M528 935v2M858 944v2M562 945v2M324 951v2M692 952v2M676 938v2M536 934v2M602 954v2M170 947v2M558 954v2M878 936v2M784 942v2M428 943v2M442 956v2M328 947v2M584 943v2M208 940v2M812 943v2M738 936v2M138 946v2M840 934v2M618 936v2M272 938v2M758 950v2M874 959v2M346 938v2M462 936v2M506 943v2M780 938v2M318 939v2M128 948v2M426 935v2M267 948v2M928 935v2M382 957v2M314 947v2M302 938v2M864 956v2M128 943v2M420 955v2M238 941v2M850 934v2M373 941v2M484 957v2M218 944v2M432 939v2M278 943v2M292 957v2M258 938v2M702 947v2M633 947v2M442 935v2M456 959v2M462 935v2M398 954v2M818 951v2M862 934v2M230 951v2M897 946v2M278 941v2M818 944v2M792 947v2M484 946v2M404 946v2M470 955v2M342 951v2M391 937v2M920 951v2M439 947v2M316 956v2M910 937v2M298 937v2M692 947v2M408 944v2M818 956v2M468 958v2M556 941v2M876 956v2M394 945v2M324 939v2M232 958v2M514 950v2M752 940v2M780 952v2M924 936v2M536 946v2M466 950v2M826 950v2M392 951v2M562 959v2M838 951v2M722 940v2M694 937v2M269 941v2M868 954v2M354 942v2M479 944v2M874 958v2M559 940v2M752 947v2M488 957v2M930 949v2M800 947v2M236 936v2M924 951v2M314 941v2M696 936v2M652 956v2M185 950v2M885 943v2M506 948v2M329 947v2M892 938v2M202 953v2M214 941v2M796 942v2M582 954v2M848 954v2M726 953v2M712 943v2M426 949v2M648 944v2M272 935v2M736 953v2M842 953v2M184 949v2M358 940v2M266 940v2M910 943v2M424 936v2M130 944v2M606 958v2M228 958v2M323 935v2M578 946v2M310 938v2M220 947v2M692 937v2M241 942v2M662 958v2M432 938v2M850 941v2M924 937v2M140 952v2M263 937v2M838 957v2M747 944v2M526 948v2M602 958v2M347 951v2M746 958v2M814 949v2M924 954v2M800 940v2M462 946v2M430 943v2M402 951v2M322 942v2M468 934v2M828 956v2M292 958v2M706 954v2M562 938v2M738 947v2M752 938v2M272 938v2M324 938v2M510 949v2M324 957v2M326 942v2M358 949v2M737 941v2M664 950v2M668 943v2M550 958v2M920 958v2M268 944v2M316 950v2M130 949v2M857 939v2M396 944v2M716 943v2M750 939v2M492 956v2M424 943v2M784 956v2M746 950v2M128 947v2M190 950v2M834 953v2M906 946v2M316 939v2M330 953v2M294 952v2M152 945v2M166 940v2M454 944v2M852 947v2M622 937v2M388 947v2M430 959v2M166 945v2M444 938v2M864 936v2M836 957v2M610 944v2M318 954v2M626 939v2M930 946v2M132 950v2M636 935v2M828 939v2M520 956v2M528 956v2M872 955v2M586 938v2M794 958v2M662 953v2M532 936v2M712 958v2M412 954v2M622 935v2M279 935v2M320 944v2M456 955v2M234 948v2M858 944v2M508 941v2M834 936v2M628 935v2M526 955v2M544 951v2M871 934v2M579 944v2M820 959v2M700 947v2M844 947v2M920 937v2M828 935v2M924 937v2M746 953v2M321 935v2M488 955v2M404 944v2M212 944v2M404 934v2M588 945v2M510 948v2M394 955v2M494 941v2M328 955v2M602 957v2M531 934v2M854 934v2M278 942v2M619 944v2M392 934v2M581 948v2M680 953v2M330 934v2M314 935v2M840 957v2M486 937v2M474 952v2M556 947v2M558 939v2M494 938v2M198 944v2M866 939v2M602 949v2M790 954v2M362 935v2M586 942v2M351 939v2M788 951v2M496 959v2M208 959v2M370 935v2M358 959v2M536 949v2M486 943v2M736 949v2M256 941v2M368 942v2M755 950v2M582 952v2M238 954v2M662 953v2M200 934v2M194 939v2M846 944v2M298 934v2M268 957v2M183 943v2M888 946v2M137 948v2M578 945v2M488 944v2" stroke="#4e79c2" stroke-width="3.4" stroke-linecap="round" fill="none"/>
<path transform="scale(.5)" d="M338 939v2M688 942v2M230 945v2M412 945v2M266 938v2M878 940v2M192 943v2M254 949v2M870 953v2M134 943v2M792 938v2M698 937v2M630 943v2M158 943v2M726 954v2M647 942v2M436 940v2M864 952v2M208 943v2M668 951v2M256 947v2M562 941v2M322 939v2M408 947v2M640 943v2M146 939v2M668 955v2M258 955v2M272 956v2M418 944v2M913 959v2M216 944v2M134 955v2M816 936v2M342 956v2M302 935v2M490 957v2M156 939v2M744 942v2M290 936v2M664 956v2M762 943v2M691 946v2M430 936v2M218 941v2M878 952v2M332 953v2M230 935v2M520 946v2M922 953v2M490 935v2M688 946v2M894 938v2M454 953v2M756 947v2M626 952v2M724 947v2M152 943v2M494 936v2M260 944v2M630 958v2M358 938v2M316 945v2M304 949v2M696 939v2M586 943v2M600 951v2M654 943v2M202 943v2M688 938v2M301 958v2M688 944v2M736 956v2M296 954v2M362 940v2M340 948v2M336 936v2M814 935v2M178 937v2M516 945v2M234 947v2M410 954v2M552 936v2M658 946v2M282 949v2M612 937v2M283 953v2M782 949v2M344 942v2M636 949v2M782 938v2M324 948v2M622 942v2M508 943v2M264 941v2M912 944v2M866 950v2M620 942v2M804 956v2M698 937v2M640 951v2M286 955v2M880 950v2M350 949v2M830 941v2M628 955v2M262 958v2M130 956v2M566 959v2M334 937v2M826 950v2M802 953v2M608 954v2M704 941v2M402 939v2M402 955v2M498 941v2M142 957v2M488 958v2M874 950v2M177 940v2M358 941v2M406 941v2M597 940v2M172 952v2M686 952v2M356 946v2M698 944v2M235 938v2M552 940v2M638 948v2M242 941v2M848 947v2M468 959v2M606 942v2M576 934v2M850 948v2M702 954v2M736 942v2M899 945v2M782 957v2M186 939v2M754 942v2M850 949v2M310 947v2M582 953v2M876 943v2M374 947v2M492 953v2M474 942v2M618 952v2M480 950v2M290 938v2M478 949v2M296 940v2M912 951v2M766 940v2M264 957v2M852 936v2M232 952v2M485 945v2M302 949v2M576 951v2M348 945v2M364 935v2M546 936v2M855 957v2M460 943v2M364 944v2M548 958v2M380 937v2M828 955v2M564 951v2M760 938v2M882 936v2M836 934v2M586 949v2M285 958v2M236 936v2M461 955v2M506 944v2M496 945v2M888 936v2M923 938v2M540 946v2M642 953v2M776 952v2M814 950v2M290 951v2M731 944v2M688 950v2M288 947v2M234 946v2M696 948v2M648 949v2M390 956v2M166 943v2M798 959v2M338 950v2M468 940v2M402 958v2M900 949v2M900 950v2M766 957v2M686 952v2M880 944v2M389 946v2M364 954v2M724 944v2M322 950v2M560 936v2M546 937v2M910 943v2M583 937v2M138 939v2M368 957v2M184 946v2M858 955v2M328 950v2M830 959v2M886 940v2M650 950v2M158 958v2M170 940v2M486 951v2M208 958v2M240 940v2M579 937v2M638 959v2M637 936v2M388 938v2M920 958v2M610 957v2M646 944v2M178 945v2M704 956v2M644 941v2M892 946v2M356 949v2M532 955v2M174 942v2M746 949v2M606 947v2M594 949v2M454 944v2M226 953v2M446 956v2M868 937v2M305 958v2M756 937v2M460 959v2M486 939v2M394 948v2M242 949v2M151 946v2M464 950v2M494 952v2M145 955v2M853 956v2M290 937v2M868 949v2M540 959v2M412 946v2M802 939v2M590 941v2M220 951v2M228 943v2M618 940v2M512 958v2M680 935v2M478 936v2M542 957v2M712 934v2M646 950v2M148 944v2M676 946v2M334 951v2M842 936v2M262 955v2M640 941v2M290 952v2M354 941v2M406 942v2M651 944v2M734 936v2M736 943v2M566 944v2M596 939v2M534 938v2M794 935v2M714 952v2M476 953v2M450 941v2M776 936v2M154 947v2M564 945v2M912 943v2M920 935v2M852 936v2M928 936v2M488 945v2M284 938v2M334 946v2M662 942v2M184 940v2M303 943v2M174 950v2M314 952v2M198 937v2M752 955v2M554 940v2M452 956v2M548 953v2M534 947v2M652 949v2M534 957v2M340 948v2M452 953v2M348 956v2M606 934v2M171 957v2M224 954v2M688 954v2M478 952v2M866 943v2M198 938v2M730 951v2M590 937v2M615 936v2M790 955v2M704 935v2M594 940v2M490 939v2M836 947v2M640 955v2M266 947v2M602 935v2M888 950v2M846 934v2M242 943v2M154 957v2M304 939v2M400 942v2M500 945v2M158 940v2M258 956v2M248 942v2M373 945v2M438 935v2M889 953v2M361 940v2M800 935v2M454 938v2M510 951v2M372 938v2M776 948v2M850 935v2M542 948v2M786 949v2M638 951v2M780 946v2M466 946v2M514 943v2M370 935v2M718 936v2M218 942v2M594 957v2M754 950v2M154 949v2M724 938v2M646 939v2M422 951v2M242 945v2M240 941v2M718 940v2M754 945v2M754 938v2M870 938v2M476 957v2M524 953v2M224 935v2M788 939v2M854 947v2M908 940v2M614 940v2M422 945v2M238 957v2M766 935v2M503 959v2M136 952v2M840 942v2M542 957v2M152 952v2M476 944v2M657 959v2M888 934v2M619 955v2M195 954v2M304 951v2M244 942v2M218 949v2M724 952v2M150 950v2M756 946v2M172 940v2M216 937v2M818 954v2M610 939v2M554 954v2M876 951v2M778 944v2M178 945v2M682 953v2M310 951v2M418 958v2M416 940v2M794 948v2M268 954v2M738 956v2M299 946v2M176 953v2M276 946v2M204 945v2M216 952v2M906 943v2M652 937v2M832 942v2M880 946v2M564 944v2M650 935v2M720 947v2M194 957v2M666 950v2M396 935v2M126 943v2M198 941v2M256 948v2M707 941v2M306 950v2M546 950v2M342 956v2M624 936v2M474 955v2M666 952v2M886 940v2M632 935v2M234 945v2M418 937v2M392 954v2M244 943v2M178 935v2M504 948v2M186 949v2M438 939v2M242 958v2M846 947v2M664 942v2M264 938v2M175 937v2M508 945v2M906 959v2M748 943v2M840 959v2M286 935v2M874 941v2M794 949v2M422 948v2M414 954v2M828 948v2M466 938v2M206 944v2M374 947v2M433 956v2M737 940v2M658 947v2M180 949v2M804 935v2M262 956v2M560 948v2M894 938v2M678 953v2M148 954v2M688 942v2M412 954v2M464 948v2M604 959v2M310 937v2M294 940v2M680 938v2M262 954v2M698 940v2M816 946v2M168 946v2M520 958v2M920 948v2M674 953v2M836 939v2M830 955v2M780 937v2M441 948v2M898 940v2M378 941v2M584 958v2M906 958v2M298 949v2M686 943v2M666 959v2M147 940v2M244 949v2M478 942v2M621 959v2M402 957v2M640 935v2M823 947v2M298 936v2M340 947v2M292 940v2M840 959v2M674 936v2M776 951v2M350 945v2M750 954v2M432 955v2M170 955v2M488 951v2M470 940v2M180 938v2M126 947v2M390 950v2M126 946v2M446 940v2M412 954v2M392 956v2M204 951v2M168 949v2M415 937v2M849 941v2M130 955v2M302 949v2M545 946v2M196 952v2M634 948v2M180 938v2M564 948v2M370 941v2M358 952v2M664 956v2M232 936v2M444 944v2M200 941v2M462 939v2M674 942v2M338 935v2M380 957v2M304 948v2M656 953v2M506 948v2M612 955v2M604 956v2M792 957v2M195 945v2M410 940v2M208 950v2M388 944v2M498 952v2M898 935v2M138 952v2M721 942v2M434 952v2M326 959v2M626 940v2M358 947v2M132 959v2M718 938v2M360 944v2M218 956v2M242 947v2M816 948v2M356 935v2M426 954v2M654 935v2M849 943v2M256 953v2M234 941v2M814 955v2M156 949v2M320 937v2M172 950v2M766 953v2M402 947v2M730 939v2M926 940v2M752 959v2M604 936v2M820 938v2M504 957v2M430 951v2M824 936v2M252 955v2M174 937v2M750 936v2M370 936v2M338 957v2M852 947v2M524 936v2M898 938v2M174 939v2M756 956v2M182 942v2M674 953v2M648 951v2M688 943v2M412 947v2M172 954v2M900 959v2M432 950v2M834 952v2M738 948v2M175 958v2M843 936v2M856 954v2M242 937v2M497 955v2M156 942v2M274 958v2M520 948v2M498 947v2M426 943v2M906 945v2M686 943v2M246 942v2M426 945v2M390 938v2M392 954v2M416 943v2M228 946v2M388 955v2M630 940v2M342 946v2M768 955v2M688 950v2M672 940v2M638 951v2M388 936v2M842 949v2M600 935v2M498 954v2M894 948v2M308 939v2M870 943v2M448 952v2M450 948v2M196 954v2M438 948v2M446 945v2M444 941v2M727 937v2M790 935v2M306 936v2M462 940v2M882 945v2M720 950v2M596 955v2M878 937v2M460 937v2M538 935v2M900 952v2M790 940v2M400 951v2M618 954v2M368 949v2M656 937v2M576 935v2M512 936v2M140 959v2M524 959v2M460 946v2M732 956v2M332 945v2M170 951v2M516 936v2M226 953v2M792 946v2M648 952v2M888 936v2M512 936v2M396 958v2M262 949v2M490 952v2M466 938v2M678 941v2M418 939v2M660 950v2M182 947v2M264 953v2M452 951v2M794 944v2M436 947v2M749 937v2M746 959v2M391 950v2M178 957v2M175 944v2M788 949v2M913 954v2M880 946v2M899 959v2M264 950v2M433 936v2M516 952v2M344 935v2M214 946v2M482 948v2M486 939v2M762 938v2M205 950v2M320 954v2M174 952v2M799 947v2M220 936v2M596 950v2M830 938v2M746 948v2M594 958v2M296 937v2M357 950v2M922 947v2M381 945v2M328 952v2M588 939v2M260 946v2M888 952v2M256 942v2M678 942v2M298 949v2M828 946v2M350 957v2M154 949v2M768 943v2M341 937v2M608 950v2M218 947v2M392 946v2M682 953v2M380 953v2M430 954v2M302 938v2M626 954v2M152 942v2M396 946v2M592 950v2M605 950v2M838 940v2M242 956v2M826 939v2M748 949v2M312 948v2M836 941v2M556 948v2M346 942v2M208 957v2M208 938v2M744 947v2M822 958v2M882 954v2M446 955v2M408 949v2M640 958v2M392 948v2M316 952v2M209 940v2M832 953v2M374 958v2M352 941v2M234 942v2M868 940v2M179 939v2M383 936v2M850 940v2M298 954v2M880 948v2M434 952v2M494 945v2M890 941v2M554 954v2M499 957v2M136 951v2M378 950v2M738 958v2M152 948v2M609 952v2M822 943v2M704 944v2M232 942v2M582 944v2M658 945v2M136 943v2M240 941v2M798 934v2M738 954v2M842 949v2M844 955v2M882 940v2M658 936v2M830 937v2M438 958v2M557 936v2M663 951v2M842 959v2M370 940v2M309 943v2M764 946v2M546 949v2M685 938v2M350 948v2M294 957v2M177 936v2M158 945v2M298 951v2M668 948v2M486 945v2M540 958v2M536 946v2M420 936v2M336 943v2M694 958v2M418 943v2M416 949v2M658 948v2M380 940v2M170 949v2M664 938v2M158 956v2M150 937v2M358 949v2M717 956v2M894 936v2M398 956v2M517 941v2M460 945v2M702 936v2M602 951v2M498 947v2M478 955v2M378 948v2M386 959v2M812 936v2M689 939v2M158 952v2M910 952v2M870 944v2M197 941v2M510 953v2M884 936v2M926 935v2M223 956v2M314 953v2M328 943v2M842 936v2M470 949v2M716 942v2M146 947v2M334 959v2M244 939v2M470 957v2M611 944v2M490 940v2M778 953v2M351 945v2M356 940v2M842 957v2M662 939v2M440 940v2M188 936v2M346 950v2M482 956v2M408 945v2M420 945v2M194 937v2M312 939v2M254 948v2M834 951v2M660 950v2M520 937v2M746 939v2M778 938v2M440 941v2M126 938v2M414 949v2M474 938v2M860 938v2M256 937v2M511 939v2M703 952v2M367 946v2M784 943v2M748 945v2M131 956v2M816 957v2M688 943v2M498 946v2M508 941v2M440 958v2M240 956v2M394 949v2M270 941v2M416 943v2M594 942v2M406 953v2M230 958v2M649 952v2M630 947v2M491 937v2M728 940v2M552 955v2" stroke="#d52a22" stroke-width="3.4" stroke-linecap="round" fill="none"/>
<path transform="scale(.5)" d="M928 910v2M306 925v2M354 920v2M466 914v2M348 924v2M490 911v2M316 925v2M818 927v2M347 931v2M496 917v2M238 914v2M274 926v2M168 930v2M698 930v2M812 921v2M608 930v2M134 922v2M546 932v2M406 914v2M898 923v2M502 914v2M127 923v2M613 923v2M804 924v2M504 911v2M764 917v2M668 929v2M338 922v2M176 911v2M334 929v2M636 932v2M354 929v2M849 931v2M854 924v2M642 925v2M638 923v2M662 928v2M726 928v2M214 919v2M584 913v2M725 932v2M794 929v2M480 927v2M400 916v2M166 925v2M920 928v2M326 932v2M268 911v2M660 931v2M187 933v2M174 920v2M172 927v2M852 912v2M592 926v2M728 919v2M765 912v2M353 911v2M892 929v2M900 919v2M526 915v2M302 929v2M399 919v2M206 929v2M338 920v2M851 928v2M616 930v2M550 918v2M146 933v2M561 911v2M144 912v2M172 911v2M524 930v2M844 930v2M478 919v2M899 914v2M274 918v2M554 914v2M930 932v2M294 923v2M748 927v2M318 911v2M389 928v2M598 920v2M218 926v2M316 933v2M890 920v2M718 920v2M338 913v2M366 925v2M246 929v2M926 931v2M454 921v2M728 918v2M554 928v2M656 927v2M467 915v2M848 916v2M798 912v2M490 930v2M670 928v2M166 921v2M208 931v2M620 922v2M346 927v2M600 911v2M438 931v2M882 930v2M476 916v2M635 925v2M364 934v2M750 920v2M880 934v2M780 911v2M712 911v2M802 924v2M467 911v2M166 918v2M576 928v2M460 918v2M692 924v2M435 923v2M173 918v2M246 925v2M730 912v2M882 914v2M479 922v2M600 916v2M292 918v2M380 918v2M702 918v2M234 914v2M300 932v2M340 912v2M798 912v2M694 933v2M150 919v2M714 921v2M828 921v2M196 912v2M820 922v2M360 919v2M358 928v2M913 922v2M316 909v2M768 913v2M736 911v2M169 911v2M230 932v2M732 925v2M128 925v2M228 923v2M246 916v2M422 910v2M625 918v2M756 922v2M746 921v2M274 930v2M374 912v2M610 911v2M410 929v2M502 925v2M858 924v2M154 915v2M603 925v2M350 932v2M464 918v2M676 927v2M700 923v2M642 922v2M646 917v2M324 917v2M262 909v2M501 934v2M718 929v2M897 927v2M894 913v2M510 923v2M746 913v2M534 912v2M640 916v2M372 921v2M498 931v2M702 914v2M678 912v2M592 915v2M670 920v2M664 913v2M700 918v2M418 920v2M490 929v2M426 921v2M907 933v2M446 909v2M550 930v2M446 913v2M240 923v2M176 910v2M324 910v2M589 925v2M524 914v2M414 920v2M780 912v2M912 915v2M722 914v2M402 921v2M504 932v2M220 932v2M452 909v2M474 931v2M500 919v2M552 929v2M730 930v2M626 934v2M190 926v2M372 916v2M191 912v2M154 924v2M254 924v2M630 923v2M792 914v2M668 924v2M382 922v2M776 923v2M732 920v2M834 916v2M460 929v2M602 929v2M632 917v2M184 927v2M336 921v2M776 915v2M616 912v2M408 910v2M214 914v2M232 927v2M576 918v2M690 923v2M864 933v2M820 913v2M132 921v2M158 933v2M622 931v2M152 920v2M188 913v2M168 916v2M874 932v2M295 927v2M356 933v2M132 913v2M200 923v2M640 920v2M418 931v2M638 921v2M596 925v2M406 918v2M866 922v2M516 912v2M908 910v2M292 915v2M276 920v2M428 934v2M816 922v2M332 934v2M604 914v2M674 917v2M502 923v2M414 915v2M374 917v2M348 926v2M760 913v2M836 925v2M252 932v2M418 920v2M200 924v2M299 928v2M816 919v2M512 931v2M508 913v2M266 931v2M530 926v2M238 929v2M846 923v2M336 916v2M477 926v2M650 915v2M480 931v2M334 918v2M400 920v2M282 926v2M760 928v2M630 917v2M410 934v2M622 933v2M296 920v2M668 930v2M545 925v2M276 912v2M718 933v2M874 911v2M490 933v2M898 920v2M248 922v2M697 931v2M276 921v2M840 933v2M583 910v2M632 933v2M540 914v2M766 925v2M468 927v2M380 914v2M767 919v2M198 934v2M857 915v2M576 929v2M780 931v2M466 917v2M852 912v2M288 925v2M258 918v2M422 927v2M896 918v2M288 916v2M654 927v2M562 914v2M508 932v2M266 926v2M922 913v2M804 915v2M784 918v2M458 928v2M148 909v2M430 927v2M778 929v2M860 923v2M236 911v2M433 911v2M641 921v2M774 925v2M512 931v2M288 917v2M600 920v2M657 932v2M394 930v2M766 917v2M176 919v2M812 912v2M614 930v2M336 919v2M848 932v2M404 917v2M262 929v2M146 910v2M670 920v2M414 915v2M575 929v2M194 922v2M148 917v2M291 920v2M480 929v2M511 927v2M588 929v2M424 912v2M255 926v2M654 914v2M674 922v2M696 921v2M644 926v2M420 926v2M614 926v2M144 920v2M746 923v2M924 931v2M641 932v2M738 929v2M706 917v2M262 909v2M322 915v2M702 921v2M548 922v2M321 910v2M666 928v2M540 932v2M340 919v2M176 919v2M174 920v2M298 924v2M814 932v2M464 931v2M253 919v2M340 913v2M566 914v2M310 912v2M524 920v2M228 918v2M790 911v2M930 910v2M894 922v2M290 931v2M326 919v2M358 912v2M188 919v2M326 918v2M180 922v2M505 909v2M370 912v2M420 911v2M498 934v2M312 914v2M172 933v2M888 914v2M632 921v2M436 910v2M430 928v2M638 915v2M655 923v2M657 927v2M724 910v2M888 911v2M341 928v2M326 919v2M136 919v2M534 927v2M152 926v2M490 925v2M242 916v2M914 918v2M426 927v2M410 926v2M754 909v2M362 926v2M636 918v2M534 934v2M664 929v2M640 915v2M842 934v2M242 921v2M668 912v2M490 931v2M346 928v2M296 931v2M738 911v2M320 929v2M558 934v2M350 912v2M652 910v2M176 926v2M228 914v2M208 929v2M398 929v2M244 910v2M760 912v2M744 922v2M490 915v2M180 911v2M394 922v2M136 929v2M472 926v2M270 917v2M516 911v2M587 912v2M172 916v2M542 931v2M876 920v2M391 924v2M792 917v2M638 921v2M266 910v2M874 911v2M212 911v2M178 924v2M158 923v2M646 916v2M676 926v2M864 915v2M266 910v2M548 909v2M894 928v2M176 928v2M448 927v2M288 920v2M520 911v2M272 913v2M888 930v2M386 914v2M364 927v2M658 925v2M524 924v2M326 933v2M446 909v2M756 911v2M282 922v2M218 912v2M452 915v2M386 917v2M554 910v2M408 913v2M394 914v2M340 925v2M730 923v2M804 924v2M340 915v2M762 932v2M549 927v2M380 923v2M566 932v2M408 922v2M424 909v2M240 921v2M242 915v2M520 926v2M254 920v2M464 922v2M204 929v2M488 921v2M616 920v2M718 917v2M326 921v2M310 933v2M626 920v2M442 929v2M798 913v2M334 925v2M478 911v2M346 918v2M403 928v2M780 921v2M748 919v2M396 932v2M278 928v2M184 925v2M267 917v2M410 924v2M418 912v2M403 917v2M846 930v2M576 924v2M406 929v2M419 927v2M198 919v2M364 918v2M226 913v2M516 916v2M730 923v2M298 917v2M514 921v2M444 911v2M624 924v2M166 927v2M560 923v2M682 910v2M856 911v2M920 926v2M755 911v2M144 916v2M654 930v2M830 916v2M468 918v2M636 912v2M724 915v2M344 921v2M768 921v2M276 921v2M854 917v2M246 911v2M610 909v2M652 917v2M446 917v2M576 932v2M189 916v2M490 919v2M416 909v2M436 916v2M636 912v2M672 909v2M294 914v2M376 912v2M538 933v2M350 924v2M346 915v2M620 922v2M138 928v2M394 933v2M720 933v2M840 917v2M230 925v2M532 920v2M732 929v2M428 912v2M460 924v2M540 922v2M222 927v2M844 910v2M522 914v2M880 932v2M591 926v2M260 924v2M330 911v2M526 909v2M908 929v2M592 929v2M188 921v2M314 926v2M460 914v2M618 915v2M892 931v2M822 920v2M426 914v2M232 925v2M444 929v2M896 922v2M244 911v2M186 931v2M426 925v2M330 917v2M816 919v2M520 915v2M415 930v2M846 930v2M228 914v2M754 930v2M342 932v2M812 926v2M656 911v2M296 932v2M262 934v2M498 919v2M372 911v2M408 911v2M206 933v2M586 923v2M775 931v2M830 917v2M518 928v2M340 929v2M454 924v2M382 931v2M732 923v2M372 914v2M622 923v2M714 911v2M500 920v2M928 917v2M564 932v2M624 932v2M455 933v2M334 915v2M276 932v2M508 928v2M738 922v2M416 931v2M236 926v2M448 924v2M230 918v2M413 911v2M802 923v2M466 917v2M226 921v2M838 922v2M494 921v2M168 928v2M485 915v2M458 927v2M794 931v2M880 930v2M768 914v2M682 921v2M211 916v2M224 922v2M420 931v2M700 931v2M690 921v2M474 922v2M196 932v2M906 924v2M866 918v2M826 909v2M673 934v2M306 922v2M318 918v2M388 923v2M366 929v2M247 915v2M888 921v2M530 923v2M690 925v2M638 912v2M608 933v2M606 934v2M177 925v2M858 922v2M650 934v2M648 915v2M629 919v2M646 910v2M658 916v2M724 914v2M276 912v2M428 911v2M338 931v2M620 925v2M668 918v2M364 921v2M168 934v2M180 921v2M446 915v2M368 911v2M226 929v2M168 928v2M352 934v2M830 932v2M380 916v2M778 923v2M782 917v2M387 913v2M364 930v2M558 914v2M374 912v2M458 919v2M198 911v2M562 910v2M502 929v2M372 917v2M242 910v2M518 911v2M644 925v2M294 913v2M344 924v2M714 929v2M494 926v2M688 928v2M636 931v2M668 927v2M464 923v2M364 922v2M508 915v2M630 924v2M368 913v2M824 921v2M304 915v2M264 920v2M220 927v2M278 932v2M833 934v2M776 924v2M734 910v2M622 913v2M873 915v2M842 913v2M670 911v2M644 933v2M420 912v2M258 924v2M703 919v2M614 915v2M926 926v2M408 921v2M156 916v2M322 921v2M386 916v2M290 917v2M288 912v2M368 913v2M295 921v2M664 915v2M492 910v2M786 920v2M926 913v2M442 909v2M812 927v2M642 933v2M458 934v2M482 913v2M548 927v2M332 912v2M663 922v2M834 928v2M545 933v2M345 910v2M516 920v2M456 922v2M332 933v2M302 909v2M840 923v2M174 910v2M242 918v2M576 932v2M404 934v2M382 921v2M350 911v2M506 925v2M754 916v2M746 910v2M328 915v2M646 916v2M894 918v2M550 924v2M841 923v2M558 910v2M686 933v2M610 918v2M346 920v2M759 912v2M432 918v2M418 910v2M792 930v2M368 919v2M848 926v2M176 926v2M176 922v2M258 915v2M792 921v2M454 918v2M539 926v2M364 917v2M650 919v2M288 934v2M370 917v2M511 915v2M420 918v2M814 911v2M878 930v2M898 921v2M180 914v2M296 928v2M366 927v2M486 932v2M634 927v2M154 917v2M602 929v2M144 923v2M348 911v2M654 918v2M198 927v2M506 910v2M730 932v2M766 916v2M281 918v2M620 933v2M142 923v2M264 933v2M914 928v2M798 918v2M292 931v2M132 915v2M898 925v2M344 912v2M318 912v2M412 917v2M548 910v2M172 911v2M615 916v2M546 933v2M396 921v2M148 909v2M766 931v2M392 927v2M870 923v2M640 914v2M869 929v2M526 933v2M636 924v2M256 931v2M892 910v2M898 917v2M674 915v2M438 925v2M814 923v2M510 914v2M538 912v2M381 916v2M504 924v2M464 920v2M730 930v2M486 926v2M898 933v2M486 913v2M238 913v2M150 914v2M728 927v2M638 929v2M788 923v2M258 910v2M540 934v2M502 922v2M446 921v2M540 924v2M534 931v2M236 911v2M150 922v2M156 916v2M516 912v2M188 920v2M358 909v2M130 920v2M253 918v2M286 915v2M256 928v2M790 912v2M908 912v2M908 925v2M564 927v2M562 909v2M486 910v2M890 932v2M890 921v2M534 926v2M724 911v2M138 922v2M132 930v2M680 913v2M850 917v2M292 932v2M470 918v2M722 920v2M802 933v2M202 926v2M682 913v2M897 911v2M696 921v2M450 934v2M295 923v2M622 909v2M364 931v2M386 911v2M880 931v2M249 929v2M609 922v2M320 927v2M754 924v2M470 930v2M837 924v2M562 911v2M888 920v2M372 928v2M336 927v2M654 927v2M830 920v2M604 930v2M338 920v2M868 911v2M330 919v2M788 925v2M926 912v2M150 914v2M519 922v2M562 914v2M660 932v2M302 934v2M430 929v2M148 914v2M334 920v2M636 913v2M369 925v2M264 920v2M364 934v2M468 915v2M648 911v2M240 912v2M870 913v2M760 922v2M724 922v2M588 915v2M812 918v2M520 931v2M616 923v2M798 915v2M544 912v2M390 934v2M190 927v2M430 931v2M185 912v2M684 919v2M147 920v2M410 933v2M764 909v2M274 913v2M652 923v2M390 919v2M420 928v2M274 931v2M217 922v2M816 912v2M466 925v2M660 913v2M284 928v2M192 912v2M242 931v2M220 921v2M178 925v2M614 912v2M212 915v2M150 921v2M172 914v2M390 914v2M410 931v2M250 910v2M358 909v2M538 930v2M856 912v2M441 910v2M148 926v2M786 928v2M438 913v2M648 930v2M148 918v2M146 933v2M504 925v2M248 922v2M342 913v2M138 921v2M844 921v2M374 912v2M196 926v2M296 924v2M622 914v2M348 921v2M892 915v2M366 918v2M596 927v2M699 930v2M545 916v2M614 919v2M873 934v2M342 934v2M836 914v2M814 919v2M632 920v2M534 922v2M152 923v2M354 917v2M718 913v2M604 912v2M667 933v2M244 920v2M154 909v2M768 927v2M154 928v2M479 916v2M464 919v2M924 930v2M556 911v2M642 926v2M777 909v2M268 925v2M840 931v2M354 925v2M258 923v2M734 910v2M582 911v2M716 913v2M286 931v2M203 933v2M176 916v2M632 933v2M718 932v2M450 913v2M442 933v2M624 912v2M624 912v2M246 917v2M782 913v2M642 913v2M360 910v2M690 912v2M645 923v2M306 929v2M296 916v2M300 910v2M224 919v2M703 930v2M678 925v2M640 912v2M470 919v2M724 923v2" stroke="#e52219" stroke-width="3.4" stroke-linecap="round" fill="none"/>
<path transform="scale(.5)" d="M454 933v2M592 930v2M892 913v2M248 925v2M618 930v2M791 931v2M738 920v2M872 913v2M763 917v2M580 910v2M856 909v2M416 920v2M866 932v2M866 914v2M761 909v2M306 928v2M638 921v2M893 917v2M448 931v2M382 927v2M754 929v2M312 916v2M560 930v2M301 933v2M624 910v2M198 932v2M370 929v2M734 922v2M924 915v2M243 928v2M268 911v2M750 926v2M352 922v2M156 921v2M618 917v2M484 924v2M884 920v2M868 922v2M580 934v2M650 915v2M734 915v2M752 934v2M818 926v2M354 928v2M676 920v2M536 926v2M506 933v2M685 916v2M692 917v2M856 932v2M412 930v2M634 916v2M555 917v2M220 932v2M282 910v2M924 919v2M494 914v2M608 930v2M532 913v2M346 925v2M582 919v2M616 932v2M830 909v2M180 923v2M280 932v2M630 925v2M498 921v2M557 931v2M676 930v2M552 910v2M920 925v2M462 926v2M822 925v2M440 917v2M868 914v2M796 931v2M140 930v2M886 913v2M628 933v2M436 921v2M842 910v2M800 928v2M854 923v2M212 930v2M298 931v2M224 910v2M884 921v2M884 915v2M500 916v2M819 925v2M298 923v2M832 933v2M496 914v2M443 918v2M750 921v2M514 920v2M530 923v2M824 925v2M822 909v2M804 930v2M369 913v2M430 918v2M588 928v2M872 931v2M236 922v2M416 925v2M264 916v2M828 932v2M558 926v2M590 921v2M788 918v2M456 923v2M208 933v2M372 929v2M634 913v2M696 931v2M287 926v2M459 912v2M644 929v2M821 927v2M826 932v2M598 933v2M906 916v2M376 923v2M270 924v2M482 922v2M462 933v2M150 926v2M378 927v2M468 927v2M376 924v2M184 934v2M332 922v2M258 930v2M832 913v2M468 922v2M444 920v2M824 917v2M234 926v2M524 920v2M700 926v2M300 928v2M592 923v2M536 912v2M228 925v2M388 934v2M536 931v2M640 910v2M322 920v2M814 922v2M530 931v2M830 922v2M748 924v2M664 922v2M888 915v2M424 922v2M378 922v2M536 923v2M386 933v2M456 914v2M756 922v2M619 931v2M818 930v2M218 916v2M788 909v2M530 913v2M906 911v2M764 912v2M404 916v2M326 929v2M864 916v2M140 922v2M326 932v2M868 930v2M254 929v2M418 919v2M648 923v2M510 912v2M372 931v2M836 914v2M816 918v2M482 917v2M582 925v2M618 915v2M180 911v2M724 909v2M920 909v2M466 915v2M906 930v2M320 927v2M182 910v2M446 913v2M478 911v2M388 930v2M442 923v2M612 918v2M894 929v2M838 922v2M622 931v2M670 910v2M694 909v2M202 914v2M254 920v2M796 921v2M878 917v2M792 914v2M762 928v2M356 929v2M712 933v2M694 913v2M232 918v2M398 932v2M300 931v2M270 933v2M826 932v2M214 918v2M762 909v2M893 928v2M426 922v2M384 929v2M680 917v2M252 913v2M536 917v2M686 925v2M216 922v2M396 930v2M796 925v2M578 933v2M238 917v2M688 922v2M532 931v2M394 926v2M414 930v2M432 917v2M414 927v2M412 925v2M664 925v2M796 926v2M880 917v2M376 925v2M696 932v2M262 928v2M368 916v2M676 931v2M593 923v2M624 916v2M684 919v2M480 917v2M714 927v2M596 915v2M329 928v2M634 925v2M422 921v2M496 924v2M484 913v2M272 917v2M140 914v2M222 921v2M783 932v2M204 917v2M486 910v2M536 914v2M556 924v2M816 925v2M542 924v2M611 913v2M666 925v2M320 927v2M156 920v2M884 922v2M536 934v2M279 916v2M281 912v2M324 926v2M618 930v2M208 918v2M876 929v2M724 927v2M634 929v2M270 918v2M706 932v2M518 918v2M656 917v2M638 917v2M158 925v2M732 910v2M630 912v2M853 917v2M316 912v2M530 933v2M252 916v2M553 924v2M790 917v2M829 919v2M216 930v2M504 930v2M818 910v2M276 920v2M138 928v2M590 917v2M713 916v2M492 926v2M684 925v2M616 919v2M656 920v2M662 931v2M386 923v2M474 920v2M856 915v2M322 927v2M764 921v2M616 930v2M623 913v2M415 922v2M218 927v2M861 932v2M582 925v2M186 910v2M838 916v2M558 914v2M722 920v2M616 923v2M783 921v2M706 928v2M458 923v2M362 915v2M510 913v2M766 929v2M467 923v2M930 927v2M824 918v2M468 911v2M682 909v2M876 932v2M616 915v2M182 932v2M391 918v2M702 928v2M156 913v2M716 927v2M592 925v2M436 931v2M322 917v2M204 912v2M238 918v2M236 918v2M920 916v2M200 910v2M686 914v2M128 922v2M428 911v2M781 925v2M216 924v2M686 925v2M190 930v2M726 914v2M823 913v2M238 918v2M244 928v2M592 929v2M678 917v2M706 920v2M820 925v2M474 917v2M454 921v2M758 910v2M790 920v2M858 911v2M194 924v2M173 909v2M278 912v2M920 925v2M500 922v2M762 924v2M306 926v2M686 931v2M346 911v2M838 925v2M176 919v2M500 910v2M542 922v2M342 924v2M202 919v2M328 919v2M232 914v2M692 915v2M302 915v2M826 920v2M284 917v2M493 918v2M716 915v2M186 922v2M747 933v2M186 930v2M610 921v2M210 912v2M406 922v2M462 917v2M194 911v2M854 917v2M894 931v2M514 930v2M210 930v2M763 922v2M235 909v2M356 924v2M858 912v2M580 911v2M288 928v2M220 918v2M352 932v2M578 929v2M492 928v2M330 912v2M248 910v2M604 928v2M500 915v2M866 916v2M238 930v2M406 915v2M624 916v2M238 918v2M644 923v2M206 929v2M484 915v2M240 923v2M861 932v2M834 914v2M734 923v2M386 922v2M408 928v2M702 929v2M752 910v2M654 923v2M486 922v2M790 916v2M126 930v2M528 916v2M422 916v2M624 929v2M536 926v2M862 925v2M680 931v2M868 912v2M274 928v2M276 910v2M728 918v2M460 918v2M762 928v2M378 912v2M778 911v2M330 920v2M220 929v2M497 930v2M443 922v2M182 918v2M278 921v2M654 915v2M872 920v2M130 934v2M442 930v2M420 923v2M286 934v2M178 914v2M126 915v2M237 923v2M522 910v2M820 910v2M884 929v2M796 927v2M522 915v2M444 932v2M894 910v2M352 927v2M696 923v2M900 912v2M836 931v2M672 922v2M324 928v2M366 920v2M438 914v2M128 909v2M194 934v2M852 915v2M312 934v2M474 930v2M222 920v2M836 910v2M876 921v2M920 925v2M912 920v2M813 927v2M768 918v2M436 916v2M224 918v2M826 923v2M754 917v2M200 911v2M528 925v2M236 916v2M312 919v2M584 912v2M186 922v2M278 927v2M271 912v2M776 916v2M592 930v2M764 928v2M422 923v2M388 914v2M854 930v2M416 928v2M698 931v2M220 924v2M320 912v2M754 918v2M752 934v2M860 929v2M146 918v2M780 913v2M614 910v2M554 926v2M434 928v2M322 928v2M216 924v2M388 920v2M130 933v2M732 918v2M458 930v2M192 923v2M193 916v2M300 914v2M614 919v2M530 912v2M306 916v2M376 918v2M420 928v2M352 925v2M532 929v2M912 931v2M376 913v2M661 933v2M698 926v2M628 918v2M862 928v2M910 912v2M374 913v2M210 932v2M484 920v2M684 921v2M430 932v2M541 927v2M716 914v2M858 931v2M856 916v2M668 915v2M455 928v2M560 925v2M630 932v2M848 916v2M260 916v2M649 912v2M714 927v2M892 934v2M288 922v2M372 915v2M662 919v2M496 911v2M200 924v2M462 920v2M648 931v2M378 926v2M248 913v2M404 926v2M750 915v2M340 925v2M456 924v2M720 912v2M528 931v2" stroke="#4b7cd0" stroke-width="3.4" stroke-linecap="round" fill="none"/>
<path transform="scale(.5)" d="M360 896v2M848 898v2M468 903v2M522 894v2M894 893v2M484 909v2M764 908v2M788 905v2M890 891v2M128 908v2M520 889v2M670 902v2M514 901v2M436 896v2M294 888v2M220 892v2M612 883v2M846 894v2M498 906v2M826 904v2M924 901v2M452 906v2M824 901v2M466 899v2M866 888v2M392 906v2M386 889v2M318 902v2M202 900v2M284 899v2M456 901v2M628 888v2M198 898v2M240 908v2M182 903v2M692 899v2M482 907v2M516 903v2M766 899v2M820 901v2M318 901v2M252 908v2M592 896v2M627 902v2M292 894v2M144 898v2M550 897v2M252 887v2M590 889v2M912 901v2M220 907v2M236 907v2M614 889v2M578 900v2M580 885v2M506 900v2M599 909v2M820 900v2M752 893v2M294 892v2M398 905v2M600 900v2M404 907v2M912 907v2M878 908v2M860 900v2M202 891v2M420 895v2M184 906v2M132 906v2M797 881v2M526 903v2M838 905v2M208 885v2M800 890v2M248 902v2M624 902v2M274 901v2M498 906v2M582 897v2M686 898v2M460 908v2M298 899v2M360 898v2M218 897v2M692 904v2M220 895v2M510 904v2M266 890v2M340 900v2M930 895v2M198 893v2M854 895v2M344 902v2M250 896v2M314 902v2M502 896v2M256 879v2M184 907v2M433 890v2M134 902v2M550 890v2M716 898v2M862 897v2M136 899v2M142 893v2M406 899v2M782 902v2M452 900v2M502 909v2M258 891v2M584 893v2M314 901v2M304 897v2M561 904v2M278 896v2M342 904v2M270 893v2M323 903v2M712 897v2M416 890v2M518 902v2M304 898v2M410 901v2M826 909v2M362 901v2M780 906v2M750 893v2M252 909v2M250 901v2M922 904v2M346 901v2M475 897v2M676 900v2M748 906v2M662 909v2M722 907v2M142 892v2M582 906v2M761 895v2M694 904v2M732 894v2M442 907v2M183 903v2M578 909v2M259 899v2M216 887v2M478 904v2M790 901v2M522 898v2M225 892v2M620 907v2M626 904v2M588 909v2M679 894v2M629 908v2M668 904v2M433 899v2M750 895v2M158 900v2M800 898v2M843 908v2M834 899v2M343 907v2M185 886v2M800 889v2M334 897v2M310 886v2M256 908v2M832 893v2M134 906v2M284 905v2M888 902v2M592 892v2M428 902v2M760 906v2M728 901v2M636 893v2M720 899v2M784 900v2M268 902v2M830 887v2M628 884v2M370 909v2M422 897v2M328 904v2M796 899v2M624 903v2M815 905v2M312 898v2M714 906v2M682 901v2M432 909v2M224 902v2M192 904v2M618 906v2M514 903v2M712 901v2M676 904v2M214 907v2M910 887v2M764 882v2M414 909v2M220 907v2M551 904v2M330 903v2M420 899v2M190 901v2M896 891v2M800 888v2M840 901v2M298 908v2M617 886v2M752 893v2M914 901v2M588 906v2M150 889v2M252 906v2M692 899v2M866 902v2M416 907v2M184 909v2M324 893v2M214 904v2M192 898v2M618 903v2M676 908v2M750 895v2M312 904v2M508 908v2M356 899v2M157 899v2M748 901v2M134 909v2M140 906v2M213 907v2M222 900v2M184 891v2M588 905v2M334 903v2M140 884v2M324 902v2M471 908v2M236 897v2M614 892v2M210 894v2M910 905v2M884 908v2M818 897v2M394 887v2M884 907v2M825 909v2M550 905v2M584 892v2M220 889v2M218 905v2M826 908v2M896 883v2M316 909v2M206 886v2M802 889v2M149 894v2M910 905v2M256 904v2M776 906v2M616 900v2M422 905v2M920 904v2M356 909v2M322 901v2M670 908v2M920 895v2M854 898v2M924 892v2M582 908v2M500 901v2M388 894v2M210 902v2M758 892v2M457 905v2M208 882v2M784 907v2M908 907v2M752 892v2M324 907v2M266 904v2M752 904v2M600 901v2M676 894v2M685 901v2M625 906v2M846 901v2M562 903v2M706 901v2M584 885v2M686 906v2M192 907v2M913 890v2M158 908v2M184 908v2M786 885v2M666 902v2M582 906v2M622 904v2M536 906v2M896 897v2M128 899v2M312 901v2M430 906v2M854 896v2M812 895v2M786 890v2M559 895v2M459 898v2M816 895v2M312 906v2M208 880v2M312 893v2M510 896v2M170 906v2M206 900v2M284 900v2M128 908v2M350 898v2M670 894v2M686 903v2M644 893v2M835 903v2M312 897v2M272 897v2M706 908v2M672 889v2M602 909v2M128 897v2M456 900v2M194 902v2M280 900v2M838 896v2M800 881v2M362 901v2M286 904v2M249 893v2M672 889v2M220 905v2M734 899v2M766 887v2M406 898v2M752 890v2M550 890v2M764 889v2M732 904v2M210 899v2M528 898v2M182 897v2M514 904v2M277 895v2M444 905v2M536 905v2M592 900v2M662 905v2M269 894v2M612 892v2M522 894v2M204 875v2M602 909v2M424 898v2M762 908v2M784 904v2M556 900v2M530 908v2M762 889v2M278 904v2M346 901v2M680 898v2M216 887v2M504 901v2M260 904v2M578 899v2M910 895v2M304 904v2M168 906v2M860 899v2M272 890v2M784 888v2M720 902v2M602 906v2M432 890v2M630 901v2M398 893v2M820 905v2M272 907v2M210 901v2M310 901v2M222 900v2M836 889v2M670 902v2M680 898v2M610 895v2M550 901v2M578 904v2M492 900v2M476 898v2M764 899v2M862 894v2M578 890v2M566 906v2M926 908v2M492 901v2M786 889v2M670 907v2M262 903v2M542 900v2M322 904v2M322 907v2M792 903v2M884 908v2M850 893v2M721 903v2M420 906v2M127 895v2M142 894v2M144 885v2M130 893v2M189 889v2M526 906v2M168 899v2M910 907v2M360 907v2M590 890v2M258 902v2M838 896v2M232 899v2M340 896v2M430 899v2M430 906v2M641 890v2M244 899v2M158 900v2M154 891v2M826 907v2M460 908v2M910 881v2M452 899v2M776 893v2M488 905v2M266 891v2M896 883v2M232 901v2M386 885v2M654 899v2M500 900v2M382 907v2M456 901v2M188 898v2M896 904v2M504 892v2M468 902v2M222 903v2M644 883v2M322 908v2M906 899v2M600 895v2M776 891v2M256 902v2M628 899v2M810 894v2M930 893v2M420 908v2M316 886v2M884 902v2" stroke="#4880de" stroke-width="3.4" stroke-linecap="round" fill="none"/>
<path transform="scale(.5)" d="M288 897v2M228 904v2M854 897v2M490 908v2M348 906v2M786 888v2M174 901v2M431 893v2M613 893v2M146 900v2M276 891v2M656 905v2M254 890v2M310 907v2M636 908v2M672 885v2M283 900v2M296 895v2M470 899v2M534 906v2M564 902v2M308 877v2M720 903v2M714 905v2M350 906v2M762 908v2M452 898v2M234 896v2M178 890v2M282 907v2M338 900v2M694 904v2M748 905v2M150 888v2M538 893v2M760 902v2M246 889v2M418 881v2M418 905v2M203 886v2M306 890v2M499 901v2M733 902v2M714 899v2M930 895v2M361 905v2M595 901v2M538 905v2M798 898v2M228 894v2M149 893v2M732 898v2M428 890v2M712 908v2M418 882v2M552 882v2M283 897v2M756 901v2M496 893v2M615 887v2M158 886v2M138 895v2M554 895v2M800 896v2M634 900v2M247 900v2M841 905v2M680 898v2M524 892v2M338 898v2M581 905v2M678 907v2M834 898v2M398 904v2M659 901v2M858 895v2M768 899v2M156 899v2M434 892v2M215 896v2M194 888v2M408 899v2M760 901v2M198 901v2M358 900v2M930 905v2M502 900v2M854 897v2M136 892v2M470 909v2M240 898v2M728 901v2M910 880v2M166 908v2M624 905v2M486 909v2M532 903v2M460 903v2M830 900v2M328 905v2M632 902v2M510 891v2M692 904v2M631 892v2M784 883v2M500 900v2M648 904v2M518 903v2M564 905v2M930 899v2M596 900v2M642 898v2M394 902v2M784 881v2M930 887v2M802 894v2M802 906v2M630 900v2M332 908v2M177 908v2M718 906v2M471 908v2M548 900v2M388 896v2M674 903v2M811 908v2M732 899v2M292 900v2M844 907v2M504 899v2M676 899v2M734 903v2M676 900v2M666 905v2M416 895v2M466 901v2M468 905v2M498 887v2M706 905v2M368 909v2M780 900v2M456 904v2M672 904v2M510 899v2M442 897v2M272 908v2M552 888v2M302 905v2M538 898v2M660 899v2M392 896v2M206 896v2M870 900v2M460 897v2M292 896v2M666 908v2M836 903v2M554 902v2M686 900v2M198 902v2M337 907v2M804 889v2M144 905v2M686 897v2M845 904v2M676 900v2M316 900v2M360 908v2M463 903v2M182 904v2M554 890v2M316 894v2M548 898v2M828 894v2M538 896v2M576 885v2M498 894v2M341 895v2M616 902v2M599 890v2M538 905v2M926 881v2M212 902v2M524 893v2M595 893v2M338 899v2M496 891v2M848 903v2M276 907v2M196 903v2M832 901v2M633 893v2M664 897v2M564 901v2M318 908v2M578 893v2M868 891v2M306 904v2M396 888v2M618 903v2M388 883v2M782 895v2M242 892v2M870 907v2M788 905v2M350 900v2M714 900v2M580 887v2M154 907v2M564 908v2M722 905v2M308 884v2M838 902v2M629 894v2M516 894v2M240 900v2M420 894v2M396 888v2M190 897v2M258 901v2M208 875v2M540 907v2M142 898v2M848 902v2M488 901v2M388 882v2M434 898v2M134 894v2M678 896v2M554 907v2M230 899v2M846 897v2M796 902v2M206 894v2M432 892v2M540 895v2M590 886v2M866 903v2M630 903v2M794 908v2M852 908v2M550 896v2M386 899v2M831 904v2M394 890v2M834 900v2M590 908v2M390 909v2M251 896v2M476 904v2M800 909v2M556 900v2M856 904v2M452 895v2M315 906v2M566 895v2M594 901v2M548 907v2M382 889v2M262 900v2M546 901v2M198 906v2M552 908v2M594 886v2M688 903v2M598 887v2M728 908v2M868 900v2M732 890v2M471 901v2M822 898v2M848 902v2M705 900v2M548 900v2M522 907v2M540 894v2M454 895v2M340 905v2M154 903v2M316 890v2M369 904v2M612 880v2M224 898v2M418 882v2M296 908v2M848 902v2M678 899v2M246 883v2M610 892v2M142 903v2M176 903v2M690 906v2M552 876v2M640 908v2M866 908v2M868 900v2M726 903v2M850 907v2M590 896v2M704 908v2M550 880v2M738 908v2M804 888v2M890 908v2M269 887v2M522 907v2M598 877v2M520 889v2M540 890v2M144 906v2M926 906v2M248 906v2M784 904v2M512 908v2M428 884v2M584 908v2M587 906v2M578 897v2M654 900v2M250 893v2M518 898v2M213 893v2M890 888v2M504 907v2M524 897v2M298 900v2M166 905v2M406 897v2M620 902v2M859 901v2M268 902v2M424 908v2M456 896v2M866 891v2M470 904v2M846 894v2M870 896v2M848 907v2M204 901v2M204 881v2M642 895v2M348 887v2M422 889v2M342 902v2M607 885v2M196 899v2M428 886v2M750 906v2M894 906v2M392 900v2M866 891v2M206 904v2M864 905v2M850 898v2M520 884v2M546 894v2M644 894v2M126 889v2M392 906v2M534 903v2M642 885v2M150 889v2M306 907v2M608 903v2M630 897v2M242 899v2M210 894v2M396 895v2M802 897v2M486 908v2M126 892v2M256 901v2M311 906v2M394 908v2M270 905v2M614 907v2M146 906v2M336 891v2M296 896v2M130 891v2M766 885v2M616 896v2M264 906v2M304 896v2M348 890v2M202 887v2M668 907v2M488 897v2M578 907v2M660 908v2M780 899v2M383 896v2M852 901v2M928 888v2M232 901v2M914 901v2M314 908v2M886 904v2M760 898v2M294 906v2M232 907v2M754 889v2M678 907v2M408 901v2M470 884v2M692 902v2M144 894v2M630 895v2M334 897v2M190 894v2M132 907v2M316 894v2M732 891v2M524 893v2M860 888v2M556 908v2M462 898v2M575 901v2M192 896v2M396 890v2M126 902v2M254 896v2M216 890v2M828 901v2M592 893v2M848 905v2M390 894v2M390 903v2M612 892v2M656 908v2M200 891v2M230 908v2M722 908v2M832 895v2M724 906v2M516 906v2M670 905v2M598 893v2M922 906v2M416 899v2M555 896v2M642 886v2M540 907v2M460 907v2M408 899v2M919 893v2M358 909v2M664 896v2M296 880v2M887 904v2M153 905v2M594 896v2M428 904v2M308 880v2M194 907v2M748 908v2M136 903v2M456 908v2M891 889v2M594 905v2M398 893v2M254 895v2M180 903v2M414 905v2M310 901v2M284 897v2M406 907v2M259 887v2M778 902v2M176 906v2M292 902v2M636 888v2M416 900v2M489 906v2M928 905v2M506 890v2M134 905v2M780 907v2M436 903v2M368 904v2M308 879v2M582 907v2M580 884v2M704 906v2M208 908v2M240 902v2M596 896v2M426 892v2M346 903v2M290 892v2M254 887v2M127 891v2M927 889v2M730 893v2M304 903v2M404 902v2M290 900v2M744 901v2M360 896v2M150 893v2M644 888v2M556 902v2M260 899v2M454 894v2M298 900v2M464 907v2M492 906v2M176 909v2M356 893v2M730 895v2M310 901v2M254 906v2M152 885v2M887 902v2M674 890v2M210 906v2M714 895v2M250 899v2M356 897v2M282 897v2M766 892v2M821 899v2M392 906v2M300 904v2M332 897v2M336 905v2M198 898v2M926 903v2M482 902v2M242 907v2M318 901v2M228 909v2M476 899v2M714 904v2M552 892v2M196 897v2M318 903v2M734 901v2M340 906v2M348 894v2M598 889v2M203 901v2M626 890v2M408 907v2M538 896v2M886 895v2M234 904v2M152 908v2M153 901v2M450 902v2M804 895v2M268 887v2M520 900v2M864 900v2M388 889v2M608 888v2M628 897v2M898 895v2M584 891v2M692 903v2M426 898v2M810 908v2M606 906v2M232 900v2M652 908v2M234 900v2M594 905v2M246 901v2M648 903v2M274 906v2M912 902v2M385 892v2M924 908v2M688 902v2M850 907v2M138 893v2M548 890v2M928 890v2M766 883v2M242 894v2M855 901v2M466 903v2M464 908v2M333 901v2M674 902v2M200 898v2M886 896v2M387 879v2M190 893v2M311 891v2M200 889v2M766 900v2M766 902v2M890 898v2M244 908v2M205 902v2M226 907v2M646 905v2M644 888v2M496 903v2M626 899v2M212 901v2M712 897v2M644 907v2M470 884v2M213 896v2M294 893v2M216 889v2M744 902v2M734 903v2M290 903v2M558 907v2M383 904v2M586 909v2M726 898v2M856 902v2M254 896v2M414 904v2M252 892v2M224 903v2M612 888v2M780 907v2M900 906v2M324 902v2M546 891v2M388 903v2M398 897v2M554 899v2M470 888v2M156 893v2M667 905v2M736 901v2M848 892v2M208 874v2M188 907v2M746 903v2M754 892v2M428 898v2M460 903v2M764 899v2M550 898v2M470 887v2M600 899v2M754 900v2M854 906v2M272 889v2M256 895v2M896 886v2M236 897v2M762 898v2M426 889v2M136 892v2M188 905v2M599 904v2M834 908v2M784 895v2M804 901v2M736 904v2M523 891v2M418 892v2M768 893v2M646 908v2M614 896v2M150 901v2M250 901v2M704 903v2M870 906v2M856 902v2M552 887v2M150 903v2M797 875v2M424 899v2M612 887v2M212 899v2M488 909v2M200 887v2M550 874v2M890 884v2M546 893v2M392 897v2M686 901v2M390 908v2M512 903v2M828 896v2M222 903v2M152 897v2M368 909v2M126 890v2M216 895v2M892 899v2M314 893v2M200 888v2M690 905v2M906 906v2M348 909v2M155 893v2M608 886v2M400 908v2M676 897v2M254 900v2M576 898v2M674 905v2M776 883v2M844 904v2M834 902v2M137 893v2M142 885v2M510 896v2M636 902v2M930 887v2M732 892v2M858 908v2M248 888v2M437 899v2M828 905v2M907 896v2M642 893v2M730 888v2M308 890v2M298 907v2M818 901v2M508 894v2M284 907v2M388 904v2M204 883v2M434 889v2M424 902v2M138 906v2M290 894v2M508 893v2M796 899v2M538 896v2M384 909v2M654 892v2M890 908v2M690 909v2M174 897v2M256 901v2M888 896v2M654 906v2M310 895v2M796 886v2M722 898v2M604 906v2M384 893v2M802 889v2M428 908v2M580 904v2M602 907v2M674 897v2M776 893v2M816 892v2M768 905v2M778 890v2M612 899v2M656 899v2M608 904v2M632 905v2M760 893v2M308 883v2M620 905v2M908 900v2M575 903v2M648 897v2M762 906v2M238 901v2M850 895v2M464 899v2M554 887v2M727 902v2M600 899v2M546 904v2M228 898v2M848 889v2M522 894v2M418 890v2M150 894v2M834 896v2M336 901v2M758 900v2M154 889v2M426 891v2M342 894v2M130 887v2M866 896v2M388 903v2M348 885v2M409 903v2M634 905v2M148 897v2M798 900v2M887 906v2M760 894v2M306 892v2M308 905v2M906 891v2M454 896v2M589 908v2M730 900v2M672 889v2M246 886v2M886 905v2M659 902v2M604 904v2M826 893v2M582 897v2M748 902v2M258 905v2M818 901v2M220 896v2M648 896v2M348 903v2M144 904v2M550 880v2M456 902v2M358 895v2M694 908v2M846 902v2M134 891v2M909 904v2M642 898v2M674 904v2M274 896v2M547 899v2M738 904v2M514 901v2M546 904v2M756 898v2M252 896v2M538 895v2M126 905v2M524 900v2M293 909v2M562 903v2M926 901v2M756 902v2M732 883v2M672 884v2M299 896v2M776 902v2M418 907v2M600 896v2M302 898v2M714 896v2M730 900v2M562 901v2M292 903v2M562 901v2M800 879v2M258 892v2M852 903v2M906 885v2M798 886v2M204 902v2M564 906v2M864 898v2M798 877v2M888 906v2M336 905v2M822 898v2M553 881v2M592 883v2M302 902v2M408 900v2M342 896v2M228 906v2M396 887v2M350 900v2M286 902v2M156 907v2M250 899v2M283 907v2M378 901v2M334 903v2M546 896v2M722 901v2M348 884v2M182 908v2M417 880v2M382 907v2M426 897v2M410 903v2M550 899v2M730 894v2M550 897v2M392 897v2M248 906v2M364 902v2M610 901v2M590 895v2M470 885v2M613 884v2M178 892v2M434 901v2M174 896v2M926 903v2M308 897v2M799 893v2M656 901v2M517 896v2M524 899v2M291 900v2M204 901v2M600 898v2M434 892v2M606 893v2M724 883v2M256 903v2M130 887v2M308 878v2M830 894v2M626 893v2M848 903v2M828 900v2M803 902v2M546 907v2M394 889v2M601 908v2M284 897v2M678 906v2M550 888v2M575 896v2M786 897v2M154 898v2M434 908v2M890 881v2M920 907v2M242 899v2M730 890v2M138 891v2M524 890v2M534 900v2M400 903v2M554 895v2M766 883v2M230 904v2M725 902v2" stroke="#f51a10" stroke-width="3.4" stroke-linecap="round" fill="none"/>
<path transform="scale(.5)" d="M877 947h0M877 950h0M876 953h0" stroke="#b53934" stroke-width="4.6" stroke-linecap="round" fill="none"/>
<path transform="scale(.5)" d="M874 934h0M402 931h0M872 932h0M649 934h0M698 931h0M875 936h0M448 933h0M699 936h0M650 931h0M876 933h0M448 941h0M448 937h0M784 935h0M785 930h0M875 932h0M650 931h0" stroke="#c5312b" stroke-width="4.6" stroke-linecap="round" fill="none"/>
<path transform="scale(.5)" d="M480 933h0M480 935h0M784 936h0" stroke="#5275b5" stroke-width="4.6" stroke-linecap="round" fill="none"/>
<path transform="scale(.5)" d="M738 918h0M700 917h0M367 919h0M511 916h0M186 916h0M300 923h0M480 928h0M344 920h0M660 917h0M367 926h0M689 920h0M375 918h0M443 925h0M353 923h0M333 917h0M375 921h0M738 920h0M375 928h0M372 918h0M374 928h0M450 917h0M328 920h0M723 918h0M746 917h0M792 917h0M588 917h0M480 918h0M372 926h0M261 918h0M749 917h0M696 918h0M264 920h0M878 922h0M738 922h0M322 917h0M481 925h0M881 921h0M717 917h0M695 921h0M447 925h0M652 917h0M882 924h0M532 920h0M480 920h0M172 924h0M372 921h0M439 919h0M594 922h0M842 921h0" stroke="#4e79c2" stroke-width="4.6" stroke-linecap="round" fill="none"/>
<path transform="scale(.5)" d="M439 925h0M373 917h0M368 918h0M350 916h0M300 919h0M881 925h0M172 920h0M820 917h0M458 918h0M344 918h0M699 921h0M486 924h0M380 917h0M351 917h0M699 925h0M537 923h0M353 919h0M448 925h0M482 917h0M622 918h0M696 925h0M652 923h0M304 928h0M367 924h0M872 926h0M368 923h0M351 920h0M703 922h0M480 922h0M882 928h0M723 928h0M530 917h0M448 925h0M444 921h0M440 923h0M444 919h0M882 921h0M652 920h0M351 926h0M872 919h0M367 929h0M694 919h0M413 922h0M881 928h0M783 924h0M659 918h0M250 917h0M412 918h0M401 924h0M424 917h0M702 927h0M490 921h0M232 919h0M882 918h0M700 919h0M338 918h0M530 923h0M378 921h0M374 925h0M264 917h0M413 926h0M489 917h0M379 919h0M622 921h0M702 924h0M879 927h0M180 918h0M534 919h0M400 924h0M651 925h0M264 917h0M698 928h0M489 917h0M684 918h0M718 924h0M282 917h0M319 918h0M486 917h0M604 918h0M603 917h0M450 919h0M430 917h0M814 916h0M880 919h0M702 916h0M410 917h0M446 917h0M856 917h0M879 917h0M376 926h0M698 918h0M624 918h0M478 918h0M400 924h0M530 919h0M736 918h0M374 922h0M682 918h0M558 919h0M446 921h0M439 918h0M353 928h0M304 925h0M651 923h0M166 916h0M478 920h0M542 917h0M226 918h0M364 919h0M718 920h0M668 919h0M331 918h0" stroke="#d52a22" stroke-width="4.6" stroke-linecap="round" fill="none"/>
<path transform="scale(.5)" d="M846 904h0M718 904h0M436 913h0M816 905h0M715 913h0M484 914h0M300 916h0M464 909h0M489 914h0M539 906h0M401 915h0M604 910h0M323 913h0M619 913h0M582 908h0M274 908h0M664 907h0M501 906h0M716 905h0M638 911h0M354 916h0M135 910h0M759 913h0M298 908h0M794 910h0M407 911h0M279 905h0M730 906h0M477 914h0M300 913h0M154 904h0M760 906h0M188 913h0M824 905h0M882 906h0M694 907h0M379 910h0M660 908h0M871 905h0M210 906h0M837 908h0M534 915h0M898 915h0M459 906h0M412 915h0M238 905h0M338 908h0M894 907h0M714 910h0M212 910h0M318 911h0M174 909h0M398 911h0M462 912h0M405 909h0M518 908h0M820 912h0M399 911h0M533 912h0M871 916h0M364 914h0M783 906h0M641 905h0M734 905h0M222 910h0M283 908h0M880 906h0M655 908h0M652 909h0M604 915h0M201 904h0M713 914h0M354 912h0M189 909h0M314 906h0M706 910h0M409 906h0M183 913h0M168 913h0M370 906h0M318 914h0M354 905h0M816 910h0M670 906h0M362 911h0M833 905h0M326 914h0M746 915h0M304 914h0M788 908h0M658 911h0M526 909h0M392 904h0M465 905h0M364 910h0M360 909h0M842 911h0M499 904h0M564 909h0M581 915h0M464 907h0M846 908h0M240 914h0M444 909h0M440 907h0M340 913h0M483 905h0M790 915h0M880 914h0M663 915h0M489 909h0M624 914h0M233 905h0M786 904h0M786 907h0M604 912h0M882 910h0M241 906h0M632 905h0M736 913h0M899 915h0M702 911h0M508 905h0M635 905h0M170 915h0M666 909h0M845 904h0M854 911h0M736 915h0M362 916h0M848 904h0M882 914h0M842 915h0M539 910h0M670 909h0M409 915h0M716 913h0M622 907h0M242 905h0M401 907h0M380 910h0M821 908h0M290 907h0M670 904h0M180 904h0M501 910h0M138 906h0M922 909h0M340 905h0M744 910h0M303 911h0M392 915h0M788 911h0M660 912h0M684 913h0M240 909h0M168 908h0M233 908h0M211 904h0M756 909h0M718 913h0M436 909h0M702 907h0M412 909h0M358 907h0M864 904h0M405 908h0M647 915h0M173 911h0M558 914h0M684 907h0M166 914h0M705 908h0M854 907h0M647 908h0M194 908h0M405 914h0M843 906h0M857 914h0M886 906h0M718 906h0M464 915h0M887 904h0M390 906h0M892 914h0M298 905h0M368 915h0M559 912h0M422 907h0M666 904h0M698 911h0M230 914h0M558 908h0M464 913h0M514 904h0M544 905h0M446 907h0M694 915h0M373 915h0M539 912h0M538 911h0M582 905h0M322 913h0M715 910h0M320 915h0M478 911h0M330 914h0M756 912h0M340 907h0M720 908h0M411 911h0M692 909h0M378 915h0M214 908h0M347 905h0M302 908h0M346 915h0M374 906h0M252 906h0M880 909h0M847 908h0M616 908h0M704 916h0M137 904h0M530 914h0M408 908h0M668 907h0M624 910h0M264 912h0M338 912h0M898 910h0M678 904h0M560 912h0M870 914h0M334 909h0M328 904h0M331 912h0M736 907h0M380 907h0M697 907h0M450 909h0M439 916h0M486 907h0M682 909h0M351 907h0M147 905h0M534 910h0M413 911h0M530 910h0M489 911h0M840 905h0M472 916h0M222 904h0M350 912h0M674 907h0M507 904h0M214 906h0M360 912h0M346 907h0M872 908h0M879 904h0M240 916h0M370 910h0M135 905h0M299 905h0M450 914h0M870 906h0M378 905h0M668 912h0M624 906h0M888 913h0M560 904h0M336 904h0M652 913h0M344 909h0M302 914h0M824 909h0M313 906h0M298 914h0M401 908h0M867 908h0M509 909h0M682 914h0M680 915h0M695 905h0M680 908h0M407 907h0M287 913h0M354 908h0M343 907h0M680 910h0M227 906h0M233 913h0M687 905h0M368 911h0M604 904h0M617 912h0M857 908h0M342 909h0M775 906h0M886 913h0M788 914h0M495 906h0M664 912h0M656 911h0M700 905h0M328 912h0M647 910h0M322 910h0M486 911h0M148 909h0M503 908h0M602 907h0M537 914h0M524 910h0M532 904h0M283 910h0M894 904h0M514 913h0M581 912h0M350 905h0M328 907h0M319 910h0M318 907h0M472 905h0M445 913h0M506 907h0M228 908h0M232 908h0M716 909h0M631 908h0M228 915h0M564 907h0M682 905h0M330 904h0M922 913h0M273 905h0M489 905h0M745 906h0M446 910h0M370 915h0M646 904h0M819 905h0M450 904h0M790 910h0M830 904h0M157 908h0M646 906h0M414 915h0M659 908h0M638 915h0M355 904h0M431 907h0M616 906h0M818 909h0M366 906h0M586 910h0M339 916h0M666 916h0M402 910h0M416 905h0M218 906h0M346 910h0M381 907h0M147 912h0M360 904h0M486 915h0M439 913h0M393 904h0M182 909h0M330 906h0M819 914h0M452 911h0M476 911h0M372 913h0M404 904h0M912 905h0M794 906h0M652 907h0M210 908h0M858 913h0M226 910h0M282 912h0M666 912h0M444 913h0M702 904h0M640 907h0M892 908h0M746 910h0M631 904h0M684 904h0M857 910h0M228 913h0M340 909h0M232 912h0M344 915h0M438 906h0M324 907h0M192 909h0M684 916h0M166 906h0M680 905h0M638 906h0M620 910h0M757 908h0M837 912h0M686 911h0M467 907h0M676 913h0M459 915h0M526 912h0M405 912h0M266 904h0M790 906h0M327 906h0M273 910h0M327 916h0" stroke="#e52219" stroke-width="4.6" stroke-linecap="round" fill="none"/>
<path transform="scale(.5)" d="M351 905h0M722 908h0M356 909h0M324 911h0M834 910h0M718 909h0M156 909h0M320 913h0M351 914h0M392 911h0M812 905h0M138 911h0M792 911h0M458 909h0M914 907h0M825 914h0M468 912h0M734 915h0M289 912h0M832 908h0M456 914h0M462 906h0M454 907h0M278 914h0M537 914h0M476 914h0M714 906h0M180 915h0M476 907h0M230 916h0M689 913h0M186 905h0M663 905h0M471 913h0M691 911h0M492 904h0M860 904h0M168 911h0M782 909h0M866 905h0M234 915h0M333 914h0M792 908h0M641 911h0M832 913h0M367 914h0M396 907h0M289 905h0M376 910h0M844 914h0M920 905h0M443 911h0M920 910h0M780 910h0M408 911h0M528 906h0M511 911h0M238 908h0M250 907h0M294 906h0M662 914h0M854 904h0M522 905h0M780 914h0M188 906h0M621 910h0M456 906h0M411 908h0M734 913h0M284 911h0M192 913h0M455 911h0M460 912h0M834 908h0M668 915h0M696 913h0M442 906h0M689 909h0M230 906h0M656 908h0M685 910h0M326 911h0M692 915h0M864 907h0M868 905h0M369 909h0M813 908h0M834 913h0M482 915h0M190 905h0M692 904h0M588 914h0M484 910h0M244 908h0M182 907h0M169 910h0M424 914h0M528 911h0M782 911h0M279 912h0M222 915h0M380 912h0M790 913h0M186 909h0M456 908h0M424 910h0M398 905h0M493 913h0M686 916h0M739 909h0M895 910h0M376 906h0M338 905h0M757 905h0M646 910h0M288 909h0M687 909h0M434 904h0M452 908h0M286 906h0M434 906h0M489 912h0M509 906h0M502 907h0M482 906h0M762 905h0M426 906h0M333 912h0M812 911h0M436 904h0M261 914h0M482 912h0M480 908h0M690 916h0M376 914h0M593 905h0M492 910h0M704 907h0M344 905h0M588 907h0M879 914h0M169 908h0M186 914h0M439 909h0M224 909h0M196 906h0M527 908h0M278 909h0M750 906h0M276 907h0M814 913h0M689 906h0M372 904h0M476 904h0M532 912h0M662 909h0M481 913h0M888 908h0M436 911h0M168 916h0M721 913h0M266 908h0M532 906h0M561 909h0M762 908h0M738 914h0M197 909h0M696 910h0M780 906h0M548 906h0M134 906h0M566 907h0M211 907h0M878 909h0M660 910h0M261 906h0M147 907h0M883 916h0M886 909h0M542 907h0M244 910h0M460 910h0M373 909h0M805 906h0M424 905h0M319 907h0M888 906h0M797 904h0M756 915h0M762 904h0M924 906h0M696 912h0M474 911h0M462 910h0M140 909h0M262 909h0M495 910h0M478 905h0M844 912h0M883 909h0M546 914h0M857 910h0M467 907h0M482 909h0M561 915h0M176 907h0M706 905h0M462 916h0M700 908h0M694 911h0M401 909h0M192 907h0M878 906h0M602 915h0M862 905h0M416 909h0M844 907h0M402 904h0M700 912h0M839 908h0M170 905h0M284 915h0M794 912h0M821 910h0M734 909h0M238 913h0M454 913h0M443 905h0M172 907h0M588 909h0M759 904h0M527 916h0M492 907h0M812 909h0M883 911h0M539 909h0M357 911h0M512 907h0M362 908h0M442 916h0M392 907h0M792 914h0M768 909h0M277 904h0M834 904h0M518 905h0M329 909h0M559 910h0M334 905h0" stroke="#4b7cd0" stroke-width="4.6" stroke-linecap="round" fill="none"/>
<path transform="scale(.5)" d="M185 857h0M417 888h0M334 877h0M446 882h0M364 892h0M635 855h0M284 843h0M528 882h0M825 898h0M592 835h0M862 899h0M825 885h0M690 900h0M601 884h0M254 891h0M494 885h0M647 876h0M417 892h0M278 895h0M494 891h0M859 836h0M855 839h0M878 879h0M734 886h0M316 870h0M780 862h0M592 836h0M597 891h0M510 862h0M422 883h0M254 854h0M754 866h0M509 834h0M453 867h0M834 894h0M382 856h0M370 895h0M186 870h0M883 903h0M518 884h0M494 889h0M781 862h0M485 886h0M269 878h0M829 838h0M768 864h0M828 893h0M764 879h0M824 851h0M738 900h0M702 855h0M371 869h0M928 898h0M130 889h0M334 869h0M446 870h0M622 831h0M620 838h0M407 889h0M289 842h0M561 869h0M171 857h0M606 862h0M175 894h0M634 868h0M316 894h0M840 873h0M217 842h0M848 892h0M236 849h0M753 896h0M635 890h0M863 876h0M167 872h0M458 864h0M222 880h0M482 862h0M751 879h0M831 881h0M375 879h0M168 856h0M429 883h0M603 902h0M581 892h0M332 846h0M276 900h0M236 871h0M439 899h0M720 877h0M208 893h0M689 895h0M302 902h0M822 866h0M316 865h0M188 898h0M189 878h0M447 846h0M278 844h0M474 858h0M186 882h0M494 873h0M700 889h0M512 856h0M723 860h0M283 882h0M834 902h0M219 899h0M206 862h0M929 853h0M208 882h0M729 896h0M582 902h0M128 839h0M804 872h0M796 839h0M278 892h0M190 880h0M252 865h0M276 873h0M283 892h0M584 870h0M625 864h0M384 855h0M127 893h0M866 876h0M140 879h0M762 869h0M434 885h0M489 897h0M272 877h0M834 881h0M910 880h0M362 862h0M544 837h0M780 874h0M930 895h0M751 869h0M620 881h0M288 893h0M731 840h0M196 892h0M140 861h0M882 882h0M314 852h0M804 881h0M480 903h0M204 884h0M696 887h0M178 899h0M146 898h0M154 900h0M166 874h0M582 882h0M528 870h0M475 896h0M208 870h0M892 825h0M362 855h0M834 868h0M888 898h0M146 891h0M208 885h0M192 880h0M712 890h0M362 864h0M498 889h0M836 897h0M713 892h0M229 886h0M129 850h0M237 824h0M871 882h0M270 875h0M333 855h0M930 883h0M286 892h0M415 840h0M930 875h0M514 864h0M754 880h0M872 891h0M640 864h0M456 893h0M281 885h0M173 871h0M180 837h0M887 833h0M342 887h0M184 829h0M534 883h0M621 903h0M510 876h0M240 896h0M364 867h0M859 828h0M455 897h0M272 889h0M158 866h0M422 898h0M787 858h0M794 896h0M768 860h0M177 861h0M510 871h0M857 853h0M289 890h0M928 878h0M422 857h0M747 852h0M146 894h0M345 878h0M442 890h0M654 829h0M713 864h0M580 881h0M132 848h0M681 835h0M204 831h0M196 900h0M351 889h0M261 850h0M745 878h0M386 897h0M895 869h0M798 880h0M716 878h0M333 885h0M364 847h0M753 872h0M727 903h0M611 893h0M303 883h0M811 897h0M859 883h0M620 883h0M213 846h0M723 898h0M150 893h0M646 856h0M556 903h0M561 866h0M154 893h0M318 842h0M927 865h0M731 870h0M201 857h0M883 896h0M843 859h0M928 869h0M635 895h0M796 864h0M255 831h0M374 869h0M404 870h0M168 848h0M462 888h0M528 851h0M541 867h0M139 882h0M295 877h0M333 876h0M462 897h0M422 871h0M482 898h0M362 903h0M314 902h0M272 891h0M751 888h0M777 901h0M320 888h0M415 870h0M241 894h0M779 885h0M588 855h0M314 895h0M920 901h0M474 868h0M834 885h0M910 890h0M814 900h0M324 890h0M731 834h0M738 895h0M906 884h0M739 888h0M632 855h0M178 867h0M456 885h0M792 884h0M134 893h0M828 870h0M312 851h0M480 901h0M274 858h0M351 902h0M746 887h0M859 847h0M333 899h0M787 874h0M293 875h0M187 874h0M544 895h0M854 892h0M436 862h0M667 858h0M534 872h0M494 868h0M822 878h0M311 890h0M622 895h0M334 901h0M510 901h0M660 873h0M482 904h0M331 856h0M444 891h0M842 882h0M147 852h0M324 848h0M654 899h0M272 863h0M706 881h0M212 835h0M834 857h0M835 902h0M316 885h0M168 861h0M750 898h0M482 882h0M859 824h0M283 885h0M482 894h0M132 861h0M429 840h0M848 887h0M272 882h0M862 895h0M422 866h0M492 892h0M248 854h0M494 902h0M494 825h0M132 893h0M754 868h0M518 892h0M528 886h0M126 874h0M642 855h0M881 890h0M498 886h0M788 852h0M196 881h0M186 889h0M924 901h0M646 881h0M368 902h0M620 887h0M420 855h0M256 896h0M910 877h0M364 882h0M702 878h0M788 886h0M734 876h0M207 845h0M750 877h0M176 901h0M423 831h0M642 887h0M560 883h0M624 890h0M454 878h0M293 869h0M701 896h0M282 897h0M888 888h0M442 895h0M824 873h0M576 896h0M355 895h0M863 832h0M401 878h0M470 899h0M644 872h0M752 889h0M228 867h0M518 852h0M200 897h0M653 847h0M456 901h0M617 873h0M499 869h0M498 873h0M186 900h0M683 900h0M384 886h0M860 888h0M510 892h0M598 892h0M482 875h0M724 886h0M766 894h0M588 897h0M132 895h0M349 882h0M309 836h0M560 840h0M912 895h0M470 882h0M198 899h0M795 843h0M236 889h0M583 874h0M790 901h0M140 853h0M694 851h0M286 877h0M674 903h0M439 841h0M824 864h0M198 894h0M908 848h0M422 863h0M316 875h0M474 903h0M204 886h0M176 887h0M865 892h0M514 877h0M331 858h0M832 897h0M886 883h0M584 866h0M272 884h0M745 843h0M482 880h0M327 875h0M140 902h0M828 872h0M779 849h0M132 874h0M888 902h0M426 883h0M303 873h0M894 886h0M880 890h0M625 868h0M687 867h0M689 883h0M696 886h0M816 891h0M355 873h0M332 895h0M246 894h0M480 896h0M334 885h0M516 880h0M243 854h0M196 891h0M476 885h0M646 888h0M415 857h0M716 881h0M285 874h0M437 872h0M910 885h0M756 830h0M881 850h0M502 895h0M252 897h0M768 886h0M288 880h0M334 860h0M313 873h0M591 870h0M200 842h0M706 866h0M842 871h0M460 896h0M261 876h0M689 886h0M193 831h0M474 899h0M930 893h0M575 866h0M220 884h0M228 881h0M642 898h0M278 898h0M746 867h0M754 900h0M390 897h0M312 877h0M198 877h0M840 838h0M438 883h0M472 881h0M494 852h0M140 864h0M777 849h0M468 890h0M604 883h0M800 894h0M824 844h0M470 847h0M541 839h0M518 898h0M759 867h0M888 879h0M303 842h0M198 880h0M315 848h0M195 869h0M132 868h0M828 850h0M734 896h0M154 889h0M554 892h0M510 873h0M370 875h0M422 896h0M434 877h0M179 817h0M834 848h0M192 900h0M288 876h0M219 892h0M358 893h0M625 897h0M474 894h0M294 903h0M528 835h0M445 861h0M560 861h0M454 868h0M345 898h0M824 854h0M752 860h0M836 878h0M751 851h0M377 836h0M792 870h0M780 869h0M510 884h0M328 876h0M406 873h0M476 900h0M632 837h0M701 900h0M751 861h0M459 880h0M299 867h0M380 902h0M249 901h0M442 903h0M823 838h0M694 862h0M333 880h0M844 899h0M637 879h0M579 896h0M151 888h0M212 901h0M577 865h0M824 878h0M792 897h0M199 843h0M804 897h0M272 894h0M474 884h0M202 832h0M696 896h0M140 893h0M768 859h0M859 860h0M592 856h0M204 876h0M676 901h0M486 896h0M792 892h0M482 871h0M723 894h0M602 892h0M705 900h0M330 885h0M184 901h0M215 853h0M422 903h0M607 853h0M180 884h0M758 891h0M734 881h0M665 897h0M454 843h0M703 878h0M219 856h0M634 880h0M326 892h0M758 898h0M860 868h0M186 885h0M832 893h0M194 884h0M828 876h0M333 890h0M494 882h0M154 847h0M140 876h0M672 896h0M519 874h0M911 859h0M543 869h0M502 898h0M677 901h0M576 903h0M494 857h0M684 886h0M832 874h0M768 872h0M442 899h0M405 893h0M464 870h0M501 862h0M486 876h0M198 884h0M193 901h0M494 860h0M140 887h0M221 876h0M208 873h0M150 890h0M394 885h0M871 866h0M376 890h0M399 859h0M438 855h0M475 890h0M766 890h0M323 847h0M577 902h0M833 858h0M510 888h0M636 850h0M439 896h0M635 883h0M633 866h0M382 898h0M284 867h0M681 859h0M705 862h0M652 902h0M499 821h0M859 831h0M373 895h0M481 892h0M768 867h0M560 857h0M296 889h0M420 900h0M656 898h0M767 884h0M863 891h0M278 902h0M909 843h0M556 895h0M294 894h0M186 858h0M352 898h0M475 887h0M277 888h0M219 888h0M637 873h0M922 902h0M321 889h0M154 832h0M752 902h0M289 897h0M510 895h0M911 835h0M861 833h0M467 879h0M559 842h0M494 899h0M793 854h0M862 873h0M283 897h0M635 876h0M442 881h0M292 848h0M700 864h0M560 833h0M356 834h0M792 887h0M456 875h0M758 887h0M752 874h0M860 896h0M734 871h0M198 887h0M476 882h0M201 883h0M244 897h0M561 861h0M764 890h0M514 891h0M474 887h0M859 875h0M455 871h0M176 888h0M333 859h0M700 881h0M418 871h0M500 885h0M578 865h0M528 891h0M714 879h0M283 889h0M859 850h0M837 894h0M178 890h0M724 869h0M398 884h0M288 886h0M792 874h0M177 814h0M577 850h0M372 900h0M888 883h0M606 888h0M378 851h0M380 888h0M182 885h0M353 873h0M186 866h0M418 878h0M641 900h0M476 879h0M680 903h0M180 876h0M700 840h0M839 876h0M752 866h0M533 877h0M800 850h0M292 903h0M700 860h0M642 883h0M355 884h0M186 861h0M895 824h0M453 894h0M768 895h0M186 853h0M823 836h0M527 902h0M859 834h0M201 845h0M588 887h0M272 903h0M779 891h0M237 843h0M355 899h0M700 867h0M565 873h0M132 877h0M244 880h0M188 895h0M723 865h0M910 899h0M576 890h0M731 899h0M857 866h0M662 901h0M317 859h0M721 851h0M197 861h0M576 886h0M868 887h0M670 895h0M620 865h0M735 889h0M834 892h0M178 862h0M847 901h0M499 884h0M624 902h0M700 891h0M316 892h0M238 883h0M560 848h0M198 903h0M824 840h0M186 898h0M544 873h0M184 884h0M802 879h0M787 858h0M186 896h0M504 903h0M699 903h0M424 900h0M357 868h0M796 867h0M506 875h0M780 888h0M453 886h0M912 862h0M429 871h0M302 832h0M723 902h0M887 839h0M723 890h0M888 868h0M169 882h0M725 876h0M132 880h0M894 861h0M780 896h0M463 879h0M150 897h0M751 828h0M602 874h0M320 896h0M662 892h0M753 891h0M382 890h0M147 866h0M588 900h0M692 888h0M542 886h0M691 878h0M687 902h0M693 876h0M678 897h0M824 892h0M272 899h0M261 894h0M398 899h0M528 894h0M588 895h0M682 902h0M673 856h0M751 847h0M802 870h0M717 853h0M147 876h0M132 864h0M237 839h0M834 879h0M867 853h0M422 875h0M844 890h0M552 897h0M532 894h0M746 827h0M272 866h0M158 889h0M178 872h0M181 874h0M405 885h0M912 886h0M678 889h0M355 878h0M204 881h0M685 892h0M178 877h0M822 900h0M128 854h0M850 892h0M474 880h0M656 894h0M474 897h0M491 834h0M198 891h0M600 831h0M375 898h0M930 900h0M426 897h0M166 887h0M406 883h0M494 850h0M210 890h0M560 893h0M268 863h0M199 828h0M364 896h0M277 883h0M888 895h0M531 890h0M839 868h0M834 889h0M491 901h0M408 903h0M909 827h0M474 890h0M606 904h0M643 866h0M813 889h0M921 896h0M481 887h0M268 901h0M797 860h0M158 858h0M428 826h0M382 880h0M454 881h0M656 903h0M385 841h0M307 869h0M862 875h0M670 881h0M816 896h0M652 900h0M767 881h0M132 856h0M238 881h0M518 895h0M867 846h0M204 893h0M277 866h0M482 885h0M154 854h0M306 871h0M455 857h0M340 889h0M152 885h0M306 886h0M394 870h0M178 885h0M240 901h0M750 894h0M778 885h0M191 891h0M341 875h0M238 902h0M456 881h0M550 886h0M405 867h0M382 861h0M375 882h0M421 879h0M141 898h0M502 890h0M768 900h0M147 851h0M684 902h0M750 903h0M222 885h0M442 897h0M440 898h0M129 851h0M758 835h0M126 887h0M186 876h0M649 854h0M611 881h0M657 900h0M210 875h0M470 871h0M734 893h0M484 893h0M456 878h0M920 899h0M539 900h0M753 855h0M554 896h0M511 846h0M150 902h0M857 832h0M405 898h0M367 881h0M860 901h0M273 897h0M676 897h0M302 893h0M339 896h0M370 894h0M168 846h0M355 870h0M303 886h0M857 904h0M663 892h0M194 896h0M825 858h0M261 879h0M158 858h0M594 872h0M334 859h0M816 889h0M834 898h0M750 883h0M662 895h0M494 894h0M379 849h0M859 878h0M297 869h0M859 857h0M859 871h0M554 880h0M197 897h0M700 886h0M824 869h0M273 872h0M623 898h0M128 893h0M395 884h0M783 877h0M244 839h0M276 871h0M630 865h0M897 849h0M798 870h0M859 855h0M454 843h0M890 872h0M787 903h0M312 892h0M316 899h0M542 874h0M890 837h0M135 882h0M642 874h0M798 872h0M600 850h0M724 872h0M676 858h0M422 873h0M494 845h0M612 858h0M752 866h0M442 871h0M642 892h0M888 884h0M824 887h0M735 874h0M760 846h0M758 895h0M369 901h0M194 884h0M880 904h0M422 886h0M752 892h0M707 856h0M479 899h0M548 876h0M930 879h0M247 866h0M837 900h0M140 884h0M642 879h0M283 878h0M233 888h0M870 897h0M471 836h0M634 888h0M131 888h0M454 870h0M763 903h0M632 874h0M879 877h0M393 900h0M244 892h0M368 883h0M593 894h0M928 900h0M630 853h0M930 888h0M481 867h0M132 898h0M272 869h0M417 894h0M140 849h0M186 893h0M265 898h0M602 900h0M180 890h0M821 875h0M492 881h0M780 899h0M238 899h0M429 854h0M724 884h0M262 902h0M561 886h0M236 846h0M392 859h0M326 884h0M546 852h0" stroke="#4880de" stroke-width="4.6" stroke-linecap="round" fill="none"/>
<path transform="scale(.5)" d="M174 902h0M637 868h0M226 897h0M428 896h0M363 889h0M391 866h0M334 864h0M184 872h0M815 865h0M840 888h0M204 871h0M463 902h0M313 857h0M464 859h0M328 884h0M408 864h0M152 896h0M146 886h0M886 866h0M386 893h0M363 839h0M593 869h0M614 891h0M413 862h0M344 888h0M686 896h0M600 899h0M389 881h0M646 843h0M577 859h0M248 903h0M497 892h0M326 885h0M454 890h0M830 866h0M355 877h0M405 889h0M326 885h0M337 874h0M828 899h0M328 889h0M628 896h0M525 897h0M500 866h0M804 855h0M867 885h0M604 900h0M503 857h0M202 876h0M818 893h0M346 888h0M320 873h0M820 888h0M418 875h0M318 884h0M656 891h0M131 872h0M810 859h0M663 859h0M659 901h0M153 843h0M392 900h0M664 903h0M821 881h0M255 883h0M318 892h0M496 872h0M864 897h0M728 900h0M299 898h0M166 882h0M646 876h0M210 866h0M314 887h0M282 900h0M190 897h0M221 889h0M648 899h0M580 900h0M680 891h0M371 873h0M510 867h0M495 866h0M624 899h0M326 874h0M310 894h0M798 892h0M260 888h0M788 882h0M655 895h0M610 860h0M188 883h0M295 885h0M418 856h0M705 893h0M618 895h0M726 880h0M314 878h0M202 862h0M816 879h0M706 893h0M554 875h0M214 901h0M757 867h0M345 884h0M798 854h0M754 878h0M514 887h0M284 864h0M795 860h0M169 830h0M254 889h0M355 890h0M328 864h0M838 898h0M517 865h0M183 881h0M191 886h0M496 874h0M334 899h0M843 901h0M754 884h0M867 869h0M312 894h0M610 895h0M731 901h0M238 864h0M206 888h0M292 867h0M489 863h0M344 884h0M820 867h0M362 871h0M688 889h0M732 862h0M516 903h0M766 870h0M148 891h0M459 893h0M628 887h0M461 894h0M516 882h0M466 903h0M444 889h0M713 880h0M145 896h0M836 886h0M200 870h0M318 879h0M856 895h0M717 898h0M731 887h0M620 900h0M908 854h0M612 872h0M614 872h0M764 889h0M236 845h0M342 891h0M584 898h0M516 891h0M460 898h0M303 871h0M840 900h0M908 902h0M672 868h0M798 865h0M726 872h0M168 874h0M330 898h0M354 898h0M704 887h0M228 904h0M548 898h0M620 894h0M856 881h0M192 887h0M342 869h0M360 893h0M926 886h0M576 898h0M867 893h0M302 855h0M219 893h0M141 873h0M186 878h0M832 890h0M632 890h0M248 891h0M382 856h0M553 838h0M180 887h0M501 900h0M542 891h0M158 902h0M752 881h0M557 899h0M878 870h0M154 880h0M292 900h0M514 897h0M858 896h0M641 879h0M746 901h0M132 843h0M212 894h0M270 886h0M890 877h0M334 883h0M392 896h0M856 855h0M352 893h0M418 892h0M323 898h0M379 856h0M467 895h0M282 873h0M640 882h0M513 853h0M613 865h0M611 887h0M230 898h0M790 872h0M251 902h0M349 896h0M788 865h0M514 860h0M316 889h0M866 845h0M158 899h0M746 896h0M201 875h0M261 864h0M290 884h0M675 837h0M373 890h0M509 886h0M747 866h0M628 857h0M184 867h0M606 866h0M503 867h0M373 857h0M886 868h0M644 884h0M390 900h0M333 904h0M210 878h0M360 891h0M401 889h0M744 901h0M703 856h0M248 893h0M776 894h0M680 896h0M664 874h0M757 873h0M841 844h0M584 862h0M908 859h0M396 902h0M857 885h0M438 875h0M422 870h0M844 885h0M779 848h0M380 890h0M145 858h0M196 903h0M470 877h0M491 866h0M192 872h0M237 866h0M292 896h0M830 898h0M232 894h0M265 883h0M676 893h0M908 875h0M548 895h0M856 877h0M791 866h0M462 881h0M495 880h0M754 903h0M604 885h0M128 878h0M420 881h0M655 891h0M878 883h0M420 878h0M189 889h0M718 901h0M792 903h0M472 901h0M654 879h0M818 889h0M380 879h0M196 856h0M380 868h0M879 900h0M724 861h0M908 881h0M624 894h0M437 862h0M228 890h0M768 883h0M322 878h0M377 829h0M134 890h0M505 876h0M706 848h0M302 878h0M312 870h0M734 862h0M324 882h0M227 881h0M485 891h0M182 888h0M388 892h0M506 892h0M762 892h0M593 892h0M833 868h0M166 894h0M506 866h0M542 882h0M486 900h0M585 903h0M592 845h0M291 871h0M606 894h0M556 879h0M378 892h0M715 891h0M217 842h0M856 847h0M616 902h0M791 879h0M278 891h0M796 857h0M790 884h0M623 892h0M866 823h0M230 865h0M420 896h0M210 870h0M616 898h0M882 870h0M656 889h0M514 872h0M557 885h0M200 885h0M490 899h0M560 900h0M508 897h0M705 891h0M364 870h0M491 888h0M534 888h0M584 883h0M697 887h0M848 896h0M644 895h0M550 892h0M128 875h0M786 890h0M804 883h0M842 890h0M836 882h0M324 894h0M553 862h0M746 869h0M631 873h0M320 891h0M562 858h0M826 896h0M689 892h0M683 873h0M197 844h0M215 895h0M132 851h0M501 877h0M804 874h0M433 884h0M655 859h0M611 880h0M641 869h0M896 888h0M713 874h0M352 885h0M375 903h0M600 866h0M384 858h0M386 872h0M361 860h0M136 886h0M608 866h0M314 869h0M270 903h0M714 903h0M256 898h0M782 892h0M143 874h0M558 892h0M240 880h0M506 880h0M318 902h0M739 849h0M532 897h0M630 858h0M856 902h0M200 903h0M332 859h0M606 901h0M472 899h0M508 855h0M672 867h0M234 887h0M269 879h0M303 861h0M867 883h0M561 900h0M442 859h0M867 879h0M820 878h0M440 896h0M680 877h0M801 888h0M144 868h0M128 864h0M504 900h0M344 901h0M736 873h0M178 903h0M144 886h0M617 887h0M348 844h0M466 891h0M343 867h0M720 895h0M407 873h0M230 861h0M759 884h0M906 882h0M682 857h0M854 900h0M703 898h0M230 903h0M818 896h0M422 891h0M474 854h0M647 902h0M908 891h0M231 867h0M184 897h0M816 872h0M440 890h0M470 868h0M290 888h0M398 896h0M381 869h0M906 896h0M259 861h0M141 890h0M446 894h0M908 871h0M233 875h0M704 884h0M292 872h0M178 857h0M370 887h0M764 892h0M188 902h0M442 876h0M644 897h0M460 882h0M726 901h0M859 843h0M648 892h0M481 884h0M492 898h0M913 867h0M557 866h0M245 837h0M660 888h0M597 879h0M434 899h0M705 890h0M380 894h0M467 903h0M404 878h0M593 887h0M225 882h0M403 870h0M306 881h0M230 890h0M816 886h0M318 876h0M895 884h0M811 834h0M140 857h0M512 890h0M549 891h0M637 832h0M658 897h0M290 858h0M255 890h0M797 869h0M437 870h0M230 872h0M894 854h0M402 901h0M730 889h0M520 892h0M229 899h0M330 879h0M891 858h0M705 864h0M731 880h0M581 884h0M891 863h0M866 898h0M489 892h0M878 874h0M700 856h0M339 882h0M505 883h0M644 888h0M646 853h0M384 891h0M544 871h0M560 866h0M534 880h0M798 863h0M871 862h0M646 832h0M655 860h0M287 863h0M790 896h0M734 900h0M420 893h0M654 881h0M462 901h0M508 877h0M350 892h0M129 855h0M514 884h0M401 882h0M444 894h0M154 882h0M746 864h0M731 890h0M467 887h0M646 900h0M514 868h0M764 896h0M757 889h0M291 837h0M728 856h0M930 859h0M842 886h0M928 902h0M886 875h0M638 891h0M206 872h0M448 902h0M292 843h0M364 861h0M767 833h0M364 889h0M660 891h0M131 850h0M296 880h0M610 898h0M560 844h0M412 894h0M451 903h0M222 896h0M891 870h0M767 887h0M398 893h0M599 877h0M303 903h0M614 887h0M330 893h0M470 831h0M177 870h0M384 897h0M625 849h0M130 893h0M418 873h0M714 886h0M328 878h0M218 880h0M886 855h0M802 897h0M801 898h0M342 870h0M631 896h0M830 872h0M222 871h0M460 891h0M515 876h0M436 882h0M612 867h0M194 888h0M362 893h0M908 885h0M494 879h0M168 899h0M648 888h0M814 862h0M631 894h0M328 868h0M506 889h0M230 856h0M530 901h0M422 854h0M912 875h0M620 877h0M513 860h0M609 882h0M856 889h0M751 866h0M364 898h0M731 866h0M464 896h0M255 862h0M200 866h0M276 882h0M788 896h0M442 844h0M336 892h0M703 876h0M453 895h0M330 862h0M152 830h0M416 887h0M278 887h0M154 865h0M614 875h0M244 889h0M548 901h0M534 872h0M194 894h0M394 889h0M307 896h0M879 890h0M384 862h0M638 854h0M154 851h0M236 877h0M838 904h0M130 897h0M506 897h0M906 863h0M136 872h0M547 863h0M236 864h0M659 858h0M368 889h0M380 857h0M248 884h0M303 897h0M324 892h0M243 864h0M261 839h0M202 874h0M206 858h0M744 898h0M608 902h0M646 884h0M383 878h0M863 886h0M152 893h0M398 860h0M359 870h0M338 902h0M175 879h0M912 880h0M758 903h0M460 886h0M586 848h0M246 899h0M126 883h0M191 859h0M499 882h0M210 892h0M594 897h0M317 889h0M312 897h0M365 886h0M716 902h0M143 842h0M382 901h0M766 868h0M870 890h0M926 860h0M370 891h0M775 892h0M231 901h0M845 883h0M603 896h0M325 884h0M152 863h0M592 882h0M844 868h0M222 857h0M629 876h0M295 892h0M815 882h0M497 881h0M705 886h0M364 865h0M417 902h0M338 885h0M144 893h0M386 841h0M866 887h0M474 875h0M341 904h0M268 904h0M516 896h0M642 862h0M755 832h0M821 862h0M655 863h0M387 876h0M919 865h0M317 858h0M758 874h0M235 857h0M183 870h0M644 875h0M664 882h0M620 903h0M735 837h0M553 886h0M334 895h0M505 863h0M667 901h0M601 823h0M471 862h0M128 873h0M200 894h0M302 897h0M890 899h0M556 885h0M883 892h0M470 884h0M496 887h0M370 879h0M496 901h0M788 860h0M687 890h0M718 893h0M867 891h0M779 879h0M554 889h0M340 874h0M540 888h0M324 880h0M906 852h0M844 856h0M756 902h0M731 850h0M258 882h0M379 879h0M135 893h0M519 881h0M843 855h0M548 890h0M421 876h0M143 843h0M200 844h0M254 878h0M168 903h0M515 879h0M417 897h0M189 861h0M637 897h0M591 865h0M779 896h0M866 879h0M600 879h0M306 876h0M887 850h0M637 884h0M731 888h0M298 894h0M180 897h0M346 892h0M492 855h0M744 889h0M365 858h0M300 870h0M260 883h0M626 891h0M632 860h0M777 890h0M432 884h0M414 877h0M801 854h0M714 899h0M446 888h0M192 903h0M334 853h0M398 877h0M692 884h0M669 858h0M340 901h0M380 875h0M730 901h0M886 857h0M408 898h0M312 881h0M897 894h0M183 862h0M489 889h0M380 884h0M620 877h0M248 878h0M147 886h0M499 900h0M242 898h0M612 891h0M386 836h0M706 897h0M290 892h0M276 877h0M470 875h0M230 879h0M341 897h0M389 903h0M210 864h0M269 893h0M606 885h0M135 891h0M890 894h0M586 902h0M566 861h0M587 891h0M600 871h0M646 865h0M565 889h0M280 902h0M383 894h0M456 866h0M881 866h0M218 848h0M676 850h0M890 886h0M152 880h0M628 881h0M434 882h0M420 888h0M646 902h0M406 897h0M658 864h0M694 899h0M255 884h0M328 859h0M634 872h0M166 898h0M800 865h0M464 867h0M201 856h0M294 899h0M434 888h0M624 888h0M420 886h0M888 892h0M468 865h0M883 895h0M384 838h0M926 882h0M782 901h0M725 855h0M611 838h0M428 867h0M826 893h0M248 882h0M438 847h0M549 894h0M423 852h0M516 899h0M870 875h0M131 854h0M600 861h0M216 874h0M766 899h0M554 858h0M664 858h0M640 875h0M148 880h0M216 888h0M778 899h0M200 889h0M816 894h0M281 871h0M387 831h0M428 845h0M854 879h0M427 890h0M928 893h0M584 893h0M713 870h0M282 903h0M231 886h0M675 881h0M146 858h0M194 891h0M702 893h0M258 880h0M202 885h0M246 897h0M895 896h0M845 870h0M671 899h0M744 869h0M786 894h0M750 869h0M344 900h0M168 858h0M635 900h0M316 862h0M492 875h0M910 873h0M158 884h0M212 887h0M382 887h0M216 900h0M781 853h0M252 894h0M361 877h0M593 890h0M698 871h0M351 881h0M670 889h0M671 889h0M631 893h0M397 897h0M604 895h0M678 892h0M187 859h0M746 874h0M338 858h0M130 881h0M234 902h0M605 898h0M731 884h0M563 847h0M449 868h0M135 897h0M534 896h0M498 877h0M746 877h0M476 878h0M340 892h0M523 901h0M867 873h0M690 880h0M879 887h0M859 865h0M682 869h0M332 871h0M318 898h0M432 889h0M495 877h0M218 875h0M238 869h0M398 885h0M726 888h0M647 874h0M590 896h0M216 902h0M688 879h0M747 843h0M712 859h0M334 874h0M296 872h0M270 883h0M232 873h0M502 883h0M660 836h0M628 901h0M500 889h0M521 899h0M496 884h0M463 860h0M243 899h0M717 886h0M664 900h0M258 889h0M504 896h0M289 902h0M183 897h0M470 901h0M158 875h0M380 898h0M389 871h0M750 891h0M382 894h0M856 892h0M767 876h0M782 898h0M417 837h0M637 876h0M789 859h0M248 875h0M135 901h0M218 867h0M353 880h0M259 871h0M324 888h0M744 882h0M226 885h0M468 868h0M412 902h0M745 865h0M578 879h0M678 876h0M544 855h0M868 867h0M606 880h0M314 898h0M614 895h0M687 893h0M405 900h0M292 857h0M337 854h0M228 879h0M418 882h0M564 896h0M168 866h0M404 875h0M788 888h0M267 867h0M702 883h0M341 895h0M152 873h0M200 864h0M713 896h0M754 889h0M787 898h0M296 862h0M434 872h0M612 879h0M707 847h0M501 859h0M563 840h0M866 901h0M729 891h0M641 869h0M620 889h0M429 891h0M385 846h0M255 872h0M409 881h0M659 855h0M560 891h0M894 875h0M854 881h0M724 881h0M652 894h0M462 892h0M793 899h0M886 852h0M661 888h0M825 881h0M520 884h0M575 856h0M295 887h0M311 834h0M767 878h0M336 902h0M548 887h0M244 860h0M328 882h0M266 901h0M654 904h0M383 881h0M603 879h0M184 836h0M604 887h0M359 885h0M928 867h0M323 902h0M233 899h0M296 870h0M584 831h0M558 896h0M352 879h0M752 898h0M812 895h0M912 874h0M728 891h0M676 880h0M472 896h0M694 886h0M790 886h0M418 884h0M389 861h0M130 883h0M694 896h0M614 883h0M506 878h0M835 889h0M630 884h0M354 885h0M244 832h0M533 873h0M927 859h0M222 891h0M884 883h0M838 895h0M600 826h0M248 887h0M884 887h0M378 851h0M296 895h0M906 887h0M258 880h0M896 893h0M794 902h0M646 847h0M206 879h0M253 871h0M608 883h0M578 873h0M510 898h0M680 873h0M436 894h0M584 850h0M208 868h0M378 872h0M233 861h0M812 903h0M813 889h0M460 901h0M907 824h0M157 888h0M886 895h0M868 882h0M552 870h0M326 854h0M780 864h0M444 896h0M192 895h0M858 899h0M660 883h0M438 888h0M319 900h0M548 872h0M544 900h0M447 870h0M651 898h0M896 885h0M856 862h0M392 869h0M648 896h0M373 900h0M438 885h0M274 870h0M882 901h0M439 891h0M829 868h0M349 895h0M154 868h0M928 883h0M277 885h0M320 871h0M801 880h0M336 887h0M868 901h0M444 901h0M226 893h0M685 897h0M180 895h0M538 897h0M267 885h0M168 894h0M774 854h0M637 901h0M636 896h0M886 890h0M144 901h0M849 853h0M470 865h0M798 882h0M871 857h0M646 861h0M838 882h0M232 903h0M725 864h0M230 875h0M146 886h0M140 896h0M145 836h0M661 876h0M909 899h0M539 890h0M873 878h0M556 857h0M183 902h0M699 832h0M463 899h0M501 892h0M849 884h0M746 852h0M230 893h0M766 897h0M560 879h0M840 891h0M260 895h0M210 880h0M842 867h0M350 901h0M704 895h0M836 852h0M416 889h0M153 858h0M792 858h0M436 897h0M746 854h0M261 853h0M520 884h0M610 901h0M272 853h0M851 886h0M183 867h0M244 873h0M392 887h0M212 876h0M467 882h0M410 873h0M428 857h0M290 903h0M576 880h0M592 873h0M890 891h0M821 883h0M166 871h0M168 871h0M146 902h0M669 879h0M796 806h0M360 899h0M754 875h0M830 862h0M704 888h0M610 860h0M816 900h0M350 898h0M378 898h0M390 886h0M185 889h0M409 893h0M691 898h0M603 890h0M829 856h0M206 882h0M268 895h0M376 894h0M152 890h0M358 877h0M296 899h0M464 847h0M153 895h0M283 885h0M717 897h0M880 890h0M832 901h0M426 855h0M894 899h0M276 891h0M502 887h0M530 875h0M608 856h0M830 855h0M842 876h0M485 876h0M463 884h0M614 869h0M910 867h0M476 876h0M292 865h0M190 888h0M301 859h0M318 873h0M386 859h0M314 885h0M320 903h0M418 862h0M292 863h0M501 903h0M702 880h0M798 858h0M638 880h0M593 875h0M228 872h0M768 903h0M446 883h0M564 899h0M882 879h0M201 888h0M420 891h0M202 854h0M382 873h0M498 865h0M768 852h0M260 892h0M188 873h0M256 891h0M584 874h0M360 896h0M210 897h0M488 877h0M730 896h0M333 863h0M926 870h0M282 877h0M802 893h0M426 895h0M314 890h0M364 875h0M366 891h0M893 860h0M560 876h0M748 887h0M260 871h0M446 900h0M269 899h0M550 879h0M145 854h0M339 899h0M378 883h0M871 868h0M361 872h0M871 880h0M134 896h0M684 867h0M724 857h0M157 881h0M886 897h0M601 880h0M731 859h0M648 878h0M326 861h0M676 885h0M406 901h0M375 859h0M871 872h0M498 892h0M506 884h0M799 863h0M592 860h0M237 901h0M846 898h0M870 892h0M238 887h0M450 900h0M213 898h0M550 888h0M218 891h0M290 865h0M862 901h0M498 879h0M182 881h0M383 870h0M664 877h0M685 898h0M402 858h0M436 889h0M610 886h0M220 883h0M373 900h0M392 891h0M134 901h0M319 876h0M440 902h0M758 878h0M821 855h0M737 879h0M158 893h0M496 875h0M872 898h0M290 899h0M212 897h0M646 895h0M233 891h0M420 866h0M616 896h0M631 880h0M296 858h0M434 894h0M434 901h0M822 887h0M201 877h0M233 879h0M728 889h0M830 886h0M184 862h0M379 858h0M441 865h0M254 895h0M663 899h0M464 886h0M356 881h0M658 904h0M895 879h0M236 875h0M302 864h0M262 859h0M296 866h0M634 901h0M346 899h0M560 886h0M654 858h0M200 859h0M672 902h0M840 897h0M702 900h0M830 881h0M824 889h0M840 881h0M188 871h0M680 885h0M426 902h0M557 884h0M380 864h0M432 902h0M846 878h0M805 878h0M508 901h0M641 891h0M857 900h0M676 890h0M173 887h0M657 878h0M716 876h0M436 891h0M554 884h0M438 903h0M255 876h0M397 890h0M836 871h0M189 827h0M648 869h0M531 890h0M184 893h0M422 901h0M148 859h0M678 883h0M746 880h0M632 875h0M484 902h0M682 894h0M381 882h0M479 856h0M890 901h0M719 865h0M408 876h0M438 874h0M907 873h0M723 862h0M323 885h0M291 853h0M520 895h0M804 902h0M802 901h0M566 868h0M668 898h0M578 883h0M889 880h0M236 857h0M392 877h0M243 856h0M498 895h0M907 878h0M192 858h0M646 868h0M312 864h0M154 861h0M313 867h0M467 875h0M128 890h0M557 892h0M676 903h0M495 869h0M791 877h0M328 893h0M174 889h0M392 894h0M219 873h0M593 887h0M266 895h0M655 851h0M168 879h0M694 889h0M842 893h0M554 899h0M844 873h0M686 854h0M471 897h0M660 899h0M839 894h0M579 900h0M646 890h0M689 878h0M270 891h0M704 898h0M804 893h0M382 877h0M802 874h0M722 893h0M520 890h0M380 872h0M261 902h0M420 866h0M457 870h0M303 875h0M561 892h0M183 875h0M832 892h0M159 858h0M394 880h0M360 886h0M600 896h0M533 884h0M636 892h0M593 902h0M470 841h0M460 889h0M548 884h0M584 887h0M298 901h0M640 897h0M846 870h0M418 874h0M411 857h0M805 869h0M928 890h0M652 891h0M589 873h0M126 891h0M640 886h0M631 885h0M130 870h0M202 892h0M176 892h0M910 870h0M592 884h0M152 833h0M168 890h0M188 887h0M471 881h0M660 895h0M717 894h0M130 864h0M447 891h0M333 872h0M258 894h0M492 854h0M584 891h0M218 903h0M442 886h0M378 895h0M454 900h0M418 899h0M362 874h0M870 884h0M505 875h0M647 865h0M680 899h0M474 865h0M655 872h0M342 899h0M386 862h0M680 875h0M909 888h0M321 893h0M631 869h0M131 902h0M501 882h0M370 882h0M680 869h0M236 853h0M630 877h0M405 871h0M144 882h0M336 895h0M326 901h0M456 903h0M436 899h0M267 876h0M364 903h0M549 870h0M706 871h0M504 893h0M734 865h0M232 898h0M713 883h0M872 894h0M683 891h0M720 885h0M347 866h0M255 874h0M354 901h0M830 878h0M865 903h0M718 873h0M655 874h0M631 897h0M828 901h0M923 887h0M348 852h0M206 895h0M236 896h0M206 885h0M876 858h0M668 900h0M388 885h0M428 894h0M520 840h0M274 875h0M236 891h0M218 869h0M911 846h0M496 896h0M168 863h0M438 868h0M867 861h0M606 892h0M796 895h0M592 864h0M309 893h0M820 892h0M418 889h0M408 870h0M313 855h0M218 859h0M145 862h0M194 903h0M544 891h0M830 891h0M561 889h0M354 889h0M386 885h0M451 891h0M908 840h0M464 863h0M233 895h0M610 888h0M780 878h0M912 897h0M564 873h0M514 893h0M802 868h0M369 892h0M906 903h0M826 901h0M489 880h0M912 889h0M154 871h0M280 893h0M473 855h0M553 893h0M882 898h0M820 882h0M312 886h0M767 854h0M830 901h0M928 874h0M794 889h0M312 901h0M909 864h0M591 890h0M495 858h0M926 879h0M839 879h0M258 899h0M631 821h0M620 896h0M428 860h0M259 879h0M682 898h0M908 878h0M158 896h0M352 838h0M544 889h0M364 855h0M811 874h0M126 874h0M563 892h0M796 893h0M540 895h0M394 892h0M538 895h0M578 893h0M804 888h0M828 880h0M219 895h0M792 861h0M661 868h0M706 877h0M218 886h0M672 900h0M782 876h0M671 861h0M720 903h0M653 854h0M180 900h0M844 862h0M388 887h0M398 902h0M182 878h0M653 889h0M496 868h0M127 881h0M760 872h0M401 897h0M392 862h0M342 896h0M720 900h0M584 879h0M334 879h0M133 858h0M796 900h0M408 883h0M766 883h0M525 895h0M670 901h0M744 885h0M778 852h0M649 853h0M466 897h0M654 886h0M190 903h0M533 868h0M746 859h0M242 900h0M871 888h0M518 882h0M146 874h0M828 895h0M844 883h0M219 855h0M674 871h0M420 855h0M768 830h0M274 867h0M544 885h0M521 882h0M720 882h0M501 897h0M863 902h0M434 868h0M248 897h0M556 889h0M406 894h0M370 899h0M726 884h0M231 894h0M820 853h0M842 879h0M144 903h0M704 883h0M675 854h0M378 861h0M339 869h0M534 861h0M386 888h0M236 861h0M886 860h0M442 847h0M426 878h0M211 872h0M328 899h0M802 884h0M278 890h0M244 904h0M324 850h0M423 875h0M887 878h0M828 889h0M844 879h0M322 894h0M782 896h0M796 885h0M259 858h0M926 875h0M346 887h0M506 902h0M202 870h0M713 901h0M188 837h0M644 891h0M330 901h0M730 889h0M311 886h0M790 893h0M411 900h0M399 858h0M644 881h0M612 863h0M819 901h0M597 888h0M702 886h0M192 867h0M706 869h0M340 886h0M255 864h0M612 895h0M270 896h0M840 902h0M694 891h0M812 898h0M266 836h0M539 890h0M628 898h0M542 877h0M295 884h0M463 873h0M292 888h0M600 883h0M640 894h0M880 886h0M174 895h0M816 862h0M631 879h0M601 880h0M362 897h0M285 877h0M534 892h0M135 877h0M628 884h0M796 878h0M856 874h0M563 857h0M246 855h0M727 876h0M261 873h0M474 827h0M906 892h0M769 849h0M154 875h0M292 886h0M631 900h0M418 828h0M317 851h0M336 898h0M632 887h0M502 858h0M820 900h0M576 867h0M206 867h0M754 895h0M604 879h0M615 880h0M630 863h0M378 901h0M644 899h0M281 870h0M274 900h0M680 858h0M237 886h0M631 889h0M273 889h0M590 885h0M274 878h0M856 897h0M357 889h0M402 892h0M244 875h0M392 872h0M727 902h0M316 880h0M856 870h0M169 883h0M130 873h0M218 878h0M842 863h0M614 889h0M612 884h0M322 902h0M867 884h0M559 874h0M600 875h0M610 892h0M542 899h0M820 885h0M218 901h0M213 855h0M566 888h0M434 897h0M450 884h0M322 898h0M237 877h0M454 866h0M218 898h0M292 881h0M306 891h0M446 897h0M639 863h0M745 871h0M606 877h0M218 862h0M534 862h0M244 870h0M248 856h0M886 901h0M247 895h0M470 891h0M384 873h0M190 847h0M210 883h0M190 900h0M879 891h0M500 868h0M788 869h0M494 864h0M732 855h0M883 871h0M898 856h0M387 875h0M464 870h0M432 896h0M274 892h0M357 895h0M705 886h0M302 902h0M652 895h0M926 857h0M682 897h0M631 900h0M418 894h0M796 850h0M303 895h0M898 879h0M268 896h0M313 860h0M886 887h0M882 884h0M648 861h0M766 885h0M352 875h0M378 877h0M271 868h0M464 876h0M489 903h0M556 886h0M362 878h0M909 845h0M728 882h0M432 891h0M489 881h0M244 843h0M824 826h0M145 865h0M797 853h0M796 889h0M705 871h0M600 858h0M660 881h0M148 895h0M512 855h0M700 876h0M366 845h0M782 864h0M202 897h0M551 874h0M239 834h0M844 875h0M148 885h0M217 859h0M501 870h0M337 887h0M866 857h0M820 875h0M590 863h0M428 876h0M720 890h0M373 900h0M853 896h0M551 859h0M292 860h0M398 872h0M778 891h0M422 864h0M302 858h0M166 874h0M612 875h0M839 873h0M751 861h0M376 885h0M884 872h0M857 841h0M536 902h0M578 888h0M592 890h0M680 888h0M548 865h0M668 903h0M144 890h0M811 870h0M619 898h0M520 868h0M890 867h0M319 869h0M428 888h0M238 895h0M812 896h0M737 877h0M391 856h0M835 870h0M158 876h0M702 889h0M297 846h0M202 867h0M679 828h0M778 887h0M726 890h0M145 880h0M429 836h0M399 869h0M206 891h0M692 893h0M398 890h0M676 883h0M358 902h0M839 884h0M628 862h0M880 900h0M237 890h0M132 884h0M392 865h0M626 897h0M664 896h0M206 874h0M598 875h0M238 873h0M324 858h0M560 854h0M844 895h0M659 902h0M311 836h0M672 883h0M267 893h0" stroke="#f51a10" stroke-width="4.6" stroke-linecap="round" fill="none"/>
<path transform="scale(.5)" d="M382 840h0M154 844h0M495 836h0M639 852h0M644 838h0M718 837h0M130 838h0M753 847h0M883 834h0M630 846h0M514 849h0M231 835h0M560 852h0M830 835h0M293 850h0M719 843h0M505 852h0M386 830h0M613 852h0M455 839h0M840 829h0M886 842h0M648 842h0M269 840h0M747 836h0M867 835h0M167 848h0M868 836h0M878 814h0M238 852h0M384 844h0M592 844h0M244 838h0M230 831h0M600 848h0M704 828h0M133 841h0M230 827h0M867 836h0M623 830h0M600 838h0M378 829h0M404 834h0M238 849h0M229 827h0M383 830h0M824 827h0M379 851h0M295 850h0M494 841h0M929 830h0M669 850h0M805 853h0M638 833h0M595 826h0M364 831h0M319 843h0M744 829h0M311 833h0M144 844h0M462 848h0M646 850h0M803 839h0M924 848h0M214 831h0M592 852h0M774 836h0M419 850h0M522 849h0M796 847h0M560 849h0M235 841h0M336 846h0M715 848h0M646 832h0M867 844h0M607 838h0M387 825h0M371 837h0M769 841h0M235 852h0M499 849h0M398 849h0M796 845h0M373 840h0M693 828h0M637 850h0M385 835h0M725 843h0M797 838h0M576 845h0M497 827h0M152 834h0M227 840h0M503 843h0M353 830h0M183 831h0M908 835h0M386 853h0M238 844h0M858 849h0M745 852h0M746 845h0M804 851h0M339 849h0M417 827h0M601 845h0M428 830h0M370 843h0M372 851h0M888 844h0M778 851h0M200 848h0M661 834h0M531 852h0M839 814h0M731 842h0M559 844h0M928 837h0M525 835h0M369 832h0M869 852h0M866 846h0M312 845h0M499 851h0M848 843h0M238 835h0M245 831h0M313 826h0M600 834h0M191 850h0M188 844h0M346 832h0M841 849h0M230 842h0M168 832h0M322 839h0M296 843h0M218 852h0M630 848h0M391 831h0M274 849h0M173 845h0M764 846h0M561 842h0M506 837h0M531 828h0M908 852h0M640 851h0M316 830h0M130 842h0M638 835h0M639 851h0M456 836h0M792 843h0M768 828h0M868 845h0M856 837h0M238 841h0M436 848h0M364 844h0M591 835h0M856 851h0M534 849h0M498 844h0M885 845h0M155 846h0M168 840h0M361 845h0M885 839h0M769 829h0M244 851h0M699 852h0M377 843h0M429 832h0M926 853h0M238 837h0M642 850h0M910 833h0M244 849h0M317 832h0M830 840h0M581 850h0M866 850h0M602 839h0M592 848h0M423 838h0M244 839h0M727 853h0M231 826h0M745 827h0M182 852h0M419 852h0M589 849h0M882 838h0M386 836h0M404 851h0M144 847h0M499 844h0M482 836h0M178 849h0M746 833h0M632 845h0M154 849h0M829 829h0M817 842h0M275 850h0M648 844h0M456 835h0M713 830h0M152 837h0M635 832h0M628 846h0M369 850h0M746 829h0M316 845h0M554 847h0M727 832h0M662 825h0M228 840h0M352 843h0M429 850h0M731 851h0M578 845h0M841 837h0M600 842h0M699 834h0" stroke="#c30c0a" stroke-width="4.6" stroke-linecap="round" fill="none"/>
<path d="M70.6 399.8h0M73.1 405.4h0M76.7 406h0M63.5 411.3h0M98.5 391.5h0M107.7 392.1h0M95.2 401.2h0M103.3 401.7h0M111.3 406.5h0M91.7 412.3h0M125 397.3h0M123.5 407.3h0M146.5 396.9h0M158.5 377.7h0M139.2 413.1h0M194.4 381.3h0M184.4 392.5h0M277.5 395.2h0M335.6 383.1h0M335.6 384.6h0M335.6 390.4h0M297.1 406.7h0M277.5 414.4h0M378.7 367.5h0M378.7 379.3h0M378.7 400h0M380.5 400h0M378.7 405.8h0M380.8 405.8h0M397.4 383h0M441.6 371.6h0M441.6 380.3h0M459.9 372.4h0M119.4 395.8h0M119.3 398.3h0" stroke="#ac0c0a" stroke-width="2.7" stroke-linecap="round" fill="none"/>
<path d="M75.4 409.4h0M101.9 415.6h0M223.7 396h0M245 390h0M233 410.8h0M233.8 408.8h0M310 403.8h0M297 407.7h0M361.3 378.4h0M407 395.2h0M453.7 407.2h0M245 408h0M245 412.5h0M245.1 416.3h0M245 421.4h0M245.2 424.4h0M245 427h0M244.9 430.7h0M259.7 407.7h0M259.7 409.3h0M259.6 411.8h0M259.4 413.4h0M259.6 414.8h0M259.4 416.8h0M259.5 419.5h0M259.5 421.5h0M259.9 424.1h0M259.6 425.6h0M321.4 399h0M321.4 401.5h0M321.1 403h0M321.1 404.9h0M321.1 407.9h0M425.5 402.4h0M425.6 404.7h0M425.7 406.3h0M425.4 409h0M406.9 407.7h0M407 410.1h0M407 412.3h0M407.1 414h0M407.1 416.3h0M407 418.2h0M407.3 420.5h0" stroke="#4680d6" stroke-width="2.7" stroke-linecap="round" fill="none"/>
<path d="M63.8 418.5h0M63.8 420.5h0M63.8 422.3h0M96 401.6h0M126.3 411.7h0M150.4 399.2h0M146.5 412.1h0M86.5 418.5h0M86.5 421.3h0M106.2 408.8h0M107.1 412.7h0M179.4 399.2h0M165.6 405h0M156 407h0M190.6 409.2h0M186 412.3h0M194.4 413.7h0M220.4 402.7h0M225.2 401.7h0M227.7 401.5h0M211.2 406.5h0M235.8 405.4h0M233.8 407.3h0M239.6 410.8h0M216.9 409.8h0M266.7 366.3h0M266.7 377.3h0M307.7 398h0M308.8 399h0M343.3 402.3h0M341.9 407.7h0M336 405.4h0M255.8 409.6h0M287.5 418.3h0M351 396.9h0M358.2 391.3h0M378.7 389h0M381 393.3h0M383 394.5h0M408.7 394.5h0M409.9 396.9h0M409.4 405.3h0M421.4 390.4h0M426.7 388.5h0M432.7 376.4h0M440.7 400.5h0M437.5 402.9h0M461.1 398.8h0M463.5 401h0M463.5 411.5h0M421.9 407.2h0M400.3 410.6h0M365.4 407.7h0M349.8 413h0M418.3 414.4h0M119 406h0M119 408.3h0M119.2 410.9h0M119 412.4h0M119.5 415h0M119.2 417.4h0M119.3 419.1h0M119.2 421.4h0M154.2 401h0M154 403.2h0M154.3 405.7h0M154.1 408.7h0M154.2 410.2h0M154.1 412.4h0M176.9 371h0M176.6 372.5h0M176.6 374.1h0M176.6 376.1h0M176.6 377.6h0M176.9 378.5h0M176.7 379.9h0M176.7 381.7h0M176.6 383.5h0M176.5 385.4h0M176.7 386.8h0M176.7 388.5h0M176.5 389.9h0M176.7 391.6h0M176.8 392.9h0M176.5 399h0M176.6 400.8h0M176.9 403.9h0M176.6 406h0M176.7 407.6h0M176.8 409.8h0M176.6 411.2h0M176.8 413.3h0M176.9 415.9h0M176.5 418.7h0M264.9 393.3h0M265 395.6h0M264.8 397.1h0M265.2 399.6h0M264.9 401.8h0M265 404.2h0M265 405.7h0M321.2 393.8h0M361.5 398h0M361.5 400.8h0M361.4 402.8h0M361.3 405h0M361.4 406.5h0M361.3 407.8h0M361.4 409.8h0M361.3 412.7h0M361.4 414.8h0M361.2 416.4h0M361.3 418.2h0M361.1 419.7h0M361.2 421.4h0" stroke="#e81610" stroke-width="2.7" stroke-linecap="round" fill="none"/></g>
<line x1="44" x2="484.4" y1="350.78" y2="350.78" stroke="#f03535" stroke-width="1.05"/>
<line x1="44" x2="484.4" y1="424.20" y2="424.20" stroke="#cf4858" stroke-width="0.85" stroke-dasharray="2.4 2.2"/>
<line x1="43.5" x2="43.5" y1="287.00" y2="514.40" stroke="#111" stroke-width="1.1"/>
<line x1="43" x2="484" y1="513.85" y2="513.85" stroke="#111" stroke-width="1.1"/>
<line x1="40.2" x2="43" y1="513.20" y2="513.20" stroke="#111" stroke-width="0.9"/>
<text x="37.6" y="515.85" class="yt">0</text>
<line x1="40.2" x2="43" y1="468.70" y2="468.70" stroke="#111" stroke-width="0.9"/>
<text x="37.6" y="471.35" class="yt">2</text>
<line x1="40.2" x2="43" y1="424.20" y2="424.20" stroke="#111" stroke-width="0.9"/>
<text x="37.6" y="426.85" class="yt">4</text>
<line x1="40.2" x2="43" y1="379.70" y2="379.70" stroke="#111" stroke-width="0.9"/>
<text x="37.6" y="382.35" class="yt">6</text>
<line x1="40.2" x2="43" y1="335.20" y2="335.20" stroke="#111" stroke-width="0.9"/>
<text x="37.6" y="337.85" class="yt">8</text>
<line x1="40.2" x2="43" y1="290.70" y2="290.70" stroke="#111" stroke-width="0.9"/>
<text x="37.6" y="293.35" class="yt">10</text>
<line x1="80.75" x2="80.75" y1="514.30" y2="516.90" stroke="#111" stroke-width="0.9"/>
<text x="0" y="0" class="xt" transform="translate(80.75 526.50) scale(0.62 1)">1</text>
<line x1="115" x2="115" y1="514.30" y2="516.90" stroke="#111" stroke-width="0.9"/>
<text x="0" y="0" class="xt" transform="translate(115 526.50) scale(0.62 1)">2</text>
<line x1="145.75" x2="145.75" y1="514.30" y2="516.90" stroke="#111" stroke-width="0.9"/>
<text x="0" y="0" class="xt" transform="translate(145.75 526.50) scale(0.62 1)">3</text>
<line x1="173" x2="173" y1="514.30" y2="516.90" stroke="#111" stroke-width="0.9"/>
<text x="0" y="0" class="xt" transform="translate(173 526.50) scale(0.62 1)">4</text>
<line x1="198.75" x2="198.75" y1="514.30" y2="516.90" stroke="#111" stroke-width="0.9"/>
<text x="0" y="0" class="xt" transform="translate(198.75 526.50) scale(0.62 1)">5</text>
<line x1="223.25" x2="223.25" y1="514.30" y2="516.90" stroke="#111" stroke-width="0.9"/>
<text x="0" y="0" class="xt" transform="translate(223.25 526.50) scale(0.62 1)">6</text>
<line x1="246.25" x2="246.25" y1="514.30" y2="516.90" stroke="#111" stroke-width="0.9"/>
<text x="0" y="0" class="xt" transform="translate(246.25 526.50) scale(0.62 1)">7</text>
<line x1="267.5" x2="267.5" y1="514.30" y2="516.90" stroke="#111" stroke-width="0.9"/>
<text x="0" y="0" class="xt" transform="translate(267.5 526.50) scale(0.62 1)">8</text>
<line x1="287.5" x2="287.5" y1="514.30" y2="516.90" stroke="#111" stroke-width="0.9"/>
<text x="0" y="0" class="xt" transform="translate(287.5 526.50) scale(0.62 1)">9</text>
<line x1="307" x2="307" y1="514.30" y2="516.90" stroke="#111" stroke-width="0.9"/>
<text x="0" y="0" class="xt" transform="translate(307 526.50) scale(0.62 1)">10</text>
<line x1="325.5" x2="325.5" y1="514.30" y2="516.90" stroke="#111" stroke-width="0.9"/>
<text x="0" y="0" class="xt" transform="translate(325.5 526.50) scale(0.62 1)">11</text>
<line x1="344.5" x2="344.5" y1="514.30" y2="516.90" stroke="#111" stroke-width="0.9"/>
<text x="0" y="0" class="xt" transform="translate(344.5 526.50) scale(0.62 1)">12</text>
<line x1="363.25" x2="363.25" y1="514.30" y2="516.90" stroke="#111" stroke-width="0.9"/>
<text x="0" y="0" class="xt" transform="translate(363.25 526.50) scale(0.62 1)">13</text>
<line x1="379" x2="379" y1="514.30" y2="516.90" stroke="#111" stroke-width="0.9"/>
<text x="0" y="0" class="xt" transform="translate(379 526.50) scale(0.62 1)">14</text>
<line x1="393.75" x2="393.75" y1="514.30" y2="516.90" stroke="#111" stroke-width="0.9"/>
<text x="0" y="0" class="xt" transform="translate(393.75 526.50) scale(0.62 1)">15</text>
<line x1="405.5" x2="405.5" y1="514.30" y2="516.90" stroke="#111" stroke-width="0.9"/>
<text x="0" y="0" class="xt" transform="translate(405.5 526.50) scale(0.62 1)">16</text>
<line x1="417.5" x2="417.5" y1="514.30" y2="516.90" stroke="#111" stroke-width="0.9"/>
<text x="0" y="0" class="xt" transform="translate(417.5 526.50) scale(0.62 1)">17</text>
<line x1="428.75" x2="428.75" y1="514.30" y2="516.90" stroke="#111" stroke-width="0.9"/>
<text x="0" y="0" class="xt" transform="translate(428.75 526.50) scale(0.62 1)">18</text>
<line x1="438" x2="438" y1="514.30" y2="516.90" stroke="#111" stroke-width="0.9"/>
<text x="0" y="0" class="xt" transform="translate(438 526.50) scale(0.62 1)">19</text>
<line x1="447" x2="447" y1="514.30" y2="516.90" stroke="#111" stroke-width="0.9"/>
<text x="0" y="0" class="xt" transform="translate(447 526.50) scale(0.62 1)">20</text>
<line x1="455.5" x2="455.5" y1="514.30" y2="516.90" stroke="#111" stroke-width="0.9"/>
<text x="0" y="0" class="xt" transform="translate(455.5 526.50) scale(0.62 1)">21</text>
<line x1="462.5" x2="462.5" y1="514.30" y2="516.90" stroke="#111" stroke-width="0.9"/>
<text x="0" y="0" class="xt" transform="translate(462.5 526.50) scale(0.62 1)">22</text>
<text x="0" y="0" class="xl" transform="translate(263.55 539.10) scale(0.66 1)">Chromosome</text>
<g transform="translate(22.6 398.4) rotate(-90) scale(0.86 1)"><text x="0" y="0" class="yl">−log<tspan font-size="5" dy="1.5">10</tspan><tspan dy="-1.5"> (p-value)</tspan></text></g>
<text x="493.5" y="377.9" class="lg">Beta</text>
<rect x="494" y="381.8" width="9.9" height="49.6" fill="url(#cb)"/>
<line x1="494" x2="496" y1="390.1" y2="390.1" stroke="#fff" stroke-width="0.6" opacity="0.8"/>
<line x1="501.9" x2="503.9" y1="390.1" y2="390.1" stroke="#fff" stroke-width="0.6" opacity="0.8"/>
<text x="506.5" y="392.7" class="lt">1</text>
<line x1="494" x2="496" y1="406.6" y2="406.6" stroke="#fff" stroke-width="0.6" opacity="0.8"/>
<line x1="501.9" x2="503.9" y1="406.6" y2="406.6" stroke="#fff" stroke-width="0.6" opacity="0.8"/>
<text x="506.5" y="409.2" class="lt">0</text>
<line x1="494" x2="496" y1="423.0" y2="423.0" stroke="#fff" stroke-width="0.6" opacity="0.8"/>
<line x1="501.9" x2="503.9" y1="423.0" y2="423.0" stroke="#fff" stroke-width="0.6" opacity="0.8"/>
<text x="506.5" y="425.6" class="lt">−1</text>
<rect x="0.5" y="0.5" width="519" height="545" fill="none" stroke="#000" stroke-width="1.05"/>
</svg>
</body></html>
